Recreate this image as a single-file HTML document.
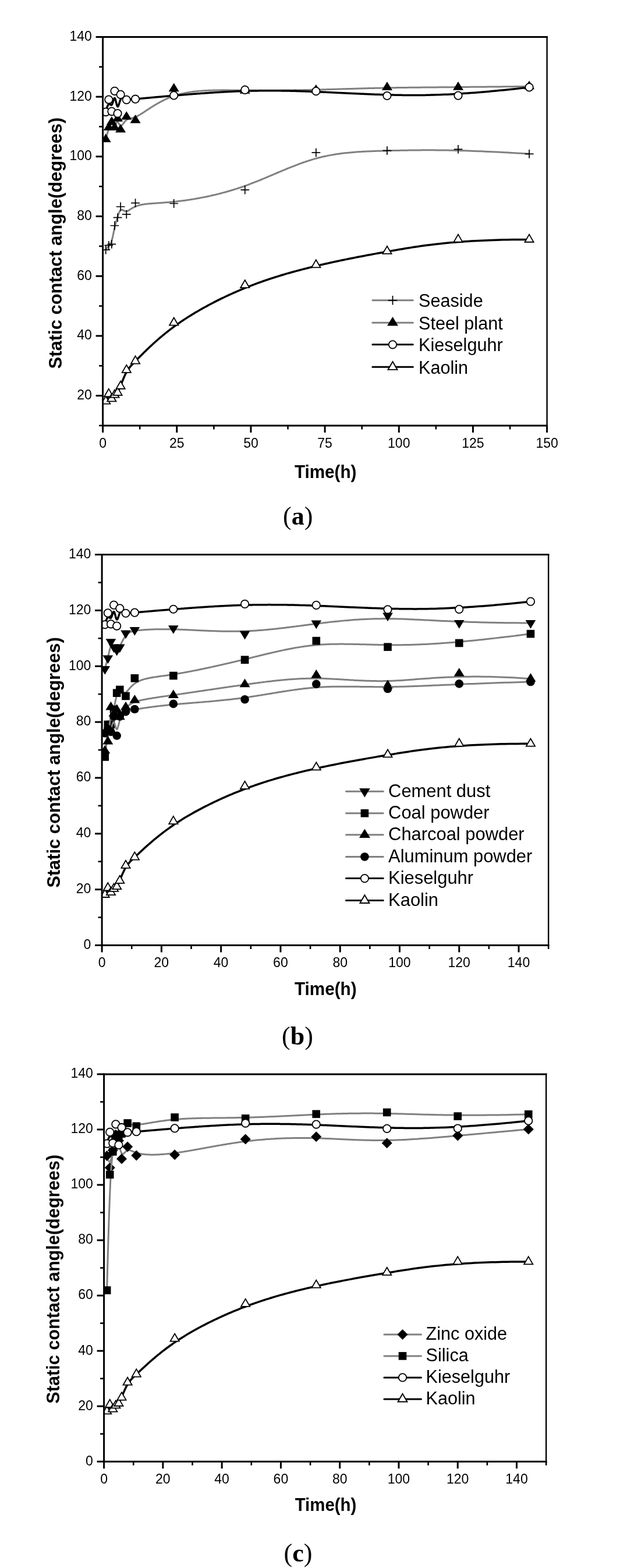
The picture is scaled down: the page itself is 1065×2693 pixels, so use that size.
<!DOCTYPE html>
<html><head><meta charset="utf-8"><title>Static contact angle</title>
<style>html,body{margin:0;padding:0;background:#fff;}svg{display:block;}</style></head>
<body>
<svg width="1065" height="2693" viewBox="0 0 1065 2693">
<rect width="1065" height="2693" fill="#fff"/>
<clipPath id="clip782"><rect x="176.60" y="63.50" width="763.00" height="667.42"/></clipPath>
<g clip-path="url(#clip782)">
<path d="M181.69,429.20 L182.01,428.71 L182.32,428.23 L182.63,427.77 L182.93,427.33 L183.22,426.91 L183.51,426.50 L183.79,426.10 L184.07,425.72 L184.33,425.36 L184.60,425.00 L184.86,424.66 L185.11,424.33 L185.36,424.01 L185.60,423.70 L185.84,423.39 L186.07,423.10 L186.29,422.82 L186.52,422.54 L186.73,422.27 L186.95,422.00 L187.15,421.74 L187.36,421.49 L187.56,421.24 L187.75,420.99 L187.95,420.74 L188.13,420.50 L188.32,420.26 L188.50,420.01 L188.68,419.77 L188.85,419.53 L189.02,419.28 L189.19,419.04 L189.35,418.79 L189.51,418.54 L189.67,418.28 L189.83,418.02 L189.98,417.75 L190.13,417.48 L190.28,417.20 L190.43,416.91 L190.58,416.61 L190.72,416.31 L190.86,415.99 L191.00,415.67 L191.14,415.33 L191.28,414.98 L191.41,414.63 L191.55,414.25 L191.68,413.87 L191.81,413.47 L191.94,413.06 L192.07,412.64 L192.20,412.21 L192.33,411.77 L192.46,411.32 L192.58,410.85 L192.71,410.38 L192.83,409.91 L192.96,409.42 L193.08,408.92 L193.20,408.42 L193.32,407.91 L193.44,407.40 L193.56,406.88 L193.68,406.35 L193.80,405.82 L193.91,405.28 L194.03,404.74 L194.15,404.19 L194.26,403.65 L194.38,403.10 L194.49,402.54 L194.60,401.99 L194.72,401.43 L194.83,400.88 L194.94,400.32 L195.05,399.76 L195.16,399.20 L195.28,398.65 L195.39,398.09 L195.50,397.54 L195.61,396.98 L195.72,396.44 L195.82,395.89 L195.93,395.35 L196.04,394.81 L196.15,394.27 L196.26,393.74 L196.37,393.22 L196.48,392.70 L196.58,392.19 L196.69,391.68 L196.80,391.18 L196.91,390.69 L197.02,390.21 L197.12,389.73 L197.23,389.27 L197.34,388.81 L197.45,388.36 L197.55,387.91 L197.66,387.47 L197.77,387.04 L197.88,386.61 L197.99,386.19 L198.09,385.78 L198.20,385.37 L198.31,384.97 L198.42,384.58 L198.52,384.18 L198.63,383.80 L198.74,383.42 L198.85,383.04 L198.96,382.67 L199.06,382.30 L199.17,381.93 L199.28,381.57 L199.39,381.21 L199.49,380.86 L199.60,380.51 L199.71,380.16 L199.82,379.81 L199.93,379.47 L200.03,379.12 L200.14,378.78 L200.25,378.45 L200.36,378.11 L200.47,377.77 L200.57,377.44 L200.68,377.10 L200.79,376.77 L200.90,376.44 L201.00,376.10 L201.11,375.77 L201.22,375.44 L201.33,375.10 L201.44,374.77 L201.54,374.43 L201.65,374.09 L201.76,373.75 L201.87,373.41 L201.97,373.07 L202.08,372.73 L202.19,372.38 L202.30,372.03 L202.41,371.68 L202.51,371.33 L202.62,370.98 L202.73,370.63 L202.84,370.28 L202.95,369.93 L203.06,369.58 L203.17,369.23 L203.28,368.88 L203.39,368.54 L203.50,368.19 L203.62,367.85 L203.73,367.51 L203.84,367.18 L203.96,366.85 L204.07,366.52 L204.19,366.20 L204.31,365.88 L204.43,365.56 L204.55,365.26 L204.67,364.95 L204.79,364.66 L204.91,364.37 L205.03,364.08 L205.16,363.81 L205.29,363.54 L205.42,363.28 L205.54,363.02 L205.68,362.78 L205.81,362.54 L205.94,362.32 L206.08,362.10 L206.22,361.89 L206.35,361.69 L206.50,361.51 L206.64,361.33 L206.78,361.17 L206.93,361.02 L207.08,360.87 L207.23,360.75 L207.38,360.63 L207.54,360.53 L207.69,360.44 L207.85,360.36 L208.01,360.30 L208.18,360.25 L208.34,360.22 L208.51,360.20 L208.68,360.19 L208.85,360.19 L209.03,360.21 L209.20,360.23 L209.38,360.27 L209.57,360.31 L209.75,360.36 L209.94,360.42 L210.12,360.49 L210.32,360.57 L210.51,360.65 L210.70,360.73 L210.90,360.82 L211.10,360.92 L211.30,361.02 L211.51,361.12 L211.72,361.22 L211.92,361.33 L212.14,361.44 L212.35,361.55 L212.57,361.66 L212.78,361.76 L213.01,361.87 L213.23,361.97 L213.45,362.08 L213.68,362.17 L213.91,362.27 L214.14,362.36 L214.38,362.45 L214.61,362.53 L214.85,362.60 L215.09,362.67 L215.34,362.73 L215.58,362.78 L215.83,362.83 L216.08,362.86 L216.33,362.88 L216.59,362.90 L216.85,362.90 L217.10,362.89 L217.37,362.87 L217.63,362.84 L217.90,362.79 L218.17,362.73 L218.44,362.65 L218.71,362.56 L218.99,362.46 L219.27,362.34 L219.55,362.21 L219.84,362.07 L220.14,361.91 L220.44,361.75 L220.74,361.57 L221.05,361.39 L221.37,361.19 L221.70,360.99 L222.03,360.77 L222.37,360.55 L222.72,360.32 L223.08,360.09 L223.44,359.84 L223.82,359.60 L224.21,359.34 L224.61,359.08 L225.02,358.82 L225.44,358.55 L225.87,358.28 L226.31,358.01 L226.77,357.73 L227.24,357.45 L227.73,357.17 L228.22,356.89 L228.74,356.61 L229.27,356.33 L229.81,356.05 L230.37,355.77 L230.94,355.49 L231.54,355.21 L232.14,354.94 L232.77,354.67 L233.42,354.40 L234.08,354.14 L234.76,353.88 L235.46,353.62 L236.19,353.38 L236.93,353.13 L237.69,352.90 L238.47,352.67 L239.28,352.45 L240.10,352.24 L240.95,352.03 L241.82,351.84 L242.72,351.65 L243.64,351.48 L244.58,351.31 L245.54,351.15 L246.53,350.99 L247.54,350.84 L248.57,350.70 L249.63,350.57 L250.71,350.44 L251.81,350.31 L252.94,350.19 L254.09,350.07 L255.26,349.96 L256.46,349.85 L257.68,349.74 L258.92,349.64 L260.19,349.54 L261.48,349.44 L262.79,349.34 L264.13,349.24 L265.50,349.14 L266.88,349.04 L268.29,348.94 L269.73,348.84 L271.19,348.74 L272.67,348.63 L274.18,348.53 L275.71,348.42 L277.26,348.31 L278.84,348.19 L280.45,348.07 L282.08,347.95 L283.73,347.82 L285.41,347.69 L287.11,347.55 L288.83,347.40 L290.59,347.25 L292.36,347.09 L294.16,346.92 L295.99,346.75 L297.84,346.57 L299.71,346.37 L301.61,346.17 L303.54,345.96 L305.49,345.74 L307.46,345.51 L309.46,345.27 L311.49,345.02 L313.54,344.76 L315.61,344.48 L317.71,344.20 L319.82,343.90 L321.96,343.59 L324.13,343.27 L326.31,342.94 L328.51,342.59 L330.74,342.23 L332.98,341.86 L335.24,341.48 L337.52,341.08 L339.82,340.67 L342.14,340.25 L344.47,339.81 L346.82,339.36 L349.18,338.90 L351.56,338.42 L353.95,337.93 L356.36,337.43 L358.78,336.91 L361.22,336.37 L363.67,335.83 L366.12,335.26 L368.59,334.68 L371.08,334.09 L373.57,333.48 L376.07,332.86 L378.58,332.22 L381.10,331.56 L383.63,330.89 L386.16,330.21 L388.71,329.50 L391.26,328.78 L393.81,328.05 L396.37,327.30 L398.94,326.53 L401.51,325.74 L404.08,324.94 L406.66,324.12 L409.24,323.28 L411.83,322.43 L414.41,321.55 L417.00,320.66 L419.58,319.75 L422.17,318.83 L424.76,317.88 L427.35,316.92 L429.93,315.94 L432.52,314.95 L435.11,313.94 L437.70,312.93 L440.28,311.89 L442.87,310.85 L445.46,309.80 L448.05,308.74 L450.63,307.67 L453.22,306.60 L455.81,305.51 L458.40,304.43 L460.98,303.33 L463.57,302.24 L466.16,301.14 L468.75,300.04 L471.33,298.94 L473.92,297.85 L476.51,296.75 L479.09,295.65 L481.68,294.56 L484.27,293.48 L486.86,292.40 L489.44,291.32 L492.03,290.25 L494.62,289.20 L497.21,288.15 L499.79,287.11 L502.38,286.08 L504.97,285.06 L507.56,284.06 L510.14,283.07 L512.73,282.09 L515.32,281.14 L517.91,280.19 L520.49,279.27 L523.08,278.37 L525.67,277.48 L528.26,276.62 L530.84,275.78 L533.43,274.96 L536.02,274.16 L538.61,273.39 L541.19,272.64 L543.78,271.93 L546.37,271.23 L548.96,270.57 L551.55,269.93 L554.14,269.31 L556.73,268.72 L559.33,268.16 L561.93,267.61 L564.54,267.10 L567.15,266.60 L569.76,266.12 L572.38,265.67 L575.01,265.24 L577.65,264.82 L580.29,264.43 L582.94,264.05 L585.60,263.70 L588.27,263.36 L590.95,263.04 L593.65,262.73 L596.35,262.44 L599.06,262.17 L601.79,261.91 L604.53,261.67 L607.28,261.44 L610.05,261.22 L612.83,261.02 L615.63,260.82 L618.44,260.64 L621.27,260.47 L624.12,260.31 L626.98,260.16 L629.86,260.02 L632.76,259.89 L635.68,259.77 L638.62,259.65 L641.59,259.54 L644.57,259.44 L647.57,259.34 L650.60,259.25 L653.65,259.16 L656.72,259.07 L659.82,258.99 L662.94,258.91 L666.09,258.84 L669.26,258.77 L672.46,258.69 L675.68,258.62 L678.94,258.55 L682.22,258.48 L685.54,258.41 L688.89,258.34 L692.29,258.27 L695.73,258.21 L699.21,258.15 L702.74,258.09 L706.32,258.04 L709.96,257.99 L713.65,257.95 L717.40,257.92 L721.22,257.89 L725.10,257.86 L729.05,257.85 L733.07,257.84 L737.17,257.84 L741.34,257.85 L745.60,257.87 L749.93,257.90 L754.36,257.94 L758.87,257.99 L763.47,258.05 L768.17,258.12 L772.97,258.21 L777.86,258.31 L782.86,258.42 L787.97,258.55 L793.19,258.69 L798.51,258.85 L803.96,259.02 L809.52,259.21 L815.20,259.41 L821.01,259.63 L826.94,259.87 L833.00,260.13 L839.20,260.40 L845.53,260.70 L852.00,261.01 L858.61,261.35 L865.36,261.70 L872.26,262.08 L879.32,262.48 L886.52,262.90 L893.88,263.34 L901.40,263.81 L909.08,264.30" fill="none" stroke="#808080" stroke-width="3.00" stroke-linejoin="round"/>
<path d="M174.29,429.20H189.09M181.69,421.80V436.60" stroke="#000" stroke-width="1.7" fill="none"/>
<path d="M179.37,421.30H194.17M186.77,413.90V428.70" stroke="#000" stroke-width="1.7" fill="none"/>
<path d="M184.46,419.40H199.26M191.86,412.00V426.80" stroke="#000" stroke-width="1.7" fill="none"/>
<path d="M189.55,387.50H204.35M196.95,380.10V394.90" stroke="#000" stroke-width="1.7" fill="none"/>
<path d="M194.63,373.70H209.43M202.03,366.30V381.10" stroke="#000" stroke-width="1.7" fill="none"/>
<path d="M199.72,355.00H214.52M207.12,347.60V362.40" stroke="#000" stroke-width="1.7" fill="none"/>
<path d="M209.89,368.20H224.69M217.29,360.80V375.60" stroke="#000" stroke-width="1.7" fill="none"/>
<path d="M225.15,348.60H239.95M232.55,341.20V356.00" stroke="#000" stroke-width="1.7" fill="none"/>
<path d="M291.28,349.50H306.08M298.68,342.10V356.90" stroke="#000" stroke-width="1.7" fill="none"/>
<path d="M413.36,326.10H428.16M420.76,318.70V333.50" stroke="#000" stroke-width="1.7" fill="none"/>
<path d="M535.44,262.10H550.24M542.84,254.70V269.50" stroke="#000" stroke-width="1.7" fill="none"/>
<path d="M657.52,258.60H672.32M664.92,251.20V266.00" stroke="#000" stroke-width="1.7" fill="none"/>
<path d="M779.60,256.40H794.40M787.00,249.00V263.80" stroke="#000" stroke-width="1.7" fill="none"/>
<path d="M901.68,264.30H916.48M909.08,256.90V271.70" stroke="#000" stroke-width="1.7" fill="none"/>
<path d="M181.69,239.40 L182.01,238.14 L182.32,236.91 L182.63,235.73 L182.93,234.59 L183.22,233.48 L183.51,232.42 L183.79,231.39 L184.07,230.39 L184.33,229.44 L184.60,228.52 L184.86,227.63 L185.11,226.78 L185.36,225.96 L185.60,225.18 L185.84,224.43 L186.07,223.70 L186.29,223.01 L186.52,222.36 L186.73,221.73 L186.95,221.13 L187.15,220.55 L187.36,220.01 L187.56,219.49 L187.75,219.00 L187.95,218.54 L188.13,218.10 L188.32,217.68 L188.50,217.29 L188.68,216.92 L188.85,216.58 L189.02,216.26 L189.19,215.95 L189.35,215.67 L189.51,215.41 L189.67,215.17 L189.83,214.95 L189.98,214.74 L190.13,214.56 L190.28,214.39 L190.43,214.23 L190.58,214.09 L190.72,213.97 L190.86,213.86 L191.00,213.76 L191.14,213.68 L191.28,213.61 L191.41,213.55 L191.55,213.50 L191.68,213.47 L191.81,213.44 L191.94,213.42 L192.07,213.41 L192.20,213.41 L192.33,213.42 L192.46,213.44 L192.58,213.46 L192.71,213.49 L192.83,213.52 L192.96,213.57 L193.08,213.61 L193.20,213.66 L193.32,213.72 L193.44,213.78 L193.56,213.85 L193.68,213.91 L193.80,213.98 L193.91,214.05 L194.03,214.13 L194.15,214.20 L194.26,214.27 L194.38,214.35 L194.49,214.42 L194.60,214.50 L194.72,214.57 L194.83,214.64 L194.94,214.71 L195.05,214.78 L195.16,214.84 L195.28,214.90 L195.39,214.95 L195.50,215.00 L195.61,215.05 L195.72,215.09 L195.82,215.12 L195.93,215.15 L196.04,215.17 L196.15,215.19 L196.26,215.19 L196.37,215.19 L196.48,215.18 L196.58,215.16 L196.69,215.13 L196.80,215.09 L196.91,215.04 L197.02,214.98 L197.12,214.90 L197.23,214.82 L197.34,214.73 L197.45,214.62 L197.55,214.51 L197.66,214.40 L197.77,214.27 L197.88,214.14 L197.99,214.00 L198.09,213.85 L198.20,213.70 L198.31,213.54 L198.42,213.38 L198.52,213.22 L198.63,213.05 L198.74,212.89 L198.85,212.71 L198.96,212.54 L199.06,212.37 L199.17,212.20 L199.28,212.03 L199.39,211.85 L199.49,211.68 L199.60,211.52 L199.71,211.35 L199.82,211.19 L199.93,211.03 L200.03,210.88 L200.14,210.73 L200.25,210.59 L200.36,210.45 L200.47,210.32 L200.57,210.19 L200.68,210.08 L200.79,209.97 L200.90,209.87 L201.00,209.78 L201.11,209.70 L201.22,209.63 L201.33,209.58 L201.44,209.53 L201.54,209.50 L201.65,209.48 L201.76,209.47 L201.87,209.48 L201.97,209.50 L202.08,209.54 L202.19,209.59 L202.30,209.65 L202.41,209.73 L202.51,209.82 L202.62,209.93 L202.73,210.04 L202.84,210.17 L202.95,210.31 L203.06,210.46 L203.17,210.61 L203.28,210.77 L203.39,210.94 L203.50,211.12 L203.62,211.30 L203.73,211.49 L203.84,211.68 L203.96,211.88 L204.07,212.07 L204.19,212.28 L204.31,212.48 L204.43,212.68 L204.55,212.88 L204.67,213.09 L204.79,213.29 L204.91,213.48 L205.03,213.68 L205.16,213.87 L205.29,214.06 L205.42,214.24 L205.54,214.42 L205.68,214.59 L205.81,214.76 L205.94,214.91 L206.08,215.06 L206.22,215.20 L206.35,215.33 L206.50,215.44 L206.64,215.55 L206.78,215.64 L206.93,215.72 L207.08,215.79 L207.23,215.85 L207.38,215.88 L207.54,215.91 L207.69,215.91 L207.85,215.90 L208.01,215.87 L208.18,215.83 L208.34,215.76 L208.51,215.68 L208.68,215.58 L208.85,215.47 L209.03,215.34 L209.20,215.20 L209.38,215.04 L209.57,214.88 L209.75,214.69 L209.94,214.50 L210.12,214.30 L210.32,214.08 L210.51,213.86 L210.70,213.63 L210.90,213.39 L211.10,213.14 L211.30,212.88 L211.51,212.62 L211.72,212.35 L211.92,212.08 L212.14,211.80 L212.35,211.52 L212.57,211.23 L212.78,210.95 L213.01,210.66 L213.23,210.37 L213.45,210.08 L213.68,209.78 L213.91,209.49 L214.14,209.21 L214.38,208.92 L214.61,208.64 L214.85,208.36 L215.09,208.08 L215.34,207.81 L215.58,207.54 L215.83,207.28 L216.08,207.03 L216.33,206.78 L216.59,206.54 L216.85,206.31 L217.10,206.09 L217.37,205.88 L217.63,205.68 L217.90,205.49 L218.17,205.32 L218.44,205.15 L218.71,205.00 L218.99,204.86 L219.27,204.73 L219.55,204.60 L219.84,204.49 L220.14,204.38 L220.44,204.28 L220.74,204.18 L221.05,204.09 L221.37,204.01 L221.70,203.92 L222.03,203.84 L222.37,203.76 L222.72,203.69 L223.08,203.61 L223.44,203.53 L223.82,203.45 L224.21,203.36 L224.61,203.28 L225.02,203.18 L225.44,203.09 L225.87,202.99 L226.31,202.88 L226.77,202.76 L227.24,202.63 L227.73,202.50 L228.22,202.35 L228.74,202.20 L229.27,202.03 L229.81,201.85 L230.37,201.66 L230.94,201.45 L231.54,201.22 L232.14,200.98 L232.77,200.73 L233.42,200.45 L234.08,200.16 L234.76,199.85 L235.46,199.52 L236.19,199.17 L236.93,198.79 L237.69,198.39 L238.47,197.97 L239.28,197.53 L240.10,197.06 L240.95,196.56 L241.82,196.04 L242.72,195.49 L243.64,194.92 L244.58,194.32 L245.54,193.70 L246.53,193.06 L247.54,192.40 L248.57,191.72 L249.63,191.02 L250.71,190.31 L251.81,189.57 L252.94,188.83 L254.09,188.07 L255.26,187.30 L256.46,186.51 L257.68,185.72 L258.92,184.92 L260.19,184.11 L261.48,183.29 L262.79,182.46 L264.13,181.64 L265.50,180.81 L266.88,179.97 L268.29,179.14 L269.73,178.30 L271.19,177.47 L272.67,176.63 L274.18,175.81 L275.71,174.98 L277.26,174.16 L278.84,173.35 L280.45,172.54 L282.08,171.75 L283.73,170.96 L285.41,170.18 L287.11,169.42 L288.83,168.67 L290.59,167.94 L292.36,167.22 L294.16,166.51 L295.99,165.83 L297.84,165.16 L299.71,164.51 L301.61,163.89 L303.54,163.28 L305.49,162.70 L307.46,162.15 L309.46,161.62 L311.49,161.11 L313.54,160.63 L315.61,160.18 L317.71,159.74 L319.82,159.33 L321.96,158.95 L324.13,158.58 L326.31,158.24 L328.51,157.92 L330.74,157.61 L332.98,157.33 L335.24,157.07 L337.52,156.82 L339.82,156.59 L342.14,156.38 L344.47,156.19 L346.82,156.01 L349.18,155.85 L351.56,155.70 L353.95,155.56 L356.36,155.44 L358.78,155.34 L361.22,155.24 L363.67,155.16 L366.12,155.08 L368.59,155.02 L371.08,154.97 L373.57,154.93 L376.07,154.90 L378.58,154.87 L381.10,154.85 L383.63,154.84 L386.16,154.84 L388.71,154.84 L391.26,154.85 L393.81,154.86 L396.37,154.88 L398.94,154.89 L401.51,154.92 L404.08,154.94 L406.66,154.97 L409.24,155.00 L411.83,155.02 L414.41,155.05 L417.00,155.08 L419.58,155.11 L422.17,155.13 L424.76,155.15 L427.35,155.17 L429.93,155.19 L432.52,155.21 L435.11,155.22 L437.70,155.23 L440.28,155.24 L442.87,155.25 L445.46,155.25 L448.05,155.26 L450.63,155.26 L453.22,155.26 L455.81,155.26 L458.40,155.25 L460.98,155.25 L463.57,155.24 L466.16,155.23 L468.75,155.22 L471.33,155.20 L473.92,155.19 L476.51,155.17 L479.09,155.15 L481.68,155.13 L484.27,155.11 L486.86,155.08 L489.44,155.06 L492.03,155.03 L494.62,155.00 L497.21,154.96 L499.79,154.93 L502.38,154.89 L504.97,154.86 L507.56,154.82 L510.14,154.78 L512.73,154.73 L515.32,154.69 L517.91,154.64 L520.49,154.60 L523.08,154.55 L525.67,154.50 L528.26,154.44 L530.84,154.39 L533.43,154.33 L536.02,154.28 L538.61,154.22 L541.19,154.16 L543.78,154.09 L546.37,154.03 L548.96,153.96 L551.55,153.90 L554.14,153.83 L556.73,153.76 L559.33,153.69 L561.93,153.62 L564.54,153.55 L567.15,153.47 L569.76,153.40 L572.38,153.32 L575.01,153.25 L577.65,153.17 L580.29,153.09 L582.94,153.02 L585.60,152.94 L588.27,152.86 L590.95,152.78 L593.65,152.70 L596.35,152.62 L599.06,152.54 L601.79,152.47 L604.53,152.39 L607.28,152.31 L610.05,152.23 L612.83,152.15 L615.63,152.07 L618.44,152.00 L621.27,151.92 L624.12,151.84 L626.98,151.77 L629.86,151.69 L632.76,151.62 L635.68,151.55 L638.62,151.48 L641.59,151.41 L644.57,151.34 L647.57,151.27 L650.60,151.20 L653.65,151.14 L656.72,151.07 L659.82,151.01 L662.94,150.95 L666.09,150.89 L669.26,150.83 L672.46,150.78 L675.68,150.72 L678.94,150.67 L682.22,150.62 L685.54,150.57 L688.89,150.53 L692.29,150.48 L695.73,150.44 L699.21,150.40 L702.74,150.35 L706.32,150.31 L709.96,150.27 L713.65,150.24 L717.40,150.20 L721.22,150.16 L725.10,150.12 L729.05,150.09 L733.07,150.05 L737.17,150.01 L741.34,149.97 L745.60,149.94 L749.93,149.90 L754.36,149.86 L758.87,149.82 L763.47,149.78 L768.17,149.74 L772.97,149.70 L777.86,149.66 L782.86,149.62 L787.97,149.57 L793.19,149.52 L798.51,149.48 L803.96,149.43 L809.52,149.37 L815.20,149.32 L821.01,149.27 L826.94,149.21 L833.00,149.15 L839.20,149.09 L845.53,149.02 L852.00,148.95 L858.61,148.88 L865.36,148.81 L872.26,148.73 L879.32,148.65 L886.52,148.57 L893.88,148.48 L901.40,148.39 L909.08,148.30" fill="none" stroke="#808080" stroke-width="3.00" stroke-linejoin="round"/>
<path d="M181.69,229.60L190.69,244.30L172.69,244.30Z" fill="#000"/>
<path d="M186.77,209.40L195.77,224.10L177.77,224.10Z" fill="#000"/>
<path d="M191.86,199.70L200.86,214.40L182.86,214.40Z" fill="#000"/>
<path d="M196.95,209.40L205.95,224.10L187.95,224.10Z" fill="#000"/>
<path d="M202.03,194.00L211.03,208.70L193.03,208.70Z" fill="#000"/>
<path d="M207.12,212.90L216.12,227.60L198.12,227.60Z" fill="#000"/>
<path d="M217.29,190.90L226.29,205.60L208.29,205.60Z" fill="#000"/>
<path d="M232.55,196.70L241.55,211.40L223.55,211.40Z" fill="#000"/>
<path d="M298.68,142.60L307.68,157.30L289.68,157.30Z" fill="#000"/>
<path d="M420.76,146.10L429.76,160.80L411.76,160.80Z" fill="#000"/>
<path d="M542.84,144.90L551.84,159.60L533.84,159.60Z" fill="#000"/>
<path d="M664.92,140.20L673.92,154.90L655.92,154.90Z" fill="#000"/>
<path d="M787.00,140.00L796.00,154.70L778.00,154.70Z" fill="#000"/>
<path d="M909.08,138.50L918.08,153.20L900.08,153.20Z" fill="#000"/>
<path d="M181.69,192.31 L182.01,191.00 L182.32,189.77 L182.63,188.62 L182.93,187.55 L183.22,186.55 L183.51,185.62 L183.79,184.77 L184.07,183.98 L184.33,183.26 L184.60,182.60 L184.86,182.00 L185.11,181.46 L185.36,180.98 L185.60,180.55 L185.84,180.17 L186.07,179.83 L186.29,179.55 L186.52,179.31 L186.73,179.11 L186.95,178.94 L187.15,178.82 L187.36,178.73 L187.56,178.67 L187.75,178.64 L187.95,178.63 L188.13,178.65 L188.32,178.69 L188.50,178.75 L188.68,178.83 L188.85,178.93 L189.02,179.03 L189.19,179.15 L189.35,179.27 L189.51,179.39 L189.67,179.52 L189.83,179.65 L189.98,179.78 L190.13,179.90 L190.28,180.02 L190.43,180.13 L190.58,180.22 L190.72,180.30 L190.86,180.36 L191.00,180.41 L191.14,180.43 L191.28,180.43 L191.41,180.40 L191.55,180.34 L191.68,180.25 L191.81,180.14 L191.94,180.00 L192.07,179.84 L192.20,179.65 L192.33,179.45 L192.46,179.22 L192.58,178.97 L192.71,178.71 L192.83,178.43 L192.96,178.13 L193.08,177.82 L193.20,177.50 L193.32,177.17 L193.44,176.82 L193.56,176.47 L193.68,176.11 L193.80,175.75 L193.91,175.38 L194.03,175.01 L194.15,174.63 L194.26,174.26 L194.38,173.89 L194.49,173.52 L194.60,173.15 L194.72,172.78 L194.83,172.43 L194.94,172.08 L195.05,171.73 L195.16,171.40 L195.28,171.08 L195.39,170.78 L195.50,170.48 L195.61,170.21 L195.72,169.94 L195.82,169.70 L195.93,169.48 L196.04,169.27 L196.15,169.09 L196.26,168.93 L196.37,168.80 L196.48,168.69 L196.58,168.61 L196.69,168.56 L196.80,168.54 L196.91,168.55 L197.02,168.59 L197.12,168.66 L197.23,168.77 L197.34,168.90 L197.45,169.06 L197.55,169.25 L197.66,169.46 L197.77,169.70 L197.88,169.96 L197.99,170.24 L198.09,170.54 L198.20,170.86 L198.31,171.20 L198.42,171.55 L198.52,171.91 L198.63,172.29 L198.74,172.68 L198.85,173.08 L198.96,173.49 L199.06,173.91 L199.17,174.33 L199.28,174.76 L199.39,175.19 L199.49,175.62 L199.60,176.06 L199.71,176.49 L199.82,176.92 L199.93,177.34 L200.03,177.76 L200.14,178.18 L200.25,178.59 L200.36,178.98 L200.47,179.37 L200.57,179.75 L200.68,180.11 L200.79,180.46 L200.90,180.79 L201.00,181.10 L201.11,181.40 L201.22,181.68 L201.33,181.93 L201.44,182.16 L201.54,182.37 L201.65,182.55 L201.76,182.71 L201.87,182.83 L201.97,182.93 L202.08,182.99 L202.19,183.03 L202.30,183.03 L202.41,183.01 L202.51,182.95 L202.62,182.87 L202.73,182.77 L202.84,182.64 L202.95,182.48 L203.06,182.30 L203.17,182.10 L203.28,181.88 L203.39,181.64 L203.50,181.39 L203.62,181.11 L203.73,180.82 L203.84,180.51 L203.96,180.19 L204.07,179.85 L204.19,179.51 L204.31,179.15 L204.43,178.78 L204.55,178.40 L204.67,178.02 L204.79,177.63 L204.91,177.23 L205.03,176.83 L205.16,176.42 L205.29,176.02 L205.42,175.61 L205.54,175.20 L205.68,174.79 L205.81,174.38 L205.94,173.98 L206.08,173.58 L206.22,173.18 L206.35,172.79 L206.50,172.41 L206.64,172.04 L206.78,171.67 L206.93,171.32 L207.08,170.98 L207.23,170.65 L207.38,170.33 L207.54,170.03 L207.69,169.74 L207.85,169.47 L208.01,169.22 L208.18,168.99 L208.34,168.77 L208.51,168.57 L208.68,168.39 L208.85,168.23 L209.03,168.08 L209.20,167.95 L209.38,167.83 L209.57,167.73 L209.75,167.64 L209.94,167.56 L210.12,167.50 L210.32,167.45 L210.51,167.41 L210.70,167.38 L210.90,167.37 L211.10,167.36 L211.30,167.37 L211.51,167.38 L211.72,167.41 L211.92,167.44 L212.14,167.48 L212.35,167.53 L212.57,167.59 L212.78,167.65 L213.01,167.72 L213.23,167.79 L213.45,167.87 L213.68,167.96 L213.91,168.04 L214.14,168.14 L214.38,168.23 L214.61,168.33 L214.85,168.43 L215.09,168.53 L215.34,168.64 L215.58,168.74 L215.83,168.84 L216.08,168.95 L216.33,169.05 L216.59,169.15 L216.85,169.25 L217.10,169.35 L217.37,169.45 L217.63,169.54 L217.90,169.63 L218.17,169.71 L218.44,169.79 L218.71,169.87 L218.99,169.94 L219.27,170.01 L219.55,170.07 L219.84,170.13 L220.14,170.18 L220.44,170.23 L220.74,170.27 L221.05,170.31 L221.37,170.35 L221.70,170.38 L222.03,170.41 L222.37,170.44 L222.72,170.46 L223.08,170.47 L223.44,170.49 L223.82,170.50 L224.21,170.50 L224.61,170.50 L225.02,170.50 L225.44,170.50 L225.87,170.49 L226.31,170.48 L226.77,170.46 L227.24,170.44 L227.73,170.42 L228.22,170.39 L228.74,170.36 L229.27,170.33 L229.81,170.30 L230.37,170.26 L230.94,170.22 L231.54,170.17 L232.14,170.13 L232.77,170.08 L233.42,170.02 L234.08,169.97 L234.76,169.91 L235.46,169.85 L236.19,169.79 L236.93,169.72 L237.69,169.65 L238.47,169.58 L239.28,169.51 L240.10,169.43 L240.95,169.35 L241.82,169.27 L242.72,169.19 L243.64,169.11 L244.58,169.02 L245.54,168.93 L246.53,168.84 L247.54,168.74 L248.57,168.65 L249.63,168.55 L250.71,168.45 L251.81,168.35 L252.94,168.24 L254.09,168.14 L255.26,168.03 L256.46,167.92 L257.68,167.81 L258.92,167.69 L260.19,167.58 L261.48,167.46 L262.79,167.34 L264.13,167.22 L265.50,167.09 L266.88,166.97 L268.29,166.84 L269.73,166.71 L271.19,166.58 L272.67,166.45 L274.18,166.31 L275.71,166.17 L277.26,166.04 L278.84,165.90 L280.45,165.75 L282.08,165.61 L283.73,165.46 L285.41,165.32 L287.11,165.17 L288.83,165.02 L290.59,164.87 L292.36,164.71 L294.16,164.56 L295.99,164.40 L297.84,164.24 L299.71,164.08 L301.61,163.92 L303.54,163.76 L305.49,163.59 L307.46,163.43 L309.46,163.26 L311.49,163.09 L313.54,162.92 L315.61,162.75 L317.71,162.58 L319.82,162.41 L321.96,162.23 L324.13,162.06 L326.31,161.88 L328.51,161.71 L330.74,161.54 L332.98,161.36 L335.24,161.19 L337.52,161.01 L339.82,160.84 L342.14,160.67 L344.47,160.50 L346.82,160.32 L349.18,160.15 L351.56,159.99 L353.95,159.82 L356.36,159.65 L358.78,159.49 L361.22,159.33 L363.67,159.16 L366.12,159.01 L368.59,158.85 L371.08,158.70 L373.57,158.54 L376.07,158.40 L378.58,158.25 L381.10,158.11 L383.63,157.97 L386.16,157.83 L388.71,157.69 L391.26,157.56 L393.81,157.44 L396.37,157.32 L398.94,157.20 L401.51,157.08 L404.08,156.97 L406.66,156.86 L409.24,156.76 L411.83,156.66 L414.41,156.57 L417.00,156.48 L419.58,156.40 L422.17,156.32 L424.76,156.25 L427.35,156.18 L429.93,156.12 L432.52,156.07 L435.11,156.01 L437.70,155.97 L440.28,155.92 L442.87,155.89 L445.46,155.85 L448.05,155.83 L450.63,155.80 L453.22,155.78 L455.81,155.77 L458.40,155.76 L460.98,155.75 L463.57,155.75 L466.16,155.76 L468.75,155.76 L471.33,155.77 L473.92,155.79 L476.51,155.81 L479.09,155.83 L481.68,155.86 L484.27,155.89 L486.86,155.93 L489.44,155.97 L492.03,156.01 L494.62,156.06 L497.21,156.11 L499.79,156.16 L502.38,156.22 L504.97,156.28 L507.56,156.35 L510.14,156.42 L512.73,156.49 L515.32,156.56 L517.91,156.64 L520.49,156.72 L523.08,156.80 L525.67,156.89 L528.26,156.98 L530.84,157.07 L533.43,157.17 L536.02,157.27 L538.61,157.37 L541.19,157.47 L543.78,157.58 L546.37,157.69 L548.96,157.80 L551.55,157.91 L554.14,158.03 L556.73,158.14 L559.33,158.26 L561.93,158.38 L564.54,158.51 L567.15,158.63 L569.76,158.76 L572.38,158.88 L575.01,159.01 L577.65,159.14 L580.29,159.27 L582.94,159.40 L585.60,159.53 L588.27,159.66 L590.95,159.79 L593.65,159.92 L596.35,160.05 L599.06,160.18 L601.79,160.32 L604.53,160.45 L607.28,160.57 L610.05,160.70 L612.83,160.83 L615.63,160.96 L618.44,161.08 L621.27,161.21 L624.12,161.33 L626.98,161.45 L629.86,161.57 L632.76,161.69 L635.68,161.81 L638.62,161.92 L641.59,162.03 L644.57,162.14 L647.57,162.25 L650.60,162.36 L653.65,162.46 L656.72,162.56 L659.82,162.65 L662.94,162.74 L666.09,162.83 L669.26,162.92 L672.46,163.00 L675.68,163.08 L678.94,163.15 L682.22,163.22 L685.54,163.29 L688.89,163.35 L692.29,163.40 L695.73,163.44 L699.21,163.48 L702.74,163.50 L706.32,163.52 L709.96,163.53 L713.65,163.52 L717.40,163.51 L721.22,163.48 L725.10,163.44 L729.05,163.38 L733.07,163.31 L737.17,163.22 L741.34,163.12 L745.60,163.00 L749.93,162.86 L754.36,162.71 L758.87,162.53 L763.47,162.34 L768.17,162.13 L772.97,161.89 L777.86,161.63 L782.86,161.35 L787.97,161.05 L793.19,160.72 L798.51,160.37 L803.96,159.99 L809.52,159.59 L815.20,159.16 L821.01,158.70 L826.94,158.21 L833.00,157.70 L839.20,157.15 L845.53,156.58 L852.00,155.97 L858.61,155.33 L865.36,154.66 L872.26,153.95 L879.32,153.22 L886.52,152.44 L893.88,151.63 L901.40,150.79 L909.08,149.91" fill="none" stroke="#000" stroke-width="3.50" stroke-linejoin="round"/>
<circle cx="181.69" cy="192.31" r="6.7" fill="#fff" stroke="#000" stroke-width="1.8"/>
<circle cx="186.77" cy="171.01" r="6.7" fill="#fff" stroke="#000" stroke-width="1.8"/>
<circle cx="191.86" cy="191.29" r="6.7" fill="#fff" stroke="#000" stroke-width="1.8"/>
<circle cx="196.95" cy="156.32" r="6.7" fill="#fff" stroke="#000" stroke-width="1.8"/>
<circle cx="202.03" cy="194.78" r="6.7" fill="#fff" stroke="#000" stroke-width="1.8"/>
<circle cx="207.12" cy="162.38" r="6.7" fill="#fff" stroke="#000" stroke-width="1.8"/>
<circle cx="217.29" cy="171.42" r="6.7" fill="#fff" stroke="#000" stroke-width="1.8"/>
<circle cx="232.55" cy="170.18" r="6.7" fill="#fff" stroke="#000" stroke-width="1.8"/>
<circle cx="298.68" cy="163.92" r="6.7" fill="#fff" stroke="#000" stroke-width="1.8"/>
<circle cx="420.76" cy="154.42" r="6.7" fill="#fff" stroke="#000" stroke-width="1.8"/>
<circle cx="542.84" cy="156.58" r="6.7" fill="#fff" stroke="#000" stroke-width="1.8"/>
<circle cx="664.92" cy="164.49" r="6.7" fill="#fff" stroke="#000" stroke-width="1.8"/>
<circle cx="787.00" cy="164.08" r="6.7" fill="#fff" stroke="#000" stroke-width="1.8"/>
<circle cx="909.08" cy="149.91" r="6.7" fill="#fff" stroke="#000" stroke-width="1.8"/>
<path d="M181.69,689.18 L182.01,688.41 L182.32,687.68 L182.63,686.99 L182.93,686.34 L183.22,685.74 L183.51,685.17 L183.79,684.64 L184.07,684.15 L184.33,683.70 L184.60,683.27 L184.86,682.89 L185.11,682.53 L185.36,682.21 L185.60,681.92 L185.84,681.65 L186.07,681.42 L186.29,681.21 L186.52,681.03 L186.73,680.87 L186.95,680.73 L187.15,680.62 L187.36,680.53 L187.56,680.45 L187.75,680.40 L187.95,680.36 L188.13,680.35 L188.32,680.34 L188.50,680.35 L188.68,680.38 L188.85,680.41 L189.02,680.46 L189.19,680.52 L189.35,680.58 L189.51,680.65 L189.67,680.73 L189.83,680.82 L189.98,680.91 L190.13,681.00 L190.28,681.09 L190.43,681.19 L190.58,681.28 L190.72,681.37 L190.86,681.46 L191.00,681.55 L191.14,681.63 L191.28,681.70 L191.41,681.77 L191.55,681.83 L191.68,681.88 L191.81,681.92 L191.94,681.95 L192.07,681.98 L192.20,682.00 L192.33,682.01 L192.46,682.01 L192.58,682.01 L192.71,682.00 L192.83,681.98 L192.96,681.96 L193.08,681.93 L193.20,681.90 L193.32,681.86 L193.44,681.81 L193.56,681.76 L193.68,681.71 L193.80,681.64 L193.91,681.58 L194.03,681.51 L194.15,681.43 L194.26,681.36 L194.38,681.27 L194.49,681.19 L194.60,681.10 L194.72,681.01 L194.83,680.91 L194.94,680.81 L195.05,680.71 L195.16,680.61 L195.28,680.50 L195.39,680.39 L195.50,680.28 L195.61,680.17 L195.72,680.06 L195.82,679.95 L195.93,679.83 L196.04,679.72 L196.15,679.60 L196.26,679.49 L196.37,679.37 L196.48,679.26 L196.58,679.14 L196.69,679.03 L196.80,678.91 L196.91,678.80 L197.02,678.69 L197.12,678.58 L197.23,678.47 L197.34,678.36 L197.45,678.25 L197.55,678.14 L197.66,678.04 L197.77,677.93 L197.88,677.83 L197.99,677.72 L198.09,677.62 L198.20,677.51 L198.31,677.41 L198.42,677.31 L198.52,677.20 L198.63,677.10 L198.74,676.99 L198.85,676.89 L198.96,676.78 L199.06,676.68 L199.17,676.57 L199.28,676.47 L199.39,676.36 L199.49,676.25 L199.60,676.14 L199.71,676.03 L199.82,675.92 L199.93,675.80 L200.03,675.69 L200.14,675.57 L200.25,675.46 L200.36,675.34 L200.47,675.22 L200.57,675.09 L200.68,674.97 L200.79,674.84 L200.90,674.72 L201.00,674.58 L201.11,674.45 L201.22,674.32 L201.33,674.18 L201.44,674.04 L201.54,673.89 L201.65,673.75 L201.76,673.60 L201.87,673.45 L201.97,673.29 L202.08,673.13 L202.19,672.97 L202.30,672.81 L202.41,672.64 L202.51,672.47 L202.62,672.29 L202.73,672.11 L202.84,671.93 L202.95,671.74 L203.06,671.55 L203.17,671.36 L203.28,671.16 L203.39,670.96 L203.50,670.75 L203.62,670.54 L203.73,670.32 L203.84,670.10 L203.96,669.87 L204.07,669.64 L204.19,669.41 L204.31,669.16 L204.43,668.92 L204.55,668.67 L204.67,668.41 L204.79,668.15 L204.91,667.88 L205.03,667.61 L205.16,667.33 L205.29,667.05 L205.42,666.76 L205.54,666.46 L205.68,666.16 L205.81,665.85 L205.94,665.54 L206.08,665.22 L206.22,664.89 L206.35,664.56 L206.50,664.22 L206.64,663.87 L206.78,663.52 L206.93,663.16 L207.08,662.79 L207.23,662.42 L207.38,662.04 L207.54,661.65 L207.69,661.25 L207.85,660.85 L208.01,660.44 L208.18,660.02 L208.34,659.59 L208.51,659.16 L208.68,658.72 L208.85,658.28 L209.03,657.83 L209.20,657.37 L209.38,656.91 L209.57,656.44 L209.75,655.96 L209.94,655.49 L210.12,655.01 L210.32,654.52 L210.51,654.03 L210.70,653.54 L210.90,653.04 L211.10,652.54 L211.30,652.04 L211.51,651.53 L211.72,651.02 L211.92,650.51 L212.14,650.00 L212.35,649.49 L212.57,648.98 L212.78,648.47 L213.01,647.95 L213.23,647.44 L213.45,646.92 L213.68,646.41 L213.91,645.89 L214.14,645.38 L214.38,644.87 L214.61,644.36 L214.85,643.85 L215.09,643.35 L215.34,642.84 L215.58,642.34 L215.83,641.84 L216.08,641.35 L216.33,640.86 L216.59,640.37 L216.85,639.88 L217.10,639.40 L217.37,638.93 L217.63,638.46 L217.90,637.99 L218.17,637.53 L218.44,637.08 L218.71,636.63 L218.99,636.19 L219.27,635.74 L219.55,635.31 L219.84,634.87 L220.14,634.44 L220.44,634.01 L220.74,633.57 L221.05,633.14 L221.37,632.71 L221.70,632.28 L222.03,631.84 L222.37,631.41 L222.72,630.97 L223.08,630.53 L223.44,630.08 L223.82,629.63 L224.21,629.17 L224.61,628.71 L225.02,628.24 L225.44,627.77 L225.87,627.28 L226.31,626.79 L226.77,626.29 L227.24,625.78 L227.73,625.26 L228.22,624.73 L228.74,624.19 L229.27,623.63 L229.81,623.07 L230.37,622.49 L230.94,621.90 L231.54,621.29 L232.14,620.67 L232.77,620.03 L233.42,619.38 L234.08,618.71 L234.76,618.02 L235.46,617.32 L236.19,616.59 L236.93,615.85 L237.69,615.09 L238.47,614.30 L239.28,613.50 L240.10,612.68 L240.95,611.83 L241.82,610.96 L242.72,610.07 L243.64,609.15 L244.58,608.22 L245.54,607.26 L246.53,606.29 L247.54,605.29 L248.57,604.28 L249.63,603.24 L250.71,602.19 L251.81,601.12 L252.94,600.04 L254.09,598.93 L255.26,597.81 L256.46,596.68 L257.68,595.52 L258.92,594.36 L260.19,593.18 L261.48,591.98 L262.79,590.77 L264.13,589.55 L265.50,588.32 L266.88,587.07 L268.29,585.82 L269.73,584.55 L271.19,583.27 L272.67,581.99 L274.18,580.69 L275.71,579.38 L277.26,578.07 L278.84,576.75 L280.45,575.42 L282.08,574.08 L283.73,572.74 L285.41,571.39 L287.11,570.03 L288.83,568.67 L290.59,567.31 L292.36,565.94 L294.16,564.57 L295.99,563.19 L297.84,561.82 L299.71,560.44 L301.61,559.06 L303.54,557.67 L305.49,556.29 L307.46,554.91 L309.46,553.53 L311.49,552.15 L313.54,550.77 L315.61,549.39 L317.71,548.01 L319.82,546.64 L321.96,545.26 L324.13,543.89 L326.31,542.53 L328.51,541.16 L330.74,539.80 L332.98,538.44 L335.24,537.09 L337.52,535.74 L339.82,534.39 L342.14,533.05 L344.47,531.71 L346.82,530.38 L349.18,529.05 L351.56,527.73 L353.95,526.42 L356.36,525.11 L358.78,523.81 L361.22,522.51 L363.67,521.23 L366.12,519.95 L368.59,518.67 L371.08,517.41 L373.57,516.15 L376.07,514.90 L378.58,513.66 L381.10,512.43 L383.63,511.21 L386.16,509.99 L388.71,508.79 L391.26,507.60 L393.81,506.41 L396.37,505.24 L398.94,504.08 L401.51,502.93 L404.08,501.79 L406.66,500.66 L409.24,499.55 L411.83,498.44 L414.41,497.35 L417.00,496.28 L419.58,495.21 L422.17,494.16 L424.76,493.12 L427.35,492.09 L429.93,491.08 L432.52,490.08 L435.11,489.09 L437.70,488.12 L440.28,487.15 L442.87,486.20 L445.46,485.26 L448.05,484.34 L450.63,483.42 L453.22,482.52 L455.81,481.62 L458.40,480.74 L460.98,479.87 L463.57,479.01 L466.16,478.16 L468.75,477.32 L471.33,476.49 L473.92,475.67 L476.51,474.86 L479.09,474.05 L481.68,473.26 L484.27,472.48 L486.86,471.71 L489.44,470.94 L492.03,470.19 L494.62,469.44 L497.21,468.70 L499.79,467.97 L502.38,467.25 L504.97,466.53 L507.56,465.83 L510.14,465.13 L512.73,464.44 L515.32,463.75 L517.91,463.07 L520.49,462.40 L523.08,461.74 L525.67,461.08 L528.26,460.43 L530.84,459.78 L533.43,459.14 L536.02,458.50 L538.61,457.88 L541.19,457.25 L543.78,456.63 L546.37,456.02 L548.96,455.41 L551.55,454.81 L554.14,454.21 L556.73,453.62 L559.33,453.02 L561.93,452.44 L564.54,451.86 L567.15,451.28 L569.76,450.70 L572.38,450.13 L575.01,449.56 L577.65,448.99 L580.29,448.43 L582.94,447.87 L585.60,447.31 L588.27,446.75 L590.95,446.20 L593.65,445.65 L596.35,445.10 L599.06,444.55 L601.79,444.00 L604.53,443.46 L607.28,442.91 L610.05,442.37 L612.83,441.82 L615.63,441.28 L618.44,440.74 L621.27,440.20 L624.12,439.66 L626.98,439.11 L629.86,438.57 L632.76,438.03 L635.68,437.48 L638.62,436.94 L641.59,436.39 L644.57,435.85 L647.57,435.30 L650.60,434.75 L653.65,434.20 L656.72,433.65 L659.82,433.09 L662.94,432.53 L666.09,431.98 L669.26,431.41 L672.46,430.85 L675.68,430.28 L678.94,429.71 L682.22,429.14 L685.54,428.56 L688.89,427.99 L692.29,427.41 L695.73,426.84 L699.21,426.26 L702.74,425.69 L706.32,425.12 L709.96,424.55 L713.65,423.99 L717.40,423.43 L721.22,422.87 L725.10,422.32 L729.05,421.78 L733.07,421.24 L737.17,420.71 L741.34,420.19 L745.60,419.67 L749.93,419.17 L754.36,418.68 L758.87,418.19 L763.47,417.72 L768.17,417.26 L772.97,416.81 L777.86,416.37 L782.86,415.95 L787.97,415.54 L793.19,415.15 L798.51,414.78 L803.96,414.42 L809.52,414.07 L815.20,413.75 L821.01,413.44 L826.94,413.15 L833.00,412.88 L839.20,412.63 L845.53,412.40 L852.00,412.19 L858.61,412.01 L865.36,411.85 L872.26,411.71 L879.32,411.59 L886.52,411.50 L893.88,411.43 L901.40,411.39 L909.08,411.38" fill="none" stroke="#000" stroke-width="3.50" stroke-linejoin="round"/>
<path d="M181.69,680.41L189.29,693.57L174.09,693.57Z" fill="#fff" stroke="#000" stroke-width="1.8"/>
<path d="M186.77,667.88L194.37,681.04L179.17,681.04Z" fill="#fff" stroke="#000" stroke-width="1.8"/>
<path d="M191.86,676.20L199.46,689.36L184.26,689.36Z" fill="#fff" stroke="#000" stroke-width="1.8"/>
<path d="M196.95,669.52L204.55,682.68L189.35,682.68Z" fill="#fff" stroke="#000" stroke-width="1.8"/>
<path d="M202.03,665.62L209.63,678.78L194.43,678.78Z" fill="#fff" stroke="#000" stroke-width="1.8"/>
<path d="M207.12,654.58L214.72,667.74L199.52,667.74Z" fill="#fff" stroke="#000" stroke-width="1.8"/>
<path d="M217.29,626.70L224.89,639.87L209.69,639.87Z" fill="#fff" stroke="#000" stroke-width="1.8"/>
<path d="M232.55,611.40L240.15,624.57L224.95,624.57Z" fill="#fff" stroke="#000" stroke-width="1.8"/>
<path d="M298.68,545.53L306.28,558.70L291.08,558.70Z" fill="#fff" stroke="#000" stroke-width="1.8"/>
<path d="M420.76,481.00L428.36,494.16L413.16,494.16Z" fill="#fff" stroke="#000" stroke-width="1.8"/>
<path d="M542.84,446.19L550.44,459.36L535.24,459.36Z" fill="#fff" stroke="#000" stroke-width="1.8"/>
<path d="M664.92,422.73L672.52,435.89L657.32,435.89Z" fill="#fff" stroke="#000" stroke-width="1.8"/>
<path d="M787.00,402.60L794.60,415.77L779.40,415.77Z" fill="#fff" stroke="#000" stroke-width="1.8"/>
<path d="M909.08,402.60L916.68,415.77L901.48,415.77Z" fill="#fff" stroke="#000" stroke-width="1.8"/>
</g>
<g stroke="#000" fill="none" stroke-linecap="butt">
<path d="M175.10,63.50H940.80" stroke-width="3.0"/>
<path d="M175.10,730.92H940.80" stroke-width="3.0"/>
<path d="M176.60,62.00V732.42" stroke-width="3.0"/>
<path d="M939.60,62.00V732.42" stroke-width="2.4"/>
<path d="M170.10,730.92H176.60" stroke-width="2.6"/>
<path d="M164.60,679.58H176.60" stroke-width="3.0"/>
<path d="M170.10,628.24H176.60" stroke-width="2.6"/>
<path d="M164.60,576.90H176.60" stroke-width="3.0"/>
<path d="M170.10,525.56H176.60" stroke-width="2.6"/>
<path d="M164.60,474.22H176.60" stroke-width="3.0"/>
<path d="M170.10,422.88H176.60" stroke-width="2.6"/>
<path d="M164.60,371.54H176.60" stroke-width="3.0"/>
<path d="M170.10,320.20H176.60" stroke-width="2.6"/>
<path d="M164.60,268.86H176.60" stroke-width="3.0"/>
<path d="M170.10,217.52H176.60" stroke-width="2.6"/>
<path d="M164.60,166.18H176.60" stroke-width="3.0"/>
<path d="M170.10,114.84H176.60" stroke-width="2.6"/>
<path d="M164.60,63.50H176.60" stroke-width="3.0"/>
<path d="M176.60,730.92V742.92" stroke-width="3.0"/>
<path d="M240.18,730.92V737.42" stroke-width="2.6"/>
<path d="M303.77,730.92V742.92" stroke-width="3.0"/>
<path d="M367.35,730.92V737.42" stroke-width="2.6"/>
<path d="M430.93,730.92V742.92" stroke-width="3.0"/>
<path d="M494.52,730.92V737.42" stroke-width="2.6"/>
<path d="M558.10,730.92V742.92" stroke-width="3.0"/>
<path d="M621.68,730.92V737.42" stroke-width="2.6"/>
<path d="M685.27,730.92V742.92" stroke-width="3.0"/>
<path d="M748.85,730.92V737.42" stroke-width="2.6"/>
<path d="M812.43,730.92V742.92" stroke-width="3.0"/>
<path d="M876.02,730.92V737.42" stroke-width="2.6"/>
<path d="M939.60,730.92V742.92" stroke-width="3.0"/>
</g>
<text x="157.80" y="685.98" font-family="Liberation Sans, Arial, sans-serif" font-size="23.00" font-weight="normal" text-anchor="end">20</text>
<text x="157.80" y="583.30" font-family="Liberation Sans, Arial, sans-serif" font-size="23.00" font-weight="normal" text-anchor="end">40</text>
<text x="157.80" y="480.62" font-family="Liberation Sans, Arial, sans-serif" font-size="23.00" font-weight="normal" text-anchor="end">60</text>
<text x="157.80" y="377.94" font-family="Liberation Sans, Arial, sans-serif" font-size="23.00" font-weight="normal" text-anchor="end">80</text>
<text x="157.80" y="275.26" font-family="Liberation Sans, Arial, sans-serif" font-size="23.00" font-weight="normal" text-anchor="end">100</text>
<text x="157.80" y="172.58" font-family="Liberation Sans, Arial, sans-serif" font-size="23.00" font-weight="normal" text-anchor="end">120</text>
<text x="157.80" y="69.90" font-family="Liberation Sans, Arial, sans-serif" font-size="23.00" font-weight="normal" text-anchor="end">140</text>
<text x="176.60" y="768.82" font-family="Liberation Sans, Arial, sans-serif" font-size="23.00" font-weight="normal" text-anchor="middle">0</text>
<text x="303.77" y="768.82" font-family="Liberation Sans, Arial, sans-serif" font-size="23.00" font-weight="normal" text-anchor="middle">25</text>
<text x="430.93" y="768.82" font-family="Liberation Sans, Arial, sans-serif" font-size="23.00" font-weight="normal" text-anchor="middle">50</text>
<text x="558.10" y="768.82" font-family="Liberation Sans, Arial, sans-serif" font-size="23.00" font-weight="normal" text-anchor="middle">75</text>
<text x="685.27" y="768.82" font-family="Liberation Sans, Arial, sans-serif" font-size="23.00" font-weight="normal" text-anchor="middle">100</text>
<text x="812.43" y="768.82" font-family="Liberation Sans, Arial, sans-serif" font-size="23.00" font-weight="normal" text-anchor="middle">125</text>
<text x="939.60" y="768.82" font-family="Liberation Sans, Arial, sans-serif" font-size="23.00" font-weight="normal" text-anchor="middle">150</text>
<text transform="translate(106.30,417.60) rotate(-90)" x="0" y="0" font-family="Liberation Sans, Arial, sans-serif" font-size="31" font-weight="bold" text-anchor="middle" textLength="431.6" lengthAdjust="spacingAndGlyphs">Static contact angle(degrees)</text>
<text x="505.90" y="820.60" font-family="Liberation Sans, Arial, sans-serif" font-size="31" font-weight="bold" textLength="106.6" lengthAdjust="spacingAndGlyphs">Time(h)</text>
<text x="486.00" y="901.00" font-family="Liberation Serif, Times New Roman, serif" font-size="44">(<tspan font-weight="bold">a</tspan>)</text>
<path d="M639.90,515.80H709.30" stroke="#808080" stroke-width="3.0" stroke-linecap="round"/>
<g transform="translate(674.50,515.80) scale(1.05) translate(-674.50,-515.80)"><path d="M667.10,515.80H681.90M674.50,508.40V523.20" stroke="#000" stroke-width="1.7" fill="none"/></g>
<text x="719.10" y="527.30" font-family="Liberation Sans, Arial, sans-serif" font-size="30.60" font-weight="normal" text-anchor="start">Seaside</text>
<path d="M639.90,554.30H709.30" stroke="#808080" stroke-width="3.0" stroke-linecap="round"/>
<g transform="translate(674.50,554.30) scale(1.05) translate(-674.50,-554.30)"><path d="M674.50,544.50L683.50,559.20L665.50,559.20Z" fill="#000"/></g>
<text x="719.10" y="565.80" font-family="Liberation Sans, Arial, sans-serif" font-size="30.60" font-weight="normal" text-anchor="start">Steel plant</text>
<path d="M639.90,591.80H709.30" stroke="#000" stroke-width="3.0" stroke-linecap="round"/>
<g transform="translate(674.50,591.80) scale(1.00) translate(-674.50,-591.80)"><circle cx="674.50" cy="591.80" r="6.7" fill="#fff" stroke="#000" stroke-width="1.8"/></g>
<text x="719.10" y="603.30" font-family="Liberation Sans, Arial, sans-serif" font-size="30.60" font-weight="normal" text-anchor="start">Kieselguhr</text>
<path d="M639.90,630.30H709.30" stroke="#000" stroke-width="3.0" stroke-linecap="round"/>
<g transform="translate(674.50,630.30) scale(1.05) translate(-674.50,-630.30)"><path d="M674.50,621.52L682.10,634.69L666.90,634.69Z" fill="#fff" stroke="#000" stroke-width="1.8"/></g>
<text x="719.10" y="641.80" font-family="Liberation Sans, Arial, sans-serif" font-size="30.60" font-weight="normal" text-anchor="start">Kaolin</text>
<clipPath id="clip1623"><rect x="175.10" y="952.50" width="767.04" height="671.00"/></clipPath>
<g clip-path="url(#clip1623)">
<path d="M180.21,1149.01 L180.54,1147.82 L180.85,1146.66 L181.16,1145.50 L181.46,1144.36 L181.76,1143.23 L182.04,1142.11 L182.33,1141.01 L182.60,1139.92 L182.88,1138.85 L183.14,1137.79 L183.40,1136.74 L183.65,1135.71 L183.90,1134.70 L184.15,1133.70 L184.38,1132.71 L184.62,1131.75 L184.84,1130.80 L185.07,1129.86 L185.29,1128.94 L185.50,1128.04 L185.71,1127.16 L185.91,1126.29 L186.12,1125.44 L186.31,1124.61 L186.51,1123.79 L186.69,1123.00 L186.88,1122.22 L187.06,1121.46 L187.24,1120.72 L187.41,1120.00 L187.59,1119.29 L187.75,1118.61 L187.92,1117.95 L188.08,1117.30 L188.24,1116.68 L188.40,1116.08 L188.55,1115.50 L188.71,1114.94 L188.86,1114.39 L189.00,1113.88 L189.15,1113.38 L189.29,1112.90 L189.44,1112.45 L189.58,1112.02 L189.72,1111.61 L189.85,1111.22 L189.99,1110.86 L190.13,1110.51 L190.26,1110.20 L190.39,1109.90 L190.52,1109.63 L190.65,1109.37 L190.78,1109.14 L190.91,1108.93 L191.04,1108.73 L191.17,1108.56 L191.29,1108.40 L191.42,1108.26 L191.54,1108.14 L191.67,1108.04 L191.79,1107.95 L191.91,1107.88 L192.03,1107.82 L192.15,1107.78 L192.27,1107.75 L192.39,1107.74 L192.51,1107.73 L192.62,1107.75 L192.74,1107.77 L192.86,1107.80 L192.97,1107.85 L193.09,1107.91 L193.20,1107.97 L193.31,1108.05 L193.43,1108.13 L193.54,1108.23 L193.65,1108.33 L193.76,1108.44 L193.87,1108.55 L193.99,1108.67 L194.10,1108.80 L194.21,1108.93 L194.32,1109.07 L194.43,1109.21 L194.54,1109.36 L194.65,1109.50 L194.75,1109.66 L194.86,1109.81 L194.97,1109.96 L195.08,1110.12 L195.19,1110.27 L195.30,1110.43 L195.41,1110.58 L195.51,1110.74 L195.62,1110.89 L195.73,1111.04 L195.84,1111.19 L195.95,1111.33 L196.06,1111.48 L196.17,1111.62 L196.27,1111.76 L196.38,1111.90 L196.49,1112.03 L196.60,1112.17 L196.71,1112.30 L196.82,1112.42 L196.92,1112.55 L197.03,1112.67 L197.14,1112.79 L197.25,1112.91 L197.36,1113.03 L197.47,1113.14 L197.57,1113.25 L197.68,1113.35 L197.79,1113.46 L197.90,1113.56 L198.01,1113.65 L198.12,1113.75 L198.22,1113.84 L198.33,1113.93 L198.44,1114.01 L198.55,1114.09 L198.66,1114.17 L198.77,1114.24 L198.87,1114.31 L198.98,1114.38 L199.09,1114.44 L199.20,1114.50 L199.31,1114.55 L199.42,1114.61 L199.52,1114.65 L199.63,1114.70 L199.74,1114.74 L199.85,1114.77 L199.96,1114.80 L200.07,1114.83 L200.18,1114.85 L200.28,1114.87 L200.39,1114.88 L200.50,1114.89 L200.61,1114.90 L200.72,1114.90 L200.83,1114.89 L200.93,1114.88 L201.04,1114.87 L201.15,1114.85 L201.26,1114.83 L201.37,1114.80 L201.48,1114.76 L201.59,1114.72 L201.70,1114.68 L201.81,1114.63 L201.92,1114.58 L202.03,1114.51 L202.15,1114.45 L202.26,1114.38 L202.37,1114.30 L202.49,1114.21 L202.60,1114.12 L202.72,1114.03 L202.84,1113.92 L202.95,1113.82 L203.07,1113.70 L203.19,1113.58 L203.31,1113.45 L203.44,1113.32 L203.56,1113.18 L203.69,1113.03 L203.81,1112.88 L203.94,1112.72 L204.07,1112.55 L204.20,1112.37 L204.33,1112.19 L204.46,1112.00 L204.60,1111.80 L204.73,1111.60 L204.87,1111.39 L205.01,1111.17 L205.15,1110.94 L205.30,1110.71 L205.44,1110.47 L205.59,1110.22 L205.74,1109.96 L205.89,1109.69 L206.04,1109.42 L206.20,1109.14 L206.36,1108.85 L206.52,1108.55 L206.68,1108.24 L206.84,1107.92 L207.01,1107.60 L207.18,1107.27 L207.35,1106.93 L207.52,1106.58 L207.70,1106.23 L207.88,1105.87 L208.06,1105.51 L208.24,1105.14 L208.42,1104.76 L208.61,1104.38 L208.80,1104.00 L208.99,1103.61 L209.19,1103.22 L209.38,1102.82 L209.58,1102.42 L209.78,1102.02 L209.99,1101.62 L210.19,1101.21 L210.40,1100.80 L210.61,1100.39 L210.82,1099.98 L211.04,1099.57 L211.26,1099.16 L211.48,1098.75 L211.70,1098.34 L211.92,1097.93 L212.15,1097.53 L212.38,1097.12 L212.61,1096.72 L212.84,1096.32 L213.08,1095.92 L213.31,1095.52 L213.55,1095.13 L213.80,1094.74 L214.04,1094.35 L214.29,1093.97 L214.54,1093.60 L214.79,1093.23 L215.04,1092.86 L215.30,1092.51 L215.56,1092.15 L215.82,1091.81 L216.08,1091.47 L216.35,1091.14 L216.62,1090.81 L216.89,1090.50 L217.16,1090.19 L217.43,1089.89 L217.71,1089.60 L217.99,1089.32 L218.28,1089.04 L218.57,1088.77 L218.87,1088.51 L219.17,1088.26 L219.47,1088.01 L219.79,1087.77 L220.11,1087.54 L220.43,1087.32 L220.77,1087.10 L221.11,1086.88 L221.46,1086.68 L221.82,1086.48 L222.19,1086.28 L222.57,1086.09 L222.96,1085.91 L223.36,1085.73 L223.77,1085.56 L224.19,1085.39 L224.63,1085.23 L225.08,1085.07 L225.54,1084.92 L226.01,1084.77 L226.50,1084.63 L227.00,1084.49 L227.51,1084.35 L228.04,1084.22 L228.59,1084.09 L229.15,1083.97 L229.73,1083.84 L230.33,1083.73 L230.94,1083.61 L231.57,1083.50 L232.22,1083.39 L232.88,1083.28 L233.57,1083.18 L234.28,1083.08 L235.00,1082.98 L235.75,1082.88 L236.51,1082.78 L237.30,1082.69 L238.11,1082.60 L238.94,1082.51 L239.79,1082.42 L240.67,1082.33 L241.57,1082.24 L242.49,1082.16 L243.44,1082.07 L244.41,1081.99 L245.40,1081.91 L246.41,1081.83 L247.45,1081.75 L248.51,1081.67 L249.60,1081.60 L250.71,1081.53 L251.84,1081.46 L253.00,1081.39 L254.18,1081.32 L255.38,1081.26 L256.61,1081.20 L257.86,1081.14 L259.13,1081.09 L260.43,1081.03 L261.75,1080.99 L263.10,1080.94 L264.47,1080.90 L265.86,1080.86 L267.28,1080.82 L268.72,1080.79 L270.19,1080.76 L271.68,1080.73 L273.19,1080.71 L274.73,1080.69 L276.30,1080.67 L277.88,1080.66 L279.50,1080.65 L281.13,1080.65 L282.80,1080.65 L284.48,1080.66 L286.19,1080.67 L287.93,1080.68 L289.69,1080.70 L291.47,1080.73 L293.28,1080.76 L295.12,1080.79 L296.98,1080.83 L298.86,1080.88 L300.77,1080.92 L302.71,1080.98 L304.67,1081.04 L306.65,1081.11 L308.67,1081.18 L310.70,1081.25 L312.76,1081.34 L314.84,1081.42 L316.95,1081.51 L319.08,1081.61 L321.23,1081.70 L323.41,1081.80 L325.60,1081.91 L327.82,1082.01 L330.05,1082.12 L332.31,1082.23 L334.58,1082.34 L336.87,1082.45 L339.18,1082.56 L341.51,1082.68 L343.86,1082.79 L346.22,1082.90 L348.59,1083.01 L350.99,1083.11 L353.39,1083.22 L355.81,1083.32 L358.25,1083.42 L360.69,1083.52 L363.15,1083.61 L365.63,1083.70 L368.11,1083.79 L370.60,1083.87 L373.11,1083.95 L375.62,1084.02 L378.15,1084.08 L380.68,1084.14 L383.22,1084.19 L385.77,1084.24 L388.33,1084.28 L390.89,1084.31 L393.46,1084.33 L396.03,1084.34 L398.61,1084.35 L401.20,1084.35 L403.79,1084.33 L406.38,1084.31 L408.97,1084.27 L411.57,1084.23 L414.17,1084.17 L416.77,1084.10 L419.37,1084.02 L421.97,1083.93 L424.57,1083.83 L427.17,1083.71 L429.77,1083.58 L432.37,1083.44 L434.98,1083.29 L437.58,1083.13 L440.18,1082.96 L442.78,1082.78 L445.38,1082.59 L447.98,1082.39 L450.58,1082.18 L453.18,1081.96 L455.78,1081.73 L458.39,1081.49 L460.99,1081.25 L463.59,1081.00 L466.19,1080.74 L468.79,1080.48 L471.39,1080.20 L473.99,1079.93 L476.59,1079.64 L479.19,1079.35 L481.80,1079.05 L484.40,1078.75 L487.00,1078.45 L489.60,1078.14 L492.20,1077.83 L494.80,1077.51 L497.40,1077.19 L500.00,1076.86 L502.61,1076.53 L505.21,1076.20 L507.81,1075.87 L510.41,1075.54 L513.01,1075.20 L515.61,1074.87 L518.21,1074.53 L520.81,1074.19 L523.41,1073.85 L526.02,1073.51 L528.62,1073.17 L531.22,1072.83 L533.82,1072.50 L536.42,1072.16 L539.02,1071.83 L541.62,1071.49 L544.22,1071.16 L546.82,1070.84 L549.43,1070.51 L552.03,1070.19 L554.64,1069.87 L557.24,1069.55 L559.85,1069.24 L562.47,1068.93 L565.09,1068.63 L567.71,1068.33 L570.34,1068.04 L572.98,1067.75 L575.62,1067.46 L578.27,1067.18 L580.93,1066.91 L583.59,1066.64 L586.27,1066.38 L588.95,1066.13 L591.65,1065.88 L594.35,1065.64 L597.07,1065.40 L599.80,1065.18 L602.54,1064.96 L605.29,1064.75 L608.06,1064.55 L610.84,1064.35 L613.64,1064.17 L616.45,1063.99 L619.28,1063.83 L622.12,1063.67 L624.98,1063.52 L627.86,1063.38 L630.76,1063.26 L633.68,1063.14 L636.61,1063.03 L639.57,1062.94 L642.55,1062.85 L645.54,1062.78 L648.56,1062.72 L651.61,1062.67 L654.67,1062.64 L657.76,1062.61 L660.87,1062.60 L664.01,1062.60 L667.17,1062.62 L670.36,1062.65 L673.58,1062.69 L676.82,1062.75 L680.09,1062.82 L683.39,1062.90 L686.73,1063.00 L690.10,1063.11 L693.52,1063.23 L696.97,1063.36 L700.47,1063.50 L704.02,1063.65 L707.62,1063.81 L711.28,1063.98 L714.99,1064.15 L718.76,1064.33 L722.60,1064.52 L726.50,1064.72 L730.47,1064.92 L734.52,1065.12 L738.63,1065.32 L742.83,1065.53 L747.11,1065.75 L751.46,1065.96 L755.91,1066.17 L760.45,1066.39 L765.08,1066.60 L769.80,1066.82 L774.62,1067.03 L779.54,1067.24 L784.57,1067.44 L789.70,1067.64 L794.95,1067.84 L800.30,1068.04 L805.78,1068.22 L811.37,1068.41 L817.08,1068.58 L822.92,1068.75 L828.88,1068.91 L834.98,1069.05 L841.20,1069.19 L847.57,1069.32 L854.07,1069.44 L860.72,1069.55 L867.51,1069.65 L874.44,1069.73 L881.53,1069.80 L888.78,1069.85 L896.17,1069.89 L903.73,1069.92 L911.45,1069.93" fill="none" stroke="#808080" stroke-width="3.00" stroke-linejoin="round"/>
<path d="M180.21,1158.81L189.01,1144.11L171.41,1144.11Z" fill="#000"/>
<path d="M185.33,1140.12L194.13,1125.41L176.53,1125.41Z" fill="#000"/>
<path d="M190.44,1112.03L199.24,1097.33L181.64,1097.33Z" fill="#000"/>
<path d="M195.55,1121.28L204.35,1106.58L186.75,1106.58Z" fill="#000"/>
<path d="M200.67,1126.41L209.47,1111.71L191.87,1111.71Z" fill="#000"/>
<path d="M205.78,1121.28L214.58,1106.58L196.98,1106.58Z" fill="#000"/>
<path d="M216.01,1097.22L224.81,1082.52L207.21,1082.52Z" fill="#000"/>
<path d="M231.35,1091.80L240.15,1077.10L222.55,1077.10Z" fill="#000"/>
<path d="M297.83,1088.83L306.63,1074.13L289.03,1074.13Z" fill="#000"/>
<path d="M420.55,1098.42L429.35,1083.72L411.75,1083.72Z" fill="#000"/>
<path d="M543.28,1080.20L552.08,1065.50L534.48,1065.50Z" fill="#000"/>
<path d="M666.00,1067.26L674.80,1052.56L657.20,1052.56Z" fill="#000"/>
<path d="M788.73,1079.73L797.53,1065.03L779.93,1065.03Z" fill="#000"/>
<path d="M911.45,1079.73L920.25,1065.03L902.65,1065.03Z" fill="#000"/>
<path d="M180.21,1299.98 L180.54,1296.52 L180.85,1293.21 L181.16,1290.04 L181.46,1287.00 L181.76,1284.11 L182.04,1281.35 L182.33,1278.71 L182.60,1276.20 L182.88,1273.82 L183.14,1271.55 L183.40,1269.40 L183.65,1267.36 L183.90,1265.44 L184.15,1263.61 L184.38,1261.89 L184.62,1260.27 L184.84,1258.74 L185.07,1257.30 L185.29,1255.95 L185.50,1254.69 L185.71,1253.50 L185.91,1252.40 L186.12,1251.37 L186.31,1250.41 L186.51,1249.52 L186.69,1248.69 L186.88,1247.93 L187.06,1247.22 L187.24,1246.56 L187.41,1245.96 L187.59,1245.40 L187.75,1244.89 L187.92,1244.42 L188.08,1243.98 L188.24,1243.58 L188.40,1243.21 L188.55,1242.86 L188.71,1242.54 L188.86,1242.24 L189.00,1241.95 L189.15,1241.68 L189.29,1241.42 L189.44,1241.16 L189.58,1240.90 L189.72,1240.65 L189.85,1240.39 L189.99,1240.12 L190.13,1239.84 L190.26,1239.55 L190.39,1239.25 L190.52,1238.94 L190.65,1238.62 L190.78,1238.29 L190.91,1237.94 L191.04,1237.59 L191.17,1237.23 L191.29,1236.85 L191.42,1236.47 L191.54,1236.08 L191.67,1235.68 L191.79,1235.27 L191.91,1234.85 L192.03,1234.43 L192.15,1233.99 L192.27,1233.55 L192.39,1233.10 L192.51,1232.64 L192.62,1232.18 L192.74,1231.71 L192.86,1231.23 L192.97,1230.74 L193.09,1230.25 L193.20,1229.76 L193.31,1229.25 L193.43,1228.75 L193.54,1228.23 L193.65,1227.71 L193.76,1227.19 L193.87,1226.66 L193.99,1226.13 L194.10,1225.59 L194.21,1225.05 L194.32,1224.50 L194.43,1223.95 L194.54,1223.40 L194.65,1222.84 L194.75,1222.29 L194.86,1221.73 L194.97,1221.16 L195.08,1220.60 L195.19,1220.03 L195.30,1219.46 L195.41,1218.89 L195.51,1218.31 L195.62,1217.74 L195.73,1217.16 L195.84,1216.59 L195.95,1216.01 L196.06,1215.44 L196.17,1214.86 L196.27,1214.28 L196.38,1213.71 L196.49,1213.13 L196.60,1212.56 L196.71,1211.99 L196.82,1211.41 L196.92,1210.85 L197.03,1210.28 L197.14,1209.71 L197.25,1209.15 L197.36,1208.59 L197.47,1208.03 L197.57,1207.48 L197.68,1206.93 L197.79,1206.38 L197.90,1205.83 L198.01,1205.30 L198.12,1204.76 L198.22,1204.23 L198.33,1203.70 L198.44,1203.18 L198.55,1202.67 L198.66,1202.16 L198.77,1201.65 L198.87,1201.15 L198.98,1200.66 L199.09,1200.17 L199.20,1199.69 L199.31,1199.22 L199.42,1198.76 L199.52,1198.30 L199.63,1197.85 L199.74,1197.41 L199.85,1196.97 L199.96,1196.55 L200.07,1196.13 L200.18,1195.72 L200.28,1195.32 L200.39,1194.93 L200.50,1194.55 L200.61,1194.18 L200.72,1193.82 L200.83,1193.47 L200.93,1193.13 L201.04,1192.79 L201.15,1192.47 L201.26,1192.16 L201.37,1191.86 L201.48,1191.57 L201.59,1191.29 L201.70,1191.02 L201.81,1190.75 L201.92,1190.50 L202.03,1190.26 L202.15,1190.02 L202.26,1189.80 L202.37,1189.58 L202.49,1189.38 L202.60,1189.18 L202.72,1188.99 L202.84,1188.81 L202.95,1188.64 L203.07,1188.48 L203.19,1188.33 L203.31,1188.19 L203.44,1188.05 L203.56,1187.93 L203.69,1187.81 L203.81,1187.70 L203.94,1187.61 L204.07,1187.51 L204.20,1187.43 L204.33,1187.36 L204.46,1187.29 L204.60,1187.24 L204.73,1187.19 L204.87,1187.15 L205.01,1187.12 L205.15,1187.09 L205.30,1187.08 L205.44,1187.07 L205.59,1187.07 L205.74,1187.08 L205.89,1187.09 L206.04,1187.11 L206.20,1187.15 L206.36,1187.18 L206.52,1187.23 L206.68,1187.29 L206.84,1187.35 L207.01,1187.42 L207.18,1187.49 L207.35,1187.57 L207.52,1187.66 L207.70,1187.75 L207.88,1187.84 L208.06,1187.94 L208.24,1188.04 L208.42,1188.14 L208.61,1188.25 L208.80,1188.35 L208.99,1188.46 L209.19,1188.57 L209.38,1188.67 L209.58,1188.78 L209.78,1188.88 L209.99,1188.98 L210.19,1189.08 L210.40,1189.18 L210.61,1189.27 L210.82,1189.36 L211.04,1189.44 L211.26,1189.52 L211.48,1189.59 L211.70,1189.66 L211.92,1189.71 L212.15,1189.76 L212.38,1189.81 L212.61,1189.84 L212.84,1189.86 L213.08,1189.88 L213.31,1189.88 L213.55,1189.88 L213.80,1189.86 L214.04,1189.83 L214.29,1189.78 L214.54,1189.73 L214.79,1189.66 L215.04,1189.57 L215.30,1189.47 L215.56,1189.36 L215.82,1189.22 L216.08,1189.08 L216.35,1188.91 L216.62,1188.73 L216.89,1188.53 L217.16,1188.31 L217.43,1188.07 L217.71,1187.82 L217.99,1187.55 L218.28,1187.26 L218.57,1186.96 L218.87,1186.64 L219.17,1186.31 L219.47,1185.96 L219.79,1185.60 L220.11,1185.23 L220.43,1184.85 L220.77,1184.46 L221.11,1184.06 L221.46,1183.64 L221.82,1183.22 L222.19,1182.79 L222.57,1182.36 L222.96,1181.91 L223.36,1181.46 L223.77,1181.00 L224.19,1180.54 L224.63,1180.08 L225.08,1179.61 L225.54,1179.13 L226.01,1178.66 L226.50,1178.18 L227.00,1177.70 L227.51,1177.22 L228.04,1176.74 L228.59,1176.27 L229.15,1175.79 L229.73,1175.32 L230.33,1174.84 L230.94,1174.37 L231.57,1173.91 L232.22,1173.45 L232.88,1173.00 L233.57,1172.55 L234.28,1172.11 L235.00,1171.67 L235.75,1171.24 L236.51,1170.83 L237.30,1170.42 L238.11,1170.02 L238.94,1169.63 L239.79,1169.25 L240.67,1168.88 L241.57,1168.53 L242.49,1168.19 L243.44,1167.85 L244.41,1167.53 L245.40,1167.22 L246.41,1166.91 L247.45,1166.62 L248.51,1166.33 L249.60,1166.05 L250.71,1165.78 L251.84,1165.51 L253.00,1165.25 L254.18,1164.99 L255.38,1164.75 L256.61,1164.50 L257.86,1164.26 L259.13,1164.03 L260.43,1163.79 L261.75,1163.56 L263.10,1163.34 L264.47,1163.11 L265.86,1162.89 L267.28,1162.67 L268.72,1162.44 L270.19,1162.22 L271.68,1162.00 L273.19,1161.78 L274.73,1161.55 L276.30,1161.33 L277.88,1161.10 L279.50,1160.87 L281.13,1160.64 L282.80,1160.40 L284.48,1160.16 L286.19,1159.91 L287.93,1159.66 L289.69,1159.40 L291.47,1159.14 L293.28,1158.87 L295.12,1158.59 L296.98,1158.31 L298.86,1158.02 L300.77,1157.72 L302.71,1157.41 L304.67,1157.09 L306.65,1156.77 L308.67,1156.43 L310.70,1156.08 L312.76,1155.72 L314.84,1155.36 L316.95,1154.98 L319.08,1154.59 L321.23,1154.20 L323.41,1153.79 L325.60,1153.38 L327.82,1152.95 L330.05,1152.52 L332.31,1152.08 L334.58,1151.63 L336.87,1151.17 L339.18,1150.71 L341.51,1150.23 L343.86,1149.75 L346.22,1149.27 L348.59,1148.77 L350.99,1148.27 L353.39,1147.76 L355.81,1147.24 L358.25,1146.72 L360.69,1146.19 L363.15,1145.65 L365.63,1145.11 L368.11,1144.56 L370.60,1144.01 L373.11,1143.45 L375.62,1142.88 L378.15,1142.31 L380.68,1141.74 L383.22,1141.16 L385.77,1140.57 L388.33,1139.98 L390.89,1139.39 L393.46,1138.79 L396.03,1138.19 L398.61,1137.58 L401.20,1136.97 L403.79,1136.35 L406.38,1135.74 L408.97,1135.11 L411.57,1134.49 L414.17,1133.86 L416.77,1133.23 L419.37,1132.60 L421.97,1131.97 L424.57,1131.33 L427.17,1130.69 L429.77,1130.05 L432.37,1129.41 L434.98,1128.77 L437.58,1128.13 L440.18,1127.49 L442.78,1126.85 L445.38,1126.21 L447.98,1125.58 L450.58,1124.94 L453.18,1124.31 L455.78,1123.69 L458.39,1123.06 L460.99,1122.44 L463.59,1121.83 L466.19,1121.22 L468.79,1120.62 L471.39,1120.02 L473.99,1119.43 L476.59,1118.85 L479.19,1118.28 L481.80,1117.71 L484.40,1117.15 L487.00,1116.60 L489.60,1116.06 L492.20,1115.53 L494.80,1115.01 L497.40,1114.50 L500.00,1114.00 L502.61,1113.52 L505.21,1113.04 L507.81,1112.58 L510.41,1112.13 L513.01,1111.70 L515.61,1111.28 L518.21,1110.87 L520.81,1110.48 L523.41,1110.10 L526.02,1109.74 L528.62,1109.40 L531.22,1109.07 L533.82,1108.76 L536.42,1108.47 L539.02,1108.20 L541.62,1107.94 L544.22,1107.70 L546.82,1107.49 L549.43,1107.29 L552.03,1107.11 L554.64,1106.95 L557.24,1106.80 L559.85,1106.67 L562.47,1106.55 L565.09,1106.45 L567.71,1106.37 L570.34,1106.30 L572.98,1106.24 L575.62,1106.19 L578.27,1106.16 L580.93,1106.13 L583.59,1106.12 L586.27,1106.12 L588.95,1106.12 L591.65,1106.14 L594.35,1106.16 L597.07,1106.19 L599.80,1106.23 L602.54,1106.28 L605.29,1106.33 L608.06,1106.38 L610.84,1106.44 L613.64,1106.51 L616.45,1106.58 L619.28,1106.65 L622.12,1106.72 L624.98,1106.80 L627.86,1106.87 L630.76,1106.95 L633.68,1107.02 L636.61,1107.10 L639.57,1107.17 L642.55,1107.24 L645.54,1107.31 L648.56,1107.37 L651.61,1107.43 L654.67,1107.49 L657.76,1107.54 L660.87,1107.59 L664.01,1107.63 L667.17,1107.66 L670.36,1107.68 L673.58,1107.70 L676.82,1107.71 L680.09,1107.71 L683.39,1107.70 L686.73,1107.68 L690.10,1107.64 L693.52,1107.60 L696.97,1107.54 L700.47,1107.47 L704.02,1107.39 L707.62,1107.30 L711.28,1107.19 L714.99,1107.07 L718.76,1106.93 L722.60,1106.77 L726.50,1106.60 L730.47,1106.42 L734.52,1106.21 L738.63,1105.99 L742.83,1105.75 L747.11,1105.50 L751.46,1105.22 L755.91,1104.92 L760.45,1104.61 L765.08,1104.27 L769.80,1103.91 L774.62,1103.53 L779.54,1103.13 L784.57,1102.70 L789.70,1102.25 L794.95,1101.78 L800.30,1101.28 L805.78,1100.76 L811.37,1100.21 L817.08,1099.64 L822.92,1099.04 L828.88,1098.42 L834.98,1097.76 L841.20,1097.08 L847.57,1096.37 L854.07,1095.63 L860.72,1094.86 L867.51,1094.07 L874.44,1093.24 L881.53,1092.38 L888.78,1091.49 L896.17,1090.56 L903.73,1089.61 L911.45,1088.62" fill="none" stroke="#808080" stroke-width="3.00" stroke-linejoin="round"/>
<rect x="173.41" y="1293.18" width="13.60" height="13.60" fill="#000"/>
<rect x="178.53" y="1237.59" width="13.60" height="13.60" fill="#000"/>
<rect x="183.64" y="1237.59" width="13.60" height="13.60" fill="#000"/>
<rect x="188.75" y="1211.70" width="13.60" height="13.60" fill="#000"/>
<rect x="193.87" y="1183.43" width="13.60" height="13.60" fill="#000"/>
<rect x="198.98" y="1177.67" width="13.60" height="13.60" fill="#000"/>
<rect x="209.21" y="1188.70" width="13.60" height="13.60" fill="#000"/>
<rect x="224.55" y="1158.02" width="13.60" height="13.60" fill="#000"/>
<rect x="291.03" y="1153.71" width="13.60" height="13.60" fill="#000"/>
<rect x="413.75" y="1126.39" width="13.60" height="13.60" fill="#000"/>
<rect x="536.48" y="1093.80" width="13.60" height="13.60" fill="#000"/>
<rect x="659.20" y="1104.34" width="13.60" height="13.60" fill="#000"/>
<rect x="781.93" y="1097.63" width="13.60" height="13.60" fill="#000"/>
<rect x="904.65" y="1081.82" width="13.60" height="13.60" fill="#000"/>
<path d="M180.21,1289.44 L180.54,1288.41 L180.85,1287.36 L181.16,1286.26 L181.46,1285.14 L181.76,1283.99 L182.04,1282.80 L182.33,1281.59 L182.60,1280.36 L182.88,1279.11 L183.14,1277.83 L183.40,1276.53 L183.65,1275.22 L183.90,1273.89 L184.15,1272.54 L184.38,1271.18 L184.62,1269.81 L184.84,1268.44 L185.07,1267.05 L185.29,1265.66 L185.50,1264.26 L185.71,1262.87 L185.91,1261.47 L186.12,1260.07 L186.31,1258.68 L186.51,1257.29 L186.69,1255.91 L186.88,1254.53 L187.06,1253.17 L187.24,1251.81 L187.41,1250.47 L187.59,1249.15 L187.75,1247.84 L187.92,1246.55 L188.08,1245.28 L188.24,1244.03 L188.40,1242.81 L188.55,1241.61 L188.71,1240.44 L188.86,1239.29 L189.00,1238.18 L189.15,1237.10 L189.29,1236.05 L189.44,1235.04 L189.58,1234.07 L189.72,1233.14 L189.85,1232.24 L189.99,1231.39 L190.13,1230.59 L190.26,1229.83 L190.39,1229.11 L190.52,1228.43 L190.65,1227.79 L190.78,1227.19 L190.91,1226.63 L191.04,1226.11 L191.17,1225.62 L191.29,1225.17 L191.42,1224.75 L191.54,1224.36 L191.67,1224.01 L191.79,1223.68 L191.91,1223.39 L192.03,1223.12 L192.15,1222.88 L192.27,1222.67 L192.39,1222.48 L192.51,1222.31 L192.62,1222.17 L192.74,1222.05 L192.86,1221.95 L192.97,1221.87 L193.09,1221.80 L193.20,1221.76 L193.31,1221.72 L193.43,1221.71 L193.54,1221.71 L193.65,1221.72 L193.76,1221.74 L193.87,1221.77 L193.99,1221.81 L194.10,1221.86 L194.21,1221.91 L194.32,1221.98 L194.43,1222.04 L194.54,1222.11 L194.65,1222.19 L194.75,1222.26 L194.86,1222.33 L194.97,1222.41 L195.08,1222.48 L195.19,1222.55 L195.30,1222.61 L195.41,1222.67 L195.51,1222.72 L195.62,1222.76 L195.73,1222.80 L195.84,1222.83 L195.95,1222.85 L196.06,1222.87 L196.17,1222.88 L196.27,1222.88 L196.38,1222.88 L196.49,1222.87 L196.60,1222.86 L196.71,1222.84 L196.82,1222.82 L196.92,1222.80 L197.03,1222.77 L197.14,1222.74 L197.25,1222.70 L197.36,1222.67 L197.47,1222.63 L197.57,1222.58 L197.68,1222.54 L197.79,1222.50 L197.90,1222.45 L198.01,1222.41 L198.12,1222.37 L198.22,1222.32 L198.33,1222.28 L198.44,1222.24 L198.55,1222.19 L198.66,1222.16 L198.77,1222.12 L198.87,1222.08 L198.98,1222.05 L199.09,1222.02 L199.20,1222.00 L199.31,1221.98 L199.42,1221.96 L199.52,1221.95 L199.63,1221.94 L199.74,1221.94 L199.85,1221.94 L199.96,1221.95 L200.07,1221.96 L200.18,1221.98 L200.28,1222.01 L200.39,1222.05 L200.50,1222.09 L200.61,1222.15 L200.72,1222.21 L200.83,1222.28 L200.93,1222.35 L201.04,1222.44 L201.15,1222.53 L201.26,1222.63 L201.37,1222.73 L201.48,1222.84 L201.59,1222.95 L201.70,1223.07 L201.81,1223.20 L201.92,1223.33 L202.03,1223.46 L202.15,1223.59 L202.26,1223.73 L202.37,1223.86 L202.49,1224.00 L202.60,1224.15 L202.72,1224.29 L202.84,1224.43 L202.95,1224.57 L203.07,1224.71 L203.19,1224.85 L203.31,1224.99 L203.44,1225.12 L203.56,1225.25 L203.69,1225.38 L203.81,1225.51 L203.94,1225.63 L204.07,1225.75 L204.20,1225.86 L204.33,1225.97 L204.46,1226.07 L204.60,1226.16 L204.73,1226.25 L204.87,1226.33 L205.01,1226.40 L205.15,1226.47 L205.30,1226.52 L205.44,1226.57 L205.59,1226.61 L205.74,1226.63 L205.89,1226.65 L206.04,1226.65 L206.20,1226.65 L206.36,1226.63 L206.52,1226.60 L206.68,1226.56 L206.84,1226.50 L207.01,1226.43 L207.18,1226.35 L207.35,1226.26 L207.52,1226.16 L207.70,1226.04 L207.88,1225.91 L208.06,1225.77 L208.24,1225.63 L208.42,1225.47 L208.61,1225.30 L208.80,1225.12 L208.99,1224.93 L209.19,1224.74 L209.38,1224.53 L209.58,1224.32 L209.78,1224.10 L209.99,1223.87 L210.19,1223.64 L210.40,1223.40 L210.61,1223.15 L210.82,1222.89 L211.04,1222.63 L211.26,1222.37 L211.48,1222.09 L211.70,1221.82 L211.92,1221.54 L212.15,1221.25 L212.38,1220.96 L212.61,1220.67 L212.84,1220.37 L213.08,1220.07 L213.31,1219.77 L213.55,1219.47 L213.80,1219.16 L214.04,1218.85 L214.29,1218.54 L214.54,1218.23 L214.79,1217.92 L215.04,1217.61 L215.30,1217.30 L215.56,1216.98 L215.82,1216.67 L216.08,1216.36 L216.35,1216.05 L216.62,1215.75 L216.89,1215.44 L217.16,1215.14 L217.43,1214.84 L217.71,1214.54 L217.99,1214.24 L218.28,1213.94 L218.57,1213.65 L218.87,1213.36 L219.17,1213.07 L219.47,1212.78 L219.79,1212.50 L220.11,1212.22 L220.43,1211.94 L220.77,1211.66 L221.11,1211.38 L221.46,1211.11 L221.82,1210.83 L222.19,1210.56 L222.57,1210.29 L222.96,1210.03 L223.36,1209.76 L223.77,1209.50 L224.19,1209.24 L224.63,1208.98 L225.08,1208.72 L225.54,1208.46 L226.01,1208.21 L226.50,1207.96 L227.00,1207.71 L227.51,1207.46 L228.04,1207.21 L228.59,1206.97 L229.15,1206.72 L229.73,1206.48 L230.33,1206.24 L230.94,1206.00 L231.57,1205.76 L232.22,1205.53 L232.88,1205.30 L233.57,1205.06 L234.28,1204.83 L235.00,1204.61 L235.75,1204.38 L236.51,1204.15 L237.30,1203.93 L238.11,1203.71 L238.94,1203.49 L239.79,1203.27 L240.67,1203.05 L241.57,1202.83 L242.49,1202.62 L243.44,1202.40 L244.41,1202.19 L245.40,1201.98 L246.41,1201.77 L247.45,1201.56 L248.51,1201.35 L249.60,1201.14 L250.71,1200.93 L251.84,1200.72 L253.00,1200.51 L254.18,1200.30 L255.38,1200.09 L256.61,1199.88 L257.86,1199.67 L259.13,1199.45 L260.43,1199.24 L261.75,1199.03 L263.10,1198.81 L264.47,1198.60 L265.86,1198.38 L267.28,1198.16 L268.72,1197.94 L270.19,1197.72 L271.68,1197.50 L273.19,1197.27 L274.73,1197.05 L276.30,1196.82 L277.88,1196.59 L279.50,1196.35 L281.13,1196.12 L282.80,1195.88 L284.48,1195.63 L286.19,1195.39 L287.93,1195.14 L289.69,1194.89 L291.47,1194.63 L293.28,1194.38 L295.12,1194.11 L296.98,1193.85 L298.86,1193.58 L300.77,1193.31 L302.71,1193.03 L304.67,1192.75 L306.65,1192.46 L308.67,1192.17 L310.70,1191.88 L312.76,1191.58 L314.84,1191.27 L316.95,1190.97 L319.08,1190.65 L321.23,1190.34 L323.41,1190.02 L325.60,1189.70 L327.82,1189.37 L330.05,1189.04 L332.31,1188.71 L334.58,1188.37 L336.87,1188.04 L339.18,1187.69 L341.51,1187.35 L343.86,1187.00 L346.22,1186.65 L348.59,1186.30 L350.99,1185.95 L353.39,1185.59 L355.81,1185.24 L358.25,1184.88 L360.69,1184.51 L363.15,1184.15 L365.63,1183.79 L368.11,1183.42 L370.60,1183.05 L373.11,1182.69 L375.62,1182.32 L378.15,1181.95 L380.68,1181.58 L383.22,1181.21 L385.77,1180.83 L388.33,1180.46 L390.89,1180.09 L393.46,1179.72 L396.03,1179.35 L398.61,1178.97 L401.20,1178.60 L403.79,1178.23 L406.38,1177.86 L408.97,1177.49 L411.57,1177.12 L414.17,1176.75 L416.77,1176.38 L419.37,1176.01 L421.97,1175.65 L424.57,1175.28 L427.17,1174.92 L429.77,1174.56 L432.37,1174.20 L434.98,1173.85 L437.58,1173.49 L440.18,1173.15 L442.78,1172.80 L445.38,1172.46 L447.98,1172.12 L450.58,1171.79 L453.18,1171.46 L455.78,1171.13 L458.39,1170.81 L460.99,1170.50 L463.59,1170.19 L466.19,1169.89 L468.79,1169.60 L471.39,1169.31 L473.99,1169.03 L476.59,1168.75 L479.19,1168.49 L481.80,1168.23 L484.40,1167.98 L487.00,1167.74 L489.60,1167.51 L492.20,1167.28 L494.80,1167.07 L497.40,1166.86 L500.00,1166.67 L502.61,1166.48 L505.21,1166.31 L507.81,1166.14 L510.41,1165.99 L513.01,1165.85 L515.61,1165.72 L518.21,1165.60 L520.81,1165.50 L523.41,1165.41 L526.02,1165.33 L528.62,1165.26 L531.22,1165.21 L533.82,1165.17 L536.42,1165.14 L539.02,1165.13 L541.62,1165.13 L544.22,1165.15 L546.82,1165.18 L549.43,1165.23 L552.03,1165.29 L554.64,1165.36 L557.24,1165.45 L559.85,1165.54 L562.47,1165.65 L565.09,1165.76 L567.71,1165.89 L570.34,1166.02 L572.98,1166.16 L575.62,1166.30 L578.27,1166.45 L580.93,1166.60 L583.59,1166.76 L586.27,1166.92 L588.95,1167.08 L591.65,1167.25 L594.35,1167.41 L597.07,1167.58 L599.80,1167.74 L602.54,1167.91 L605.29,1168.07 L608.06,1168.22 L610.84,1168.38 L613.64,1168.53 L616.45,1168.67 L619.28,1168.81 L622.12,1168.93 L624.98,1169.06 L627.86,1169.17 L630.76,1169.27 L633.68,1169.36 L636.61,1169.45 L639.57,1169.52 L642.55,1169.57 L645.54,1169.62 L648.56,1169.65 L651.61,1169.66 L654.67,1169.66 L657.76,1169.65 L660.87,1169.61 L664.01,1169.56 L667.17,1169.49 L670.36,1169.40 L673.58,1169.28 L676.82,1169.15 L680.09,1169.00 L683.39,1168.82 L686.73,1168.63 L690.10,1168.42 L693.52,1168.20 L696.97,1167.96 L700.47,1167.71 L704.02,1167.45 L707.62,1167.18 L711.28,1166.90 L714.99,1166.62 L718.76,1166.33 L722.60,1166.04 L726.50,1165.75 L730.47,1165.45 L734.52,1165.17 L738.63,1164.88 L742.83,1164.60 L747.11,1164.33 L751.46,1164.06 L755.91,1163.81 L760.45,1163.56 L765.08,1163.33 L769.80,1163.11 L774.62,1162.91 L779.54,1162.73 L784.57,1162.57 L789.70,1162.43 L794.95,1162.31 L800.30,1162.21 L805.78,1162.14 L811.37,1162.10 L817.08,1162.08 L822.92,1162.10 L828.88,1162.15 L834.98,1162.23 L841.20,1162.35 L847.57,1162.50 L854.07,1162.69 L860.72,1162.92 L867.51,1163.19 L874.44,1163.51 L881.53,1163.87 L888.78,1164.27 L896.17,1164.73 L903.73,1165.23 L911.45,1165.78" fill="none" stroke="#808080" stroke-width="3.00" stroke-linejoin="round"/>
<path d="M180.21,1279.64L189.21,1294.34L171.21,1294.34Z" fill="#000"/>
<path d="M185.33,1263.82L194.33,1278.52L176.33,1278.52Z" fill="#000"/>
<path d="M190.44,1204.87L199.44,1219.57L181.44,1219.57Z" fill="#000"/>
<path d="M195.55,1215.89L204.55,1230.59L186.55,1230.59Z" fill="#000"/>
<path d="M200.67,1209.18L209.67,1223.88L191.67,1223.88Z" fill="#000"/>
<path d="M205.78,1221.64L214.78,1236.34L196.78,1236.34Z" fill="#000"/>
<path d="M216.01,1204.87L225.01,1219.57L207.01,1219.57Z" fill="#000"/>
<path d="M231.35,1192.89L240.35,1207.59L222.35,1207.59Z" fill="#000"/>
<path d="M297.83,1184.26L306.83,1198.96L288.83,1198.96Z" fill="#000"/>
<path d="M420.55,1165.57L429.55,1180.27L411.55,1180.27Z" fill="#000"/>
<path d="M543.28,1149.75L552.28,1164.45L534.28,1164.45Z" fill="#000"/>
<path d="M666.00,1167.49L675.00,1182.19L657.00,1182.19Z" fill="#000"/>
<path d="M788.73,1146.88L797.73,1161.58L779.73,1161.58Z" fill="#000"/>
<path d="M911.45,1155.98L920.45,1170.68L902.45,1170.68Z" fill="#000"/>
<path d="M180.21,1259.24 L180.54,1258.80 L180.85,1258.38 L181.16,1257.98 L181.46,1257.61 L181.76,1257.26 L182.04,1256.93 L182.33,1256.63 L182.60,1256.34 L182.88,1256.07 L183.14,1255.82 L183.40,1255.59 L183.65,1255.37 L183.90,1255.17 L184.15,1254.98 L184.38,1254.80 L184.62,1254.64 L184.84,1254.50 L185.07,1254.36 L185.29,1254.23 L185.50,1254.11 L185.71,1254.00 L185.91,1253.90 L186.12,1253.80 L186.31,1253.72 L186.51,1253.63 L186.69,1253.55 L186.88,1253.47 L187.06,1253.40 L187.24,1253.33 L187.41,1253.25 L187.59,1253.18 L187.75,1253.11 L187.92,1253.03 L188.08,1252.95 L188.24,1252.87 L188.40,1252.79 L188.55,1252.69 L188.71,1252.60 L188.86,1252.49 L189.00,1252.38 L189.15,1252.26 L189.29,1252.13 L189.44,1251.98 L189.58,1251.83 L189.72,1251.66 L189.85,1251.48 L189.99,1251.29 L190.13,1251.08 L190.26,1250.86 L190.39,1250.63 L190.52,1250.38 L190.65,1250.12 L190.78,1249.85 L190.91,1249.57 L191.04,1249.28 L191.17,1248.98 L191.29,1248.67 L191.42,1248.36 L191.54,1248.04 L191.67,1247.72 L191.79,1247.40 L191.91,1247.07 L192.03,1246.74 L192.15,1246.41 L192.27,1246.08 L192.39,1245.75 L192.51,1245.42 L192.62,1245.09 L192.74,1244.77 L192.86,1244.45 L192.97,1244.13 L193.09,1243.83 L193.20,1243.53 L193.31,1243.23 L193.43,1242.95 L193.54,1242.67 L193.65,1242.41 L193.76,1242.16 L193.87,1241.91 L193.99,1241.69 L194.10,1241.47 L194.21,1241.27 L194.32,1241.09 L194.43,1240.92 L194.54,1240.77 L194.65,1240.64 L194.75,1240.53 L194.86,1240.44 L194.97,1240.37 L195.08,1240.32 L195.19,1240.30 L195.30,1240.30 L195.41,1240.32 L195.51,1240.37 L195.62,1240.44 L195.73,1240.54 L195.84,1240.67 L195.95,1240.82 L196.06,1240.99 L196.17,1241.18 L196.27,1241.39 L196.38,1241.62 L196.49,1241.87 L196.60,1242.14 L196.71,1242.42 L196.82,1242.71 L196.92,1243.02 L197.03,1243.34 L197.14,1243.67 L197.25,1244.00 L197.36,1244.35 L197.47,1244.70 L197.57,1245.06 L197.68,1245.43 L197.79,1245.79 L197.90,1246.16 L198.01,1246.53 L198.12,1246.90 L198.22,1247.27 L198.33,1247.63 L198.44,1247.99 L198.55,1248.35 L198.66,1248.69 L198.77,1249.04 L198.87,1249.37 L198.98,1249.69 L199.09,1250.00 L199.20,1250.30 L199.31,1250.59 L199.42,1250.86 L199.52,1251.11 L199.63,1251.35 L199.74,1251.57 L199.85,1251.77 L199.96,1251.95 L200.07,1252.11 L200.18,1252.24 L200.28,1252.35 L200.39,1252.44 L200.50,1252.50 L200.61,1252.53 L200.72,1252.53 L200.83,1252.50 L200.93,1252.45 L201.04,1252.36 L201.15,1252.25 L201.26,1252.11 L201.37,1251.95 L201.48,1251.77 L201.59,1251.56 L201.70,1251.33 L201.81,1251.07 L201.92,1250.80 L202.03,1250.51 L202.15,1250.20 L202.26,1249.87 L202.37,1249.52 L202.49,1249.15 L202.60,1248.78 L202.72,1248.38 L202.84,1247.97 L202.95,1247.55 L203.07,1247.12 L203.19,1246.68 L203.31,1246.22 L203.44,1245.76 L203.56,1245.29 L203.69,1244.81 L203.81,1244.33 L203.94,1243.83 L204.07,1243.34 L204.20,1242.84 L204.33,1242.33 L204.46,1241.83 L204.60,1241.32 L204.73,1240.81 L204.87,1240.30 L205.01,1239.79 L205.15,1239.29 L205.30,1238.78 L205.44,1238.28 L205.59,1237.79 L205.74,1237.30 L205.89,1236.81 L206.04,1236.34 L206.20,1235.87 L206.36,1235.41 L206.52,1234.96 L206.68,1234.52 L206.84,1234.09 L207.01,1233.68 L207.18,1233.27 L207.35,1232.87 L207.52,1232.49 L207.70,1232.11 L207.88,1231.75 L208.06,1231.39 L208.24,1231.04 L208.42,1230.71 L208.61,1230.38 L208.80,1230.06 L208.99,1229.75 L209.19,1229.45 L209.38,1229.15 L209.58,1228.87 L209.78,1228.59 L209.99,1228.32 L210.19,1228.06 L210.40,1227.81 L210.61,1227.56 L210.82,1227.32 L211.04,1227.08 L211.26,1226.86 L211.48,1226.64 L211.70,1226.42 L211.92,1226.21 L212.15,1226.01 L212.38,1225.81 L212.61,1225.62 L212.84,1225.43 L213.08,1225.25 L213.31,1225.07 L213.55,1224.90 L213.80,1224.73 L214.04,1224.56 L214.29,1224.40 L214.54,1224.25 L214.79,1224.09 L215.04,1223.94 L215.30,1223.79 L215.56,1223.65 L215.82,1223.51 L216.08,1223.37 L216.35,1223.23 L216.62,1223.10 L216.89,1222.96 L217.16,1222.83 L217.43,1222.70 L217.71,1222.58 L217.99,1222.45 L218.28,1222.33 L218.57,1222.20 L218.87,1222.08 L219.17,1221.96 L219.47,1221.84 L219.79,1221.72 L220.11,1221.60 L220.43,1221.48 L220.77,1221.37 L221.11,1221.25 L221.46,1221.13 L221.82,1221.02 L222.19,1220.90 L222.57,1220.79 L222.96,1220.67 L223.36,1220.56 L223.77,1220.45 L224.19,1220.33 L224.63,1220.22 L225.08,1220.10 L225.54,1219.99 L226.01,1219.87 L226.50,1219.76 L227.00,1219.64 L227.51,1219.53 L228.04,1219.41 L228.59,1219.29 L229.15,1219.17 L229.73,1219.05 L230.33,1218.93 L230.94,1218.81 L231.57,1218.69 L232.22,1218.57 L232.88,1218.44 L233.57,1218.31 L234.28,1218.18 L235.00,1218.05 L235.75,1217.92 L236.51,1217.79 L237.30,1217.66 L238.11,1217.52 L238.94,1217.38 L239.79,1217.24 L240.67,1217.10 L241.57,1216.95 L242.49,1216.80 L243.44,1216.65 L244.41,1216.50 L245.40,1216.35 L246.41,1216.19 L247.45,1216.04 L248.51,1215.88 L249.60,1215.72 L250.71,1215.56 L251.84,1215.40 L253.00,1215.23 L254.18,1215.07 L255.38,1214.90 L256.61,1214.73 L257.86,1214.56 L259.13,1214.39 L260.43,1214.22 L261.75,1214.05 L263.10,1213.87 L264.47,1213.70 L265.86,1213.52 L267.28,1213.34 L268.72,1213.17 L270.19,1212.99 L271.68,1212.81 L273.19,1212.63 L274.73,1212.45 L276.30,1212.27 L277.88,1212.09 L279.50,1211.91 L281.13,1211.73 L282.80,1211.55 L284.48,1211.37 L286.19,1211.19 L287.93,1211.01 L289.69,1210.83 L291.47,1210.64 L293.28,1210.46 L295.12,1210.28 L296.98,1210.10 L298.86,1209.92 L300.77,1209.74 L302.71,1209.56 L304.67,1209.38 L306.65,1209.21 L308.67,1209.03 L310.70,1208.85 L312.76,1208.67 L314.84,1208.50 L316.95,1208.32 L319.08,1208.14 L321.23,1207.97 L323.41,1207.79 L325.60,1207.61 L327.82,1207.43 L330.05,1207.25 L332.31,1207.07 L334.58,1206.88 L336.87,1206.70 L339.18,1206.51 L341.51,1206.32 L343.86,1206.12 L346.22,1205.93 L348.59,1205.73 L350.99,1205.53 L353.39,1205.33 L355.81,1205.12 L358.25,1204.91 L360.69,1204.69 L363.15,1204.48 L365.63,1204.25 L368.11,1204.03 L370.60,1203.80 L373.11,1203.56 L375.62,1203.32 L378.15,1203.07 L380.68,1202.82 L383.22,1202.57 L385.77,1202.30 L388.33,1202.04 L390.89,1201.76 L393.46,1201.48 L396.03,1201.20 L398.61,1200.90 L401.20,1200.60 L403.79,1200.30 L406.38,1199.98 L408.97,1199.66 L411.57,1199.33 L414.17,1198.99 L416.77,1198.65 L419.37,1198.30 L421.97,1197.94 L424.57,1197.57 L427.17,1197.19 L429.77,1196.81 L432.37,1196.42 L434.98,1196.02 L437.58,1195.62 L440.18,1195.21 L442.78,1194.80 L445.38,1194.38 L447.98,1193.96 L450.58,1193.54 L453.18,1193.12 L455.78,1192.69 L458.39,1192.26 L460.99,1191.83 L463.59,1191.40 L466.19,1190.97 L468.79,1190.54 L471.39,1190.11 L473.99,1189.68 L476.59,1189.26 L479.19,1188.84 L481.80,1188.42 L484.40,1188.00 L487.00,1187.59 L489.60,1187.18 L492.20,1186.78 L494.80,1186.38 L497.40,1185.99 L500.00,1185.61 L502.61,1185.23 L505.21,1184.86 L507.81,1184.50 L510.41,1184.15 L513.01,1183.80 L515.61,1183.47 L518.21,1183.14 L520.81,1182.83 L523.41,1182.53 L526.02,1182.24 L528.62,1181.96 L531.22,1181.69 L533.82,1181.44 L536.42,1181.20 L539.02,1180.98 L541.62,1180.77 L544.22,1180.57 L546.82,1180.39 L549.43,1180.23 L552.03,1180.08 L554.64,1179.94 L557.24,1179.81 L559.85,1179.70 L562.47,1179.60 L565.09,1179.52 L567.71,1179.44 L570.34,1179.37 L572.98,1179.32 L575.62,1179.27 L578.27,1179.23 L580.93,1179.21 L583.59,1179.18 L586.27,1179.17 L588.95,1179.16 L591.65,1179.16 L594.35,1179.17 L597.07,1179.18 L599.80,1179.19 L602.54,1179.21 L605.29,1179.24 L608.06,1179.26 L610.84,1179.29 L613.64,1179.32 L616.45,1179.35 L619.28,1179.39 L622.12,1179.42 L624.98,1179.46 L627.86,1179.49 L630.76,1179.52 L633.68,1179.55 L636.61,1179.58 L639.57,1179.61 L642.55,1179.63 L645.54,1179.65 L648.56,1179.66 L651.61,1179.67 L654.67,1179.68 L657.76,1179.67 L660.87,1179.67 L664.01,1179.65 L667.17,1179.63 L670.36,1179.60 L673.58,1179.56 L676.82,1179.51 L680.09,1179.46 L683.39,1179.39 L686.73,1179.31 L690.10,1179.23 L693.52,1179.14 L696.97,1179.04 L700.47,1178.93 L704.02,1178.81 L707.62,1178.69 L711.28,1178.56 L714.99,1178.42 L718.76,1178.28 L722.60,1178.13 L726.50,1177.97 L730.47,1177.81 L734.52,1177.64 L738.63,1177.47 L742.83,1177.29 L747.11,1177.11 L751.46,1176.92 L755.91,1176.73 L760.45,1176.53 L765.08,1176.33 L769.80,1176.13 L774.62,1175.92 L779.54,1175.71 L784.57,1175.50 L789.70,1175.28 L794.95,1175.06 L800.30,1174.84 L805.78,1174.62 L811.37,1174.40 L817.08,1174.18 L822.92,1173.95 L828.88,1173.73 L834.98,1173.50 L841.20,1173.27 L847.57,1173.05 L854.07,1172.82 L860.72,1172.60 L867.51,1172.37 L874.44,1172.15 L881.53,1171.93 L888.78,1171.70 L896.17,1171.49 L903.73,1171.27 L911.45,1171.05" fill="none" stroke="#808080" stroke-width="3.00" stroke-linejoin="round"/>
<circle cx="180.21" cy="1259.24" r="7.3" fill="#000"/>
<circle cx="185.33" cy="1252.05" r="7.3" fill="#000"/>
<circle cx="190.44" cy="1256.85" r="7.3" fill="#000"/>
<circle cx="195.55" cy="1230.49" r="7.3" fill="#000"/>
<circle cx="200.67" cy="1263.56" r="7.3" fill="#000"/>
<circle cx="205.78" cy="1230.49" r="7.3" fill="#000"/>
<circle cx="216.01" cy="1222.34" r="7.3" fill="#000"/>
<circle cx="231.35" cy="1218.02" r="7.3" fill="#000"/>
<circle cx="297.83" cy="1208.92" r="7.3" fill="#000"/>
<circle cx="420.55" cy="1201.25" r="7.3" fill="#000"/>
<circle cx="543.28" cy="1174.89" r="7.3" fill="#000"/>
<circle cx="666.00" cy="1183.04" r="7.3" fill="#000"/>
<circle cx="788.73" cy="1174.41" r="7.3" fill="#000"/>
<circle cx="911.45" cy="1171.05" r="7.3" fill="#000"/>
<path d="M180.21,1072.75 L180.54,1071.53 L180.85,1070.38 L181.16,1069.30 L181.46,1068.30 L181.76,1067.37 L182.04,1066.51 L182.33,1065.71 L182.60,1064.97 L182.88,1064.30 L183.14,1063.69 L183.40,1063.13 L183.65,1062.62 L183.90,1062.17 L184.15,1061.77 L184.38,1061.41 L184.62,1061.10 L184.84,1060.84 L185.07,1060.61 L185.29,1060.42 L185.50,1060.27 L185.71,1060.16 L185.91,1060.07 L186.12,1060.01 L186.31,1059.98 L186.51,1059.98 L186.69,1060.00 L186.88,1060.04 L187.06,1060.10 L187.24,1060.17 L187.41,1060.26 L187.59,1060.35 L187.75,1060.46 L187.92,1060.58 L188.08,1060.69 L188.24,1060.81 L188.40,1060.94 L188.55,1061.06 L188.71,1061.17 L188.86,1061.28 L189.00,1061.38 L189.15,1061.46 L189.29,1061.54 L189.44,1061.60 L189.58,1061.64 L189.72,1061.66 L189.85,1061.66 L189.99,1061.63 L190.13,1061.58 L190.26,1061.50 L190.39,1061.39 L190.52,1061.26 L190.65,1061.11 L190.78,1060.94 L190.91,1060.74 L191.04,1060.53 L191.17,1060.30 L191.29,1060.05 L191.42,1059.79 L191.54,1059.51 L191.67,1059.23 L191.79,1058.93 L191.91,1058.61 L192.03,1058.29 L192.15,1057.97 L192.27,1057.63 L192.39,1057.29 L192.51,1056.95 L192.62,1056.60 L192.74,1056.25 L192.86,1055.90 L192.97,1055.55 L193.09,1055.20 L193.20,1054.86 L193.31,1054.52 L193.43,1054.19 L193.54,1053.86 L193.65,1053.54 L193.76,1053.23 L193.87,1052.94 L193.99,1052.65 L194.10,1052.37 L194.21,1052.12 L194.32,1051.87 L194.43,1051.64 L194.54,1051.44 L194.65,1051.25 L194.75,1051.08 L194.86,1050.93 L194.97,1050.80 L195.08,1050.70 L195.19,1050.63 L195.30,1050.58 L195.41,1050.56 L195.51,1050.57 L195.62,1050.61 L195.73,1050.67 L195.84,1050.77 L195.95,1050.90 L196.06,1051.05 L196.17,1051.22 L196.27,1051.42 L196.38,1051.64 L196.49,1051.89 L196.60,1052.15 L196.71,1052.43 L196.82,1052.73 L196.92,1053.04 L197.03,1053.37 L197.14,1053.71 L197.25,1054.06 L197.36,1054.43 L197.47,1054.80 L197.57,1055.18 L197.68,1055.57 L197.79,1055.97 L197.90,1056.37 L198.01,1056.77 L198.12,1057.17 L198.22,1057.58 L198.33,1057.98 L198.44,1058.38 L198.55,1058.78 L198.66,1059.17 L198.77,1059.56 L198.87,1059.94 L198.98,1060.31 L199.09,1060.67 L199.20,1061.02 L199.31,1061.36 L199.42,1061.69 L199.52,1062.00 L199.63,1062.29 L199.74,1062.57 L199.85,1062.82 L199.96,1063.06 L200.07,1063.28 L200.18,1063.47 L200.28,1063.64 L200.39,1063.78 L200.50,1063.90 L200.61,1063.99 L200.72,1064.05 L200.83,1064.09 L200.93,1064.09 L201.04,1064.07 L201.15,1064.02 L201.26,1063.94 L201.37,1063.84 L201.48,1063.72 L201.59,1063.58 L201.70,1063.41 L201.81,1063.22 L201.92,1063.02 L202.03,1062.79 L202.15,1062.55 L202.26,1062.29 L202.37,1062.02 L202.49,1061.73 L202.60,1061.43 L202.72,1061.12 L202.84,1060.80 L202.95,1060.46 L203.07,1060.12 L203.19,1059.77 L203.31,1059.41 L203.44,1059.04 L203.56,1058.67 L203.69,1058.30 L203.81,1057.92 L203.94,1057.54 L204.07,1057.16 L204.20,1056.77 L204.33,1056.39 L204.46,1056.01 L204.60,1055.64 L204.73,1055.26 L204.87,1054.89 L205.01,1054.53 L205.15,1054.17 L205.30,1053.82 L205.44,1053.48 L205.59,1053.15 L205.74,1052.83 L205.89,1052.53 L206.04,1052.23 L206.20,1051.95 L206.36,1051.68 L206.52,1051.43 L206.68,1051.19 L206.84,1050.98 L207.01,1050.78 L207.18,1050.59 L207.35,1050.42 L207.52,1050.27 L207.70,1050.13 L207.88,1050.01 L208.06,1049.90 L208.24,1049.80 L208.42,1049.72 L208.61,1049.65 L208.80,1049.59 L208.99,1049.54 L209.19,1049.51 L209.38,1049.48 L209.58,1049.47 L209.78,1049.46 L209.99,1049.47 L210.19,1049.48 L210.40,1049.50 L210.61,1049.53 L210.82,1049.57 L211.04,1049.62 L211.26,1049.67 L211.48,1049.73 L211.70,1049.79 L211.92,1049.86 L212.15,1049.94 L212.38,1050.01 L212.61,1050.10 L212.84,1050.18 L213.08,1050.27 L213.31,1050.36 L213.55,1050.46 L213.80,1050.55 L214.04,1050.65 L214.29,1050.75 L214.54,1050.84 L214.79,1050.94 L215.04,1051.04 L215.30,1051.13 L215.56,1051.23 L215.82,1051.32 L216.08,1051.41 L216.35,1051.49 L216.62,1051.58 L216.89,1051.66 L217.16,1051.73 L217.43,1051.80 L217.71,1051.87 L217.99,1051.93 L218.28,1051.99 L218.57,1052.04 L218.87,1052.09 L219.17,1052.14 L219.47,1052.18 L219.79,1052.22 L220.11,1052.25 L220.43,1052.28 L220.77,1052.31 L221.11,1052.33 L221.46,1052.35 L221.82,1052.37 L222.19,1052.38 L222.57,1052.39 L222.96,1052.39 L223.36,1052.39 L223.77,1052.39 L224.19,1052.39 L224.63,1052.38 L225.08,1052.37 L225.54,1052.35 L226.01,1052.33 L226.50,1052.31 L227.00,1052.29 L227.51,1052.26 L228.04,1052.23 L228.59,1052.20 L229.15,1052.16 L229.73,1052.13 L230.33,1052.09 L230.94,1052.04 L231.57,1051.99 L232.22,1051.95 L232.88,1051.89 L233.57,1051.84 L234.28,1051.78 L235.00,1051.72 L235.75,1051.66 L236.51,1051.60 L237.30,1051.53 L238.11,1051.46 L238.94,1051.39 L239.79,1051.32 L240.67,1051.24 L241.57,1051.17 L242.49,1051.09 L243.44,1051.01 L244.41,1050.92 L245.40,1050.84 L246.41,1050.75 L247.45,1050.66 L248.51,1050.57 L249.60,1050.48 L250.71,1050.38 L251.84,1050.28 L253.00,1050.19 L254.18,1050.08 L255.38,1049.98 L256.61,1049.88 L257.86,1049.77 L259.13,1049.66 L260.43,1049.55 L261.75,1049.44 L263.10,1049.33 L264.47,1049.21 L265.86,1049.09 L267.28,1048.97 L268.72,1048.85 L270.19,1048.73 L271.68,1048.61 L273.19,1048.48 L274.73,1048.35 L276.30,1048.22 L277.88,1048.09 L279.50,1047.96 L281.13,1047.82 L282.80,1047.69 L284.48,1047.55 L286.19,1047.41 L287.93,1047.27 L289.69,1047.13 L291.47,1046.99 L293.28,1046.84 L295.12,1046.70 L296.98,1046.55 L298.86,1046.40 L300.77,1046.25 L302.71,1046.10 L304.67,1045.94 L306.65,1045.79 L308.67,1045.63 L310.70,1045.47 L312.76,1045.32 L314.84,1045.16 L316.95,1045.00 L319.08,1044.83 L321.23,1044.67 L323.41,1044.51 L325.60,1044.35 L327.82,1044.18 L330.05,1044.02 L332.31,1043.86 L334.58,1043.70 L336.87,1043.53 L339.18,1043.37 L341.51,1043.21 L343.86,1043.05 L346.22,1042.89 L348.59,1042.73 L350.99,1042.57 L353.39,1042.42 L355.81,1042.26 L358.25,1042.11 L360.69,1041.96 L363.15,1041.81 L365.63,1041.66 L368.11,1041.51 L370.60,1041.37 L373.11,1041.23 L375.62,1041.09 L378.15,1040.95 L380.68,1040.82 L383.22,1040.69 L385.77,1040.56 L388.33,1040.44 L390.89,1040.31 L393.46,1040.20 L396.03,1040.08 L398.61,1039.97 L401.20,1039.86 L403.79,1039.76 L406.38,1039.66 L408.97,1039.56 L411.57,1039.47 L414.17,1039.39 L416.77,1039.31 L419.37,1039.23 L421.97,1039.16 L424.57,1039.09 L427.17,1039.03 L429.77,1038.97 L432.37,1038.91 L434.98,1038.87 L437.58,1038.82 L440.18,1038.78 L442.78,1038.75 L445.38,1038.72 L447.98,1038.69 L450.58,1038.67 L453.18,1038.65 L455.78,1038.64 L458.39,1038.63 L460.99,1038.62 L463.59,1038.62 L466.19,1038.63 L468.79,1038.63 L471.39,1038.64 L473.99,1038.66 L476.59,1038.68 L479.19,1038.70 L481.80,1038.73 L484.40,1038.75 L487.00,1038.79 L489.60,1038.83 L492.20,1038.87 L494.80,1038.91 L497.40,1038.96 L500.00,1039.01 L502.61,1039.06 L505.21,1039.12 L507.81,1039.18 L510.41,1039.24 L513.01,1039.31 L515.61,1039.38 L518.21,1039.45 L520.81,1039.52 L523.41,1039.60 L526.02,1039.68 L528.62,1039.77 L531.22,1039.85 L533.82,1039.94 L536.42,1040.04 L539.02,1040.13 L541.62,1040.23 L544.22,1040.33 L546.82,1040.43 L549.43,1040.53 L552.03,1040.64 L554.64,1040.74 L557.24,1040.85 L559.85,1040.97 L562.47,1041.08 L565.09,1041.19 L567.71,1041.31 L570.34,1041.43 L572.98,1041.55 L575.62,1041.66 L578.27,1041.78 L580.93,1041.91 L583.59,1042.03 L586.27,1042.15 L588.95,1042.27 L591.65,1042.39 L594.35,1042.52 L597.07,1042.64 L599.80,1042.76 L602.54,1042.88 L605.29,1043.00 L608.06,1043.12 L610.84,1043.24 L613.64,1043.36 L616.45,1043.48 L619.28,1043.60 L622.12,1043.72 L624.98,1043.83 L627.86,1043.95 L630.76,1044.06 L633.68,1044.17 L636.61,1044.28 L639.57,1044.38 L642.55,1044.49 L645.54,1044.59 L648.56,1044.69 L651.61,1044.79 L654.67,1044.88 L657.76,1044.97 L660.87,1045.06 L664.01,1045.15 L667.17,1045.23 L670.36,1045.31 L673.58,1045.39 L676.82,1045.46 L680.09,1045.53 L683.39,1045.60 L686.73,1045.66 L690.10,1045.71 L693.52,1045.76 L696.97,1045.80 L700.47,1045.83 L704.02,1045.86 L707.62,1045.87 L711.28,1045.88 L714.99,1045.88 L718.76,1045.86 L722.60,1045.83 L726.50,1045.79 L730.47,1045.74 L734.52,1045.68 L738.63,1045.60 L742.83,1045.50 L747.11,1045.39 L751.46,1045.26 L755.91,1045.12 L760.45,1044.95 L765.08,1044.77 L769.80,1044.57 L774.62,1044.35 L779.54,1044.11 L784.57,1043.85 L789.70,1043.57 L794.95,1043.26 L800.30,1042.93 L805.78,1042.58 L811.37,1042.20 L817.08,1041.80 L822.92,1041.37 L828.88,1040.92 L834.98,1040.44 L841.20,1039.93 L847.57,1039.39 L854.07,1038.83 L860.72,1038.23 L867.51,1037.60 L874.44,1036.94 L881.53,1036.25 L888.78,1035.53 L896.17,1034.78 L903.73,1033.99 L911.45,1033.16" fill="none" stroke="#000" stroke-width="3.50" stroke-linejoin="round"/>
<circle cx="180.21" cy="1072.75" r="6.7" fill="#fff" stroke="#000" stroke-width="1.8"/>
<circle cx="185.33" cy="1052.86" r="6.7" fill="#fff" stroke="#000" stroke-width="1.8"/>
<circle cx="190.44" cy="1071.79" r="6.7" fill="#fff" stroke="#000" stroke-width="1.8"/>
<circle cx="195.55" cy="1039.15" r="6.7" fill="#fff" stroke="#000" stroke-width="1.8"/>
<circle cx="200.67" cy="1075.05" r="6.7" fill="#fff" stroke="#000" stroke-width="1.8"/>
<circle cx="205.78" cy="1044.81" r="6.7" fill="#fff" stroke="#000" stroke-width="1.8"/>
<circle cx="216.01" cy="1053.25" r="6.7" fill="#fff" stroke="#000" stroke-width="1.8"/>
<circle cx="231.35" cy="1052.10" r="6.7" fill="#fff" stroke="#000" stroke-width="1.8"/>
<circle cx="297.83" cy="1046.25" r="6.7" fill="#fff" stroke="#000" stroke-width="1.8"/>
<circle cx="420.55" cy="1037.38" r="6.7" fill="#fff" stroke="#000" stroke-width="1.8"/>
<circle cx="543.28" cy="1039.39" r="6.7" fill="#fff" stroke="#000" stroke-width="1.8"/>
<circle cx="666.00" cy="1046.78" r="6.7" fill="#fff" stroke="#000" stroke-width="1.8"/>
<circle cx="788.73" cy="1046.39" r="6.7" fill="#fff" stroke="#000" stroke-width="1.8"/>
<circle cx="911.45" cy="1033.16" r="6.7" fill="#fff" stroke="#000" stroke-width="1.8"/>
<path d="M180.21,1536.61 L180.54,1535.88 L180.85,1535.20 L181.16,1534.56 L181.46,1533.96 L181.76,1533.39 L182.04,1532.86 L182.33,1532.37 L182.60,1531.91 L182.88,1531.48 L183.14,1531.09 L183.40,1530.73 L183.65,1530.40 L183.90,1530.10 L184.15,1529.82 L184.38,1529.58 L184.62,1529.36 L184.84,1529.16 L185.07,1528.99 L185.29,1528.84 L185.50,1528.72 L185.71,1528.61 L185.91,1528.53 L186.12,1528.46 L186.31,1528.41 L186.51,1528.38 L186.69,1528.36 L186.88,1528.35 L187.06,1528.36 L187.24,1528.39 L187.41,1528.42 L187.59,1528.46 L187.75,1528.52 L187.92,1528.58 L188.08,1528.65 L188.24,1528.72 L188.40,1528.80 L188.55,1528.88 L188.71,1528.97 L188.86,1529.05 L189.00,1529.14 L189.15,1529.23 L189.29,1529.32 L189.44,1529.40 L189.58,1529.48 L189.72,1529.55 L189.85,1529.62 L189.99,1529.69 L190.13,1529.74 L190.26,1529.79 L190.39,1529.83 L190.52,1529.86 L190.65,1529.88 L190.78,1529.90 L190.91,1529.91 L191.04,1529.91 L191.17,1529.91 L191.29,1529.90 L191.42,1529.89 L191.54,1529.87 L191.67,1529.84 L191.79,1529.81 L191.91,1529.77 L192.03,1529.73 L192.15,1529.68 L192.27,1529.63 L192.39,1529.57 L192.51,1529.51 L192.62,1529.44 L192.74,1529.37 L192.86,1529.30 L192.97,1529.22 L193.09,1529.14 L193.20,1529.06 L193.31,1528.97 L193.43,1528.88 L193.54,1528.79 L193.65,1528.70 L193.76,1528.60 L193.87,1528.50 L193.99,1528.40 L194.10,1528.30 L194.21,1528.20 L194.32,1528.09 L194.43,1527.99 L194.54,1527.88 L194.65,1527.77 L194.75,1527.67 L194.86,1527.56 L194.97,1527.45 L195.08,1527.34 L195.19,1527.23 L195.30,1527.13 L195.41,1527.02 L195.51,1526.91 L195.62,1526.81 L195.73,1526.71 L195.84,1526.60 L195.95,1526.50 L196.06,1526.40 L196.17,1526.30 L196.27,1526.20 L196.38,1526.10 L196.49,1526.01 L196.60,1525.91 L196.71,1525.81 L196.82,1525.71 L196.92,1525.62 L197.03,1525.52 L197.14,1525.42 L197.25,1525.33 L197.36,1525.23 L197.47,1525.13 L197.57,1525.03 L197.68,1524.93 L197.79,1524.84 L197.90,1524.74 L198.01,1524.64 L198.12,1524.53 L198.22,1524.43 L198.33,1524.33 L198.44,1524.22 L198.55,1524.12 L198.66,1524.01 L198.77,1523.90 L198.87,1523.79 L198.98,1523.68 L199.09,1523.57 L199.20,1523.46 L199.31,1523.34 L199.42,1523.22 L199.52,1523.10 L199.63,1522.98 L199.74,1522.85 L199.85,1522.73 L199.96,1522.60 L200.07,1522.47 L200.18,1522.33 L200.28,1522.20 L200.39,1522.06 L200.50,1521.92 L200.61,1521.77 L200.72,1521.62 L200.83,1521.47 L200.93,1521.32 L201.04,1521.16 L201.15,1521.00 L201.26,1520.84 L201.37,1520.67 L201.48,1520.50 L201.59,1520.33 L201.70,1520.15 L201.81,1519.97 L201.92,1519.78 L202.03,1519.59 L202.15,1519.40 L202.26,1519.20 L202.37,1519.00 L202.49,1518.79 L202.60,1518.58 L202.72,1518.36 L202.84,1518.14 L202.95,1517.92 L203.07,1517.69 L203.19,1517.46 L203.31,1517.22 L203.44,1516.97 L203.56,1516.72 L203.69,1516.47 L203.81,1516.21 L203.94,1515.94 L204.07,1515.67 L204.20,1515.40 L204.33,1515.11 L204.46,1514.83 L204.60,1514.53 L204.73,1514.23 L204.87,1513.93 L205.01,1513.62 L205.15,1513.30 L205.30,1512.98 L205.44,1512.65 L205.59,1512.31 L205.74,1511.97 L205.89,1511.62 L206.04,1511.26 L206.20,1510.90 L206.36,1510.53 L206.52,1510.16 L206.68,1509.77 L206.84,1509.38 L207.01,1508.98 L207.18,1508.58 L207.35,1508.17 L207.52,1507.76 L207.70,1507.33 L207.88,1506.91 L208.06,1506.48 L208.24,1506.04 L208.42,1505.60 L208.61,1505.15 L208.80,1504.70 L208.99,1504.25 L209.19,1503.79 L209.38,1503.33 L209.58,1502.87 L209.78,1502.40 L209.99,1501.93 L210.19,1501.46 L210.40,1500.98 L210.61,1500.51 L210.82,1500.03 L211.04,1499.55 L211.26,1499.08 L211.48,1498.60 L211.70,1498.12 L211.92,1497.64 L212.15,1497.15 L212.38,1496.67 L212.61,1496.20 L212.84,1495.72 L213.08,1495.24 L213.31,1494.76 L213.55,1494.29 L213.80,1493.82 L214.04,1493.35 L214.29,1492.88 L214.54,1492.41 L214.79,1491.95 L215.04,1491.49 L215.30,1491.04 L215.56,1490.58 L215.82,1490.14 L216.08,1489.69 L216.35,1489.25 L216.62,1488.82 L216.89,1488.39 L217.16,1487.97 L217.43,1487.55 L217.71,1487.13 L217.99,1486.72 L218.28,1486.31 L218.57,1485.90 L218.87,1485.50 L219.17,1485.10 L219.47,1484.69 L219.79,1484.29 L220.11,1483.89 L220.43,1483.48 L220.77,1483.08 L221.11,1482.67 L221.46,1482.26 L221.82,1481.85 L222.19,1481.43 L222.57,1481.01 L222.96,1480.58 L223.36,1480.15 L223.77,1479.72 L224.19,1479.27 L224.63,1478.82 L225.08,1478.36 L225.54,1477.89 L226.01,1477.42 L226.50,1476.93 L227.00,1476.44 L227.51,1475.93 L228.04,1475.42 L228.59,1474.89 L229.15,1474.35 L229.73,1473.79 L230.33,1473.23 L230.94,1472.65 L231.57,1472.05 L232.22,1471.44 L232.88,1470.82 L233.57,1470.17 L234.28,1469.52 L235.00,1468.84 L235.75,1468.15 L236.51,1467.44 L237.30,1466.70 L238.11,1465.95 L238.94,1465.18 L239.79,1464.39 L240.67,1463.58 L241.57,1462.75 L242.49,1461.90 L243.44,1461.02 L244.41,1460.13 L245.40,1459.22 L246.41,1458.29 L247.45,1457.34 L248.51,1456.38 L249.60,1455.40 L250.71,1454.40 L251.84,1453.38 L253.00,1452.35 L254.18,1451.31 L255.38,1450.25 L256.61,1449.17 L257.86,1448.08 L259.13,1446.98 L260.43,1445.87 L261.75,1444.74 L263.10,1443.60 L264.47,1442.45 L265.86,1441.28 L267.28,1440.11 L268.72,1438.93 L270.19,1437.74 L271.68,1436.53 L273.19,1435.32 L274.73,1434.10 L276.30,1432.88 L277.88,1431.64 L279.50,1430.40 L281.13,1429.15 L282.80,1427.90 L284.48,1426.64 L286.19,1425.37 L287.93,1424.10 L289.69,1422.83 L291.47,1421.55 L293.28,1420.27 L295.12,1418.99 L296.98,1417.70 L298.86,1416.42 L300.77,1415.13 L302.71,1413.84 L304.67,1412.55 L306.65,1411.26 L308.67,1409.97 L310.70,1408.68 L312.76,1407.39 L314.84,1406.10 L316.95,1404.82 L319.08,1403.53 L321.23,1402.25 L323.41,1400.97 L325.60,1399.70 L327.82,1398.42 L330.05,1397.15 L332.31,1395.88 L334.58,1394.62 L336.87,1393.36 L339.18,1392.10 L341.51,1390.85 L343.86,1389.60 L346.22,1388.36 L348.59,1387.12 L350.99,1385.89 L353.39,1384.66 L355.81,1383.44 L358.25,1382.22 L360.69,1381.01 L363.15,1379.81 L365.63,1378.62 L368.11,1377.43 L370.60,1376.25 L373.11,1375.07 L375.62,1373.91 L378.15,1372.75 L380.68,1371.60 L383.22,1370.46 L385.77,1369.33 L388.33,1368.20 L390.89,1367.09 L393.46,1365.98 L396.03,1364.89 L398.61,1363.81 L401.20,1362.73 L403.79,1361.67 L406.38,1360.62 L408.97,1359.57 L411.57,1358.54 L414.17,1357.53 L416.77,1356.52 L419.37,1355.52 L421.97,1354.54 L424.57,1353.57 L427.17,1352.61 L429.77,1351.67 L432.37,1350.73 L434.98,1349.81 L437.58,1348.90 L440.18,1348.00 L442.78,1347.12 L445.38,1346.24 L447.98,1345.37 L450.58,1344.52 L453.18,1343.67 L455.78,1342.84 L458.39,1342.02 L460.99,1341.20 L463.59,1340.40 L466.19,1339.60 L468.79,1338.82 L471.39,1338.04 L473.99,1337.28 L476.59,1336.52 L479.19,1335.77 L481.80,1335.04 L484.40,1334.31 L487.00,1333.58 L489.60,1332.87 L492.20,1332.16 L494.80,1331.47 L497.40,1330.78 L500.00,1330.10 L502.61,1329.42 L505.21,1328.75 L507.81,1328.09 L510.41,1327.44 L513.01,1326.79 L515.61,1326.15 L518.21,1325.52 L520.81,1324.89 L523.41,1324.27 L526.02,1323.66 L528.62,1323.05 L531.22,1322.45 L533.82,1321.85 L536.42,1321.26 L539.02,1320.67 L541.62,1320.09 L544.22,1319.51 L546.82,1318.94 L549.43,1318.37 L552.03,1317.81 L554.64,1317.25 L557.24,1316.69 L559.85,1316.14 L562.47,1315.59 L565.09,1315.05 L567.71,1314.51 L570.34,1313.97 L572.98,1313.44 L575.62,1312.91 L578.27,1312.38 L580.93,1311.85 L583.59,1311.33 L586.27,1310.81 L588.95,1310.29 L591.65,1309.77 L594.35,1309.26 L597.07,1308.74 L599.80,1308.23 L602.54,1307.72 L605.29,1307.21 L608.06,1306.70 L610.84,1306.19 L613.64,1305.69 L616.45,1305.18 L619.28,1304.67 L622.12,1304.17 L624.98,1303.66 L627.86,1303.15 L630.76,1302.65 L633.68,1302.14 L636.61,1301.63 L639.57,1301.13 L642.55,1300.62 L645.54,1300.11 L648.56,1299.59 L651.61,1299.08 L654.67,1298.57 L657.76,1298.05 L660.87,1297.53 L664.01,1297.01 L667.17,1296.49 L670.36,1295.97 L673.58,1295.44 L676.82,1294.91 L680.09,1294.38 L683.39,1293.84 L686.73,1293.31 L690.10,1292.77 L693.52,1292.23 L696.97,1291.69 L700.47,1291.16 L704.02,1290.62 L707.62,1290.09 L711.28,1289.56 L714.99,1289.03 L718.76,1288.51 L722.60,1287.99 L726.50,1287.48 L730.47,1286.97 L734.52,1286.47 L738.63,1285.97 L742.83,1285.49 L747.11,1285.01 L751.46,1284.54 L755.91,1284.07 L760.45,1283.62 L765.08,1283.18 L769.80,1282.75 L774.62,1282.33 L779.54,1281.93 L784.57,1281.53 L789.70,1281.15 L794.95,1280.79 L800.30,1280.43 L805.78,1280.10 L811.37,1279.78 L817.08,1279.47 L822.92,1279.19 L828.88,1278.92 L834.98,1278.66 L841.20,1278.43 L847.57,1278.22 L854.07,1278.02 L860.72,1277.85 L867.51,1277.70 L874.44,1277.57 L881.53,1277.46 L888.78,1277.38 L896.17,1277.31 L903.73,1277.28 L911.45,1277.26" fill="none" stroke="#000" stroke-width="3.50" stroke-linejoin="round"/>
<path d="M180.21,1527.83L187.81,1540.99L172.61,1540.99Z" fill="#fff" stroke="#000" stroke-width="1.8"/>
<path d="M185.33,1516.14L192.93,1529.30L177.73,1529.30Z" fill="#fff" stroke="#000" stroke-width="1.8"/>
<path d="M190.44,1523.90L198.04,1537.06L182.84,1537.06Z" fill="#fff" stroke="#000" stroke-width="1.8"/>
<path d="M195.55,1517.67L203.15,1530.83L187.95,1530.83Z" fill="#fff" stroke="#000" stroke-width="1.8"/>
<path d="M200.67,1514.03L208.27,1527.19L193.07,1527.19Z" fill="#fff" stroke="#000" stroke-width="1.8"/>
<path d="M205.78,1503.72L213.38,1516.89L198.18,1516.89Z" fill="#fff" stroke="#000" stroke-width="1.8"/>
<path d="M216.01,1477.70L223.61,1490.86L208.41,1490.86Z" fill="#fff" stroke="#000" stroke-width="1.8"/>
<path d="M231.35,1463.41L238.95,1476.58L223.75,1476.58Z" fill="#fff" stroke="#000" stroke-width="1.8"/>
<path d="M297.83,1401.92L305.43,1415.08L290.23,1415.08Z" fill="#fff" stroke="#000" stroke-width="1.8"/>
<path d="M420.55,1341.68L428.15,1354.84L412.95,1354.84Z" fill="#fff" stroke="#000" stroke-width="1.8"/>
<path d="M543.28,1309.18L550.88,1322.34L535.68,1322.34Z" fill="#fff" stroke="#000" stroke-width="1.8"/>
<path d="M666.00,1287.28L673.60,1300.44L658.40,1300.44Z" fill="#fff" stroke="#000" stroke-width="1.8"/>
<path d="M788.73,1268.49L796.33,1281.65L781.13,1281.65Z" fill="#fff" stroke="#000" stroke-width="1.8"/>
<path d="M911.45,1268.49L919.05,1281.65L903.85,1281.65Z" fill="#fff" stroke="#000" stroke-width="1.8"/>
</g>
<g stroke="#000" fill="none" stroke-linecap="butt">
<path d="M173.60,952.50H943.34" stroke-width="3.0"/>
<path d="M173.60,1623.50H943.34" stroke-width="3.0"/>
<path d="M175.10,951.00V1625.00" stroke-width="3.0"/>
<path d="M942.14,951.00V1625.00" stroke-width="2.4"/>
<path d="M163.10,1623.50H175.10" stroke-width="3.0"/>
<path d="M168.60,1575.57H175.10" stroke-width="2.6"/>
<path d="M163.10,1527.64H175.10" stroke-width="3.0"/>
<path d="M168.60,1479.71H175.10" stroke-width="2.6"/>
<path d="M163.10,1431.79H175.10" stroke-width="3.0"/>
<path d="M168.60,1383.86H175.10" stroke-width="2.6"/>
<path d="M163.10,1335.93H175.10" stroke-width="3.0"/>
<path d="M168.60,1288.00H175.10" stroke-width="2.6"/>
<path d="M163.10,1240.07H175.10" stroke-width="3.0"/>
<path d="M168.60,1192.14H175.10" stroke-width="2.6"/>
<path d="M163.10,1144.21H175.10" stroke-width="3.0"/>
<path d="M168.60,1096.29H175.10" stroke-width="2.6"/>
<path d="M163.10,1048.36H175.10" stroke-width="3.0"/>
<path d="M168.60,1000.43H175.10" stroke-width="2.6"/>
<path d="M163.10,952.50H175.10" stroke-width="3.0"/>
<path d="M175.10,1623.50V1635.50" stroke-width="3.0"/>
<path d="M226.24,1623.50V1630.00" stroke-width="2.6"/>
<path d="M277.37,1623.50V1635.50" stroke-width="3.0"/>
<path d="M328.51,1623.50V1630.00" stroke-width="2.6"/>
<path d="M379.64,1623.50V1635.50" stroke-width="3.0"/>
<path d="M430.78,1623.50V1630.00" stroke-width="2.6"/>
<path d="M481.91,1623.50V1635.50" stroke-width="3.0"/>
<path d="M533.05,1623.50V1630.00" stroke-width="2.6"/>
<path d="M584.19,1623.50V1635.50" stroke-width="3.0"/>
<path d="M635.32,1623.50V1630.00" stroke-width="2.6"/>
<path d="M686.46,1623.50V1635.50" stroke-width="3.0"/>
<path d="M737.59,1623.50V1630.00" stroke-width="2.6"/>
<path d="M788.73,1623.50V1635.50" stroke-width="3.0"/>
<path d="M839.86,1623.50V1630.00" stroke-width="2.6"/>
<path d="M891.00,1623.50V1635.50" stroke-width="3.0"/>
<path d="M942.14,1623.50V1630.00" stroke-width="2.6"/>
</g>
<text x="156.30" y="1629.90" font-family="Liberation Sans, Arial, sans-serif" font-size="23.00" font-weight="normal" text-anchor="end">0</text>
<text x="156.30" y="1534.04" font-family="Liberation Sans, Arial, sans-serif" font-size="23.00" font-weight="normal" text-anchor="end">20</text>
<text x="156.30" y="1438.19" font-family="Liberation Sans, Arial, sans-serif" font-size="23.00" font-weight="normal" text-anchor="end">40</text>
<text x="156.30" y="1342.33" font-family="Liberation Sans, Arial, sans-serif" font-size="23.00" font-weight="normal" text-anchor="end">60</text>
<text x="156.30" y="1246.47" font-family="Liberation Sans, Arial, sans-serif" font-size="23.00" font-weight="normal" text-anchor="end">80</text>
<text x="156.30" y="1150.61" font-family="Liberation Sans, Arial, sans-serif" font-size="23.00" font-weight="normal" text-anchor="end">100</text>
<text x="156.30" y="1054.76" font-family="Liberation Sans, Arial, sans-serif" font-size="23.00" font-weight="normal" text-anchor="end">120</text>
<text x="156.30" y="958.90" font-family="Liberation Sans, Arial, sans-serif" font-size="23.00" font-weight="normal" text-anchor="end">140</text>
<text x="175.10" y="1661.40" font-family="Liberation Sans, Arial, sans-serif" font-size="23.00" font-weight="normal" text-anchor="middle">0</text>
<text x="277.37" y="1661.40" font-family="Liberation Sans, Arial, sans-serif" font-size="23.00" font-weight="normal" text-anchor="middle">20</text>
<text x="379.64" y="1661.40" font-family="Liberation Sans, Arial, sans-serif" font-size="23.00" font-weight="normal" text-anchor="middle">40</text>
<text x="481.91" y="1661.40" font-family="Liberation Sans, Arial, sans-serif" font-size="23.00" font-weight="normal" text-anchor="middle">60</text>
<text x="584.19" y="1661.40" font-family="Liberation Sans, Arial, sans-serif" font-size="23.00" font-weight="normal" text-anchor="middle">80</text>
<text x="686.46" y="1661.40" font-family="Liberation Sans, Arial, sans-serif" font-size="23.00" font-weight="normal" text-anchor="middle">100</text>
<text x="788.73" y="1661.40" font-family="Liberation Sans, Arial, sans-serif" font-size="23.00" font-weight="normal" text-anchor="middle">120</text>
<text x="891.00" y="1661.40" font-family="Liberation Sans, Arial, sans-serif" font-size="23.00" font-weight="normal" text-anchor="middle">140</text>
<text transform="translate(103.00,1309.50) rotate(-90)" x="0" y="0" font-family="Liberation Sans, Arial, sans-serif" font-size="31" font-weight="bold" text-anchor="middle" textLength="430.6" lengthAdjust="spacingAndGlyphs">Static contact angle(degrees)</text>
<text x="505.90" y="1709.20" font-family="Liberation Sans, Arial, sans-serif" font-size="31" font-weight="bold" textLength="106.7" lengthAdjust="spacingAndGlyphs">Time(h)</text>
<text x="484.00" y="1794.30" font-family="Liberation Serif, Times New Roman, serif" font-size="44">(<tspan font-weight="bold">b</tspan>)</text>
<path d="M594.50,1359.20H658.20" stroke="#808080" stroke-width="3.0" stroke-linecap="round"/>
<g transform="translate(626.40,1359.20) scale(1.05) translate(-626.40,-1359.20)"><path d="M626.40,1369.00L635.20,1354.30L617.60,1354.30Z" fill="#000"/></g>
<text x="667.10" y="1368.60" font-family="Liberation Sans, Arial, sans-serif" font-size="30.90" font-weight="normal" text-anchor="start">Cement dust</text>
<path d="M594.50,1396.70H658.20" stroke="#808080" stroke-width="3.0" stroke-linecap="round"/>
<g transform="translate(626.40,1396.70) scale(1.00) translate(-626.40,-1396.70)"><rect x="619.60" y="1389.90" width="13.60" height="13.60" fill="#000"/></g>
<text x="667.10" y="1406.10" font-family="Liberation Sans, Arial, sans-serif" font-size="30.90" font-weight="normal" text-anchor="start">Coal powder</text>
<path d="M594.50,1433.80H658.20" stroke="#808080" stroke-width="3.0" stroke-linecap="round"/>
<g transform="translate(626.40,1433.80) scale(1.05) translate(-626.40,-1433.80)"><path d="M626.40,1424.00L635.40,1438.70L617.40,1438.70Z" fill="#000"/></g>
<text x="667.10" y="1443.20" font-family="Liberation Sans, Arial, sans-serif" font-size="30.90" font-weight="normal" text-anchor="start">Charcoal powder</text>
<path d="M594.50,1471.50H658.20" stroke="#808080" stroke-width="3.0" stroke-linecap="round"/>
<g transform="translate(626.40,1471.50) scale(1.00) translate(-626.40,-1471.50)"><circle cx="626.40" cy="1471.50" r="7.3" fill="#000"/></g>
<text x="667.10" y="1480.90" font-family="Liberation Sans, Arial, sans-serif" font-size="30.90" font-weight="normal" text-anchor="start">Aluminum powder</text>
<path d="M594.50,1508.60H658.20" stroke="#000" stroke-width="3.0" stroke-linecap="round"/>
<g transform="translate(626.40,1508.60) scale(1.00) translate(-626.40,-1508.60)"><circle cx="626.40" cy="1508.60" r="6.7" fill="#fff" stroke="#000" stroke-width="1.8"/></g>
<text x="667.10" y="1518.00" font-family="Liberation Sans, Arial, sans-serif" font-size="30.90" font-weight="normal" text-anchor="start">Kieselguhr</text>
<path d="M594.50,1546.40H658.20" stroke="#000" stroke-width="3.0" stroke-linecap="round"/>
<g transform="translate(626.40,1546.40) scale(1.05) translate(-626.40,-1546.40)"><path d="M626.40,1537.62L634.00,1550.79L618.80,1550.79Z" fill="#fff" stroke="#000" stroke-width="1.8"/></g>
<text x="667.10" y="1555.80" font-family="Liberation Sans, Arial, sans-serif" font-size="30.90" font-weight="normal" text-anchor="start">Kaolin</text>
<clipPath id="clip2510"><rect x="178.60" y="1844.90" width="759.54" height="665.30"/></clipPath>
<g clip-path="url(#clip2510)">
<path d="M183.66,1985.09 L183.98,1986.34 L184.29,1987.50 L184.60,1988.57 L184.90,1989.55 L185.19,1990.44 L185.48,1991.25 L185.76,1991.98 L186.03,1992.62 L186.30,1993.19 L186.56,1993.69 L186.82,1994.11 L187.07,1994.46 L187.32,1994.75 L187.56,1994.96 L187.79,1995.12 L188.02,1995.21 L188.25,1995.25 L188.47,1995.22 L188.69,1995.14 L188.90,1995.01 L189.11,1994.83 L189.31,1994.61 L189.51,1994.33 L189.70,1994.02 L189.89,1993.66 L190.08,1993.26 L190.26,1992.83 L190.44,1992.36 L190.62,1991.87 L190.79,1991.34 L190.96,1990.78 L191.13,1990.20 L191.29,1989.60 L191.46,1988.97 L191.61,1988.33 L191.77,1987.67 L191.92,1987.00 L192.07,1986.32 L192.22,1985.62 L192.37,1984.92 L192.51,1984.22 L192.66,1983.51 L192.80,1982.81 L192.94,1982.10 L193.07,1981.40 L193.21,1980.71 L193.34,1980.02 L193.48,1979.35 L193.61,1978.69 L193.74,1978.04 L193.87,1977.40 L194.00,1976.77 L194.13,1976.16 L194.26,1975.55 L194.38,1974.96 L194.51,1974.37 L194.63,1973.80 L194.76,1973.24 L194.88,1972.70 L195.00,1972.16 L195.12,1971.63 L195.24,1971.12 L195.36,1970.61 L195.48,1970.12 L195.60,1969.64 L195.72,1969.17 L195.84,1968.71 L195.95,1968.26 L196.07,1967.82 L196.18,1967.39 L196.30,1966.97 L196.41,1966.56 L196.52,1966.17 L196.63,1965.78 L196.75,1965.41 L196.86,1965.04 L196.97,1964.69 L197.08,1964.34 L197.19,1964.01 L197.30,1963.68 L197.41,1963.37 L197.52,1963.07 L197.63,1962.77 L197.74,1962.49 L197.85,1962.22 L197.95,1961.95 L198.06,1961.70 L198.17,1961.46 L198.28,1961.22 L198.39,1961.00 L198.49,1960.79 L198.60,1960.58 L198.71,1960.39 L198.82,1960.20 L198.92,1960.03 L199.03,1959.86 L199.14,1959.71 L199.24,1959.56 L199.35,1959.43 L199.46,1959.30 L199.57,1959.18 L199.67,1959.08 L199.78,1958.98 L199.89,1958.90 L200.00,1958.82 L200.10,1958.76 L200.21,1958.70 L200.32,1958.66 L200.43,1958.63 L200.53,1958.60 L200.64,1958.59 L200.75,1958.59 L200.85,1958.60 L200.96,1958.62 L201.07,1958.65 L201.18,1958.70 L201.28,1958.75 L201.39,1958.82 L201.50,1958.89 L201.61,1958.98 L201.71,1959.08 L201.82,1959.19 L201.93,1959.31 L202.03,1959.45 L202.14,1959.59 L202.25,1959.75 L202.36,1959.92 L202.46,1960.10 L202.57,1960.30 L202.68,1960.50 L202.79,1960.72 L202.89,1960.95 L203.00,1961.20 L203.11,1961.45 L203.22,1961.72 L203.32,1962.00 L203.43,1962.29 L203.54,1962.60 L203.64,1962.91 L203.75,1963.25 L203.86,1963.59 L203.97,1963.95 L204.07,1964.32 L204.18,1964.70 L204.29,1965.09 L204.40,1965.49 L204.50,1965.91 L204.61,1966.33 L204.72,1966.76 L204.83,1967.19 L204.94,1967.64 L205.05,1968.09 L205.16,1968.54 L205.27,1969.00 L205.38,1969.46 L205.49,1969.92 L205.61,1970.39 L205.72,1970.85 L205.83,1971.32 L205.95,1971.79 L206.06,1972.25 L206.18,1972.72 L206.30,1973.18 L206.42,1973.63 L206.54,1974.09 L206.66,1974.53 L206.78,1974.98 L206.91,1975.41 L207.03,1975.84 L207.16,1976.26 L207.28,1976.67 L207.41,1977.07 L207.54,1977.46 L207.68,1977.84 L207.81,1978.20 L207.94,1978.56 L208.08,1978.90 L208.22,1979.22 L208.36,1979.53 L208.50,1979.83 L208.65,1980.11 L208.79,1980.37 L208.94,1980.61 L209.09,1980.83 L209.24,1981.03 L209.39,1981.22 L209.55,1981.38 L209.71,1981.52 L209.87,1981.63 L210.03,1981.73 L210.20,1981.80 L210.36,1981.85 L210.53,1981.87 L210.71,1981.88 L210.88,1981.87 L211.06,1981.84 L211.23,1981.80 L211.42,1981.73 L211.60,1981.65 L211.78,1981.56 L211.97,1981.45 L212.16,1981.33 L212.35,1981.20 L212.55,1981.06 L212.75,1980.90 L212.95,1980.74 L213.15,1980.56 L213.35,1980.38 L213.56,1980.19 L213.76,1980.00 L213.98,1979.80 L214.19,1979.59 L214.40,1979.38 L214.62,1979.17 L214.84,1978.95 L215.06,1978.74 L215.29,1978.52 L215.51,1978.30 L215.74,1978.09 L215.97,1977.88 L216.21,1977.66 L216.44,1977.46 L216.68,1977.26 L216.92,1977.06 L217.16,1976.87 L217.41,1976.68 L217.65,1976.51 L217.90,1976.34 L218.15,1976.18 L218.41,1976.04 L218.66,1975.90 L218.92,1975.78 L219.18,1975.67 L219.44,1975.57 L219.71,1975.49 L219.98,1975.42 L220.25,1975.37 L220.52,1975.33 L220.79,1975.31 L221.07,1975.31 L221.36,1975.32 L221.65,1975.34 L221.94,1975.38 L222.24,1975.42 L222.54,1975.48 L222.85,1975.56 L223.17,1975.64 L223.49,1975.73 L223.82,1975.84 L224.16,1975.95 L224.51,1976.07 L224.87,1976.20 L225.23,1976.34 L225.61,1976.49 L225.99,1976.65 L226.39,1976.81 L226.80,1976.97 L227.21,1977.15 L227.64,1977.32 L228.09,1977.51 L228.54,1977.69 L229.01,1977.88 L229.49,1978.08 L229.99,1978.27 L230.50,1978.47 L231.03,1978.67 L231.57,1978.87 L232.12,1979.07 L232.70,1979.28 L233.29,1979.48 L233.89,1979.68 L234.52,1979.88 L235.16,1980.07 L235.82,1980.27 L236.50,1980.46 L237.20,1980.65 L237.91,1980.83 L238.65,1981.01 L239.41,1981.19 L240.19,1981.36 L240.99,1981.52 L241.82,1981.68 L242.66,1981.83 L243.53,1981.97 L244.42,1982.11 L245.33,1982.23 L246.27,1982.35 L247.23,1982.47 L248.21,1982.57 L249.22,1982.67 L250.24,1982.76 L251.30,1982.84 L252.37,1982.91 L253.47,1982.97 L254.59,1983.03 L255.73,1983.07 L256.90,1983.11 L258.09,1983.14 L259.31,1983.16 L260.55,1983.18 L261.81,1983.18 L263.09,1983.17 L264.40,1983.16 L265.74,1983.14 L267.09,1983.10 L268.47,1983.06 L269.88,1983.01 L271.31,1982.95 L272.76,1982.88 L274.23,1982.80 L275.73,1982.71 L277.26,1982.61 L278.81,1982.50 L280.38,1982.39 L281.98,1982.26 L283.60,1982.12 L285.24,1981.97 L286.91,1981.81 L288.61,1981.64 L290.32,1981.46 L292.07,1981.27 L293.84,1981.07 L295.63,1980.86 L297.45,1980.63 L299.29,1980.40 L301.15,1980.16 L303.04,1979.90 L304.96,1979.64 L306.90,1979.36 L308.87,1979.07 L310.86,1978.77 L312.88,1978.46 L314.91,1978.14 L316.98,1977.81 L319.06,1977.47 L321.17,1977.12 L323.30,1976.76 L325.46,1976.39 L327.63,1976.02 L329.82,1975.63 L332.04,1975.24 L334.27,1974.85 L336.52,1974.45 L338.79,1974.04 L341.08,1973.63 L343.38,1973.21 L345.71,1972.79 L348.04,1972.36 L350.40,1971.94 L352.77,1971.51 L355.15,1971.07 L357.55,1970.64 L359.96,1970.20 L362.38,1969.76 L364.82,1969.32 L367.26,1968.89 L369.72,1968.45 L372.19,1968.01 L374.67,1967.57 L377.16,1967.14 L379.66,1966.71 L382.17,1966.28 L384.69,1965.85 L387.21,1965.43 L389.74,1965.01 L392.28,1964.59 L394.82,1964.18 L397.37,1963.78 L399.93,1963.38 L402.49,1962.99 L405.05,1962.60 L407.62,1962.22 L410.19,1961.85 L412.76,1961.49 L415.33,1961.13 L417.91,1960.78 L420.48,1960.45 L423.06,1960.12 L425.63,1959.80 L428.21,1959.50 L430.78,1959.20 L433.36,1958.91 L435.93,1958.63 L438.51,1958.37 L441.09,1958.11 L443.66,1957.86 L446.24,1957.62 L448.81,1957.39 L451.39,1957.17 L453.96,1956.96 L456.54,1956.76 L459.12,1956.56 L461.69,1956.38 L464.27,1956.20 L466.84,1956.04 L469.42,1955.88 L471.99,1955.73 L474.57,1955.59 L477.15,1955.46 L479.72,1955.34 L482.30,1955.22 L484.87,1955.12 L487.45,1955.02 L490.02,1954.93 L492.60,1954.85 L495.18,1954.78 L497.75,1954.71 L500.33,1954.66 L502.90,1954.61 L505.48,1954.57 L508.05,1954.54 L510.63,1954.51 L513.21,1954.49 L515.78,1954.48 L518.36,1954.48 L520.93,1954.49 L523.51,1954.50 L526.08,1954.52 L528.66,1954.55 L531.24,1954.58 L533.81,1954.62 L536.39,1954.67 L538.96,1954.73 L541.54,1954.79 L544.11,1954.86 L546.69,1954.94 L549.27,1955.02 L551.84,1955.11 L554.42,1955.20 L557.01,1955.30 L559.59,1955.40 L562.18,1955.51 L564.78,1955.62 L567.37,1955.73 L569.98,1955.85 L572.59,1955.97 L575.20,1956.09 L577.83,1956.21 L580.46,1956.34 L583.10,1956.46 L585.75,1956.59 L588.41,1956.71 L591.07,1956.83 L593.75,1956.96 L596.44,1957.08 L599.14,1957.20 L601.86,1957.31 L604.58,1957.43 L607.32,1957.54 L610.08,1957.64 L612.85,1957.75 L615.63,1957.84 L618.43,1957.94 L621.25,1958.02 L624.08,1958.11 L626.93,1958.18 L629.80,1958.25 L632.69,1958.31 L635.60,1958.37 L638.53,1958.41 L641.47,1958.45 L644.44,1958.48 L647.43,1958.50 L650.45,1958.51 L653.48,1958.51 L656.54,1958.50 L659.62,1958.47 L662.73,1958.44 L665.86,1958.40 L669.02,1958.34 L672.20,1958.27 L675.42,1958.18 L678.65,1958.09 L681.92,1957.97 L685.23,1957.85 L688.57,1957.71 L691.95,1957.56 L695.37,1957.40 L698.84,1957.22 L702.35,1957.03 L705.92,1956.82 L709.54,1956.60 L713.21,1956.37 L716.95,1956.13 L720.75,1955.87 L724.61,1955.60 L728.54,1955.32 L732.55,1955.02 L736.62,1954.71 L740.78,1954.39 L745.01,1954.05 L749.33,1953.70 L753.73,1953.34 L758.22,1952.96 L762.81,1952.57 L767.48,1952.17 L772.26,1951.76 L777.13,1951.33 L782.11,1950.89 L787.19,1950.44 L792.39,1949.98 L797.69,1949.50 L803.11,1949.01 L808.65,1948.51 L814.30,1947.99 L820.08,1947.46 L825.99,1946.92 L832.02,1946.37 L838.19,1945.80 L844.49,1945.23 L850.93,1944.64 L857.51,1944.03 L864.24,1943.42 L871.11,1942.79 L878.13,1942.15 L885.30,1941.50 L892.62,1940.83 L900.11,1940.16 L907.75,1939.47" fill="none" stroke="#808080" stroke-width="3.00" stroke-linejoin="round"/>
<path d="M183.66,1976.09L192.66,1985.09L183.66,1994.09L174.66,1985.09Z" fill="#000"/>
<path d="M188.73,1996.52L197.73,2005.52L188.73,2014.52L179.73,2005.52Z" fill="#000"/>
<path d="M193.79,1966.58L202.79,1975.58L193.79,1984.58L184.79,1975.58Z" fill="#000"/>
<path d="M198.85,1947.58L207.85,1956.58L198.85,1965.58L189.85,1956.58Z" fill="#000"/>
<path d="M203.92,1949.95L212.92,1958.95L203.92,1967.95L194.92,1958.95Z" fill="#000"/>
<path d="M208.98,1981.32L217.98,1990.32L208.98,1999.32L199.98,1990.32Z" fill="#000"/>
<path d="M219.11,1960.41L228.11,1969.41L219.11,1978.41L210.11,1969.41Z" fill="#000"/>
<path d="M234.30,1975.61L243.30,1984.61L234.30,1993.61L225.30,1984.61Z" fill="#000"/>
<path d="M300.13,1974.19L309.13,1983.19L300.13,1992.19L291.13,1983.19Z" fill="#000"/>
<path d="M421.65,1947.58L430.65,1956.58L421.65,1965.58L412.65,1956.58Z" fill="#000"/>
<path d="M543.18,1943.30L552.18,1952.30L543.18,1961.30L534.18,1952.30Z" fill="#000"/>
<path d="M664.70,1954.23L673.70,1963.23L664.70,1972.23L655.70,1963.23Z" fill="#000"/>
<path d="M786.23,1941.40L795.23,1950.40L786.23,1959.40L777.23,1950.40Z" fill="#000"/>
<path d="M907.75,1930.47L916.75,1939.47L907.75,1948.47L898.75,1939.47Z" fill="#000"/>
<path d="M183.66,2216.04 L183.98,2203.65 L184.29,2191.73 L184.60,2180.28 L184.90,2169.27 L185.19,2158.71 L185.48,2148.59 L185.76,2138.88 L186.03,2129.59 L186.30,2120.70 L186.56,2112.20 L186.82,2104.09 L187.07,2096.35 L187.32,2088.98 L187.56,2081.96 L187.79,2075.28 L188.02,2068.94 L188.25,2062.92 L188.47,2057.21 L188.69,2051.81 L188.90,2046.71 L189.11,2041.88 L189.31,2037.34 L189.51,2033.05 L189.70,2029.03 L189.89,2025.24 L190.08,2021.70 L190.26,2018.38 L190.44,2015.27 L190.62,2012.37 L190.79,2009.66 L190.96,2007.14 L191.13,2004.80 L191.29,2002.62 L191.46,2000.60 L191.61,1998.72 L191.77,1996.98 L191.92,1995.37 L192.07,1993.87 L192.22,1992.49 L192.37,1991.19 L192.51,1989.99 L192.66,1988.86 L192.80,1987.79 L192.94,1986.79 L193.07,1985.83 L193.21,1984.91 L193.34,1984.02 L193.48,1983.15 L193.61,1982.29 L193.74,1981.45 L193.87,1980.62 L194.00,1979.81 L194.13,1979.01 L194.26,1978.23 L194.38,1977.46 L194.51,1976.71 L194.63,1975.97 L194.76,1975.25 L194.88,1974.54 L195.00,1973.85 L195.12,1973.17 L195.24,1972.50 L195.36,1971.85 L195.48,1971.21 L195.60,1970.58 L195.72,1969.97 L195.84,1969.37 L195.95,1968.78 L196.07,1968.20 L196.18,1967.64 L196.30,1967.09 L196.41,1966.55 L196.52,1966.02 L196.63,1965.51 L196.75,1965.01 L196.86,1964.52 L196.97,1964.04 L197.08,1963.57 L197.19,1963.11 L197.30,1962.67 L197.41,1962.23 L197.52,1961.80 L197.63,1961.39 L197.74,1960.99 L197.85,1960.59 L197.95,1960.21 L198.06,1959.83 L198.17,1959.47 L198.28,1959.11 L198.39,1958.77 L198.49,1958.43 L198.60,1958.11 L198.71,1957.79 L198.82,1957.48 L198.92,1957.18 L199.03,1956.88 L199.14,1956.60 L199.24,1956.32 L199.35,1956.06 L199.46,1955.80 L199.57,1955.54 L199.67,1955.30 L199.78,1955.06 L199.89,1954.83 L200.00,1954.60 L200.10,1954.39 L200.21,1954.18 L200.32,1953.97 L200.43,1953.78 L200.53,1953.59 L200.64,1953.40 L200.75,1953.22 L200.85,1953.05 L200.96,1952.88 L201.07,1952.72 L201.18,1952.56 L201.28,1952.41 L201.39,1952.26 L201.50,1952.12 L201.61,1951.98 L201.71,1951.85 L201.82,1951.72 L201.93,1951.60 L202.03,1951.48 L202.14,1951.36 L202.25,1951.25 L202.36,1951.14 L202.46,1951.03 L202.57,1950.93 L202.68,1950.83 L202.79,1950.73 L202.89,1950.64 L203.00,1950.54 L203.11,1950.45 L203.22,1950.37 L203.32,1950.28 L203.43,1950.20 L203.54,1950.12 L203.64,1950.04 L203.75,1949.96 L203.86,1949.88 L203.97,1949.81 L204.07,1949.73 L204.18,1949.66 L204.29,1949.59 L204.40,1949.51 L204.50,1949.44 L204.61,1949.37 L204.72,1949.30 L204.83,1949.23 L204.94,1949.15 L205.05,1949.08 L205.16,1949.00 L205.27,1948.93 L205.38,1948.85 L205.49,1948.78 L205.61,1948.70 L205.72,1948.62 L205.83,1948.53 L205.95,1948.45 L206.06,1948.36 L206.18,1948.28 L206.30,1948.19 L206.42,1948.09 L206.54,1948.00 L206.66,1947.90 L206.78,1947.79 L206.91,1947.69 L207.03,1947.58 L207.16,1947.47 L207.28,1947.35 L207.41,1947.23 L207.54,1947.10 L207.68,1946.97 L207.81,1946.84 L207.94,1946.70 L208.08,1946.56 L208.22,1946.41 L208.36,1946.26 L208.50,1946.10 L208.65,1945.93 L208.79,1945.76 L208.94,1945.59 L209.09,1945.41 L209.24,1945.22 L209.39,1945.02 L209.55,1944.82 L209.71,1944.61 L209.87,1944.40 L210.03,1944.18 L210.20,1943.95 L210.36,1943.71 L210.53,1943.47 L210.71,1943.23 L210.88,1942.98 L211.06,1942.72 L211.23,1942.46 L211.42,1942.20 L211.60,1941.93 L211.78,1941.66 L211.97,1941.38 L212.16,1941.11 L212.35,1940.83 L212.55,1940.55 L212.75,1940.27 L212.95,1939.98 L213.15,1939.70 L213.35,1939.42 L213.56,1939.13 L213.76,1938.85 L213.98,1938.57 L214.19,1938.29 L214.40,1938.01 L214.62,1937.73 L214.84,1937.46 L215.06,1937.19 L215.29,1936.92 L215.51,1936.65 L215.74,1936.39 L215.97,1936.13 L216.21,1935.88 L216.44,1935.63 L216.68,1935.39 L216.92,1935.15 L217.16,1934.92 L217.41,1934.69 L217.65,1934.48 L217.90,1934.27 L218.15,1934.06 L218.41,1933.87 L218.66,1933.68 L218.92,1933.50 L219.18,1933.33 L219.44,1933.17 L219.71,1933.02 L219.98,1932.88 L220.25,1932.75 L220.52,1932.63 L220.79,1932.52 L221.07,1932.42 L221.36,1932.33 L221.65,1932.24 L221.94,1932.17 L222.24,1932.10 L222.54,1932.04 L222.85,1931.98 L223.17,1931.93 L223.49,1931.89 L223.82,1931.85 L224.16,1931.82 L224.51,1931.79 L224.87,1931.77 L225.23,1931.75 L225.61,1931.73 L225.99,1931.72 L226.39,1931.71 L226.80,1931.70 L227.21,1931.69 L227.64,1931.69 L228.09,1931.68 L228.54,1931.68 L229.01,1931.67 L229.49,1931.67 L229.99,1931.66 L230.50,1931.66 L231.03,1931.65 L231.57,1931.64 L232.12,1931.62 L232.70,1931.61 L233.29,1931.59 L233.89,1931.56 L234.52,1931.54 L235.16,1931.51 L235.82,1931.47 L236.50,1931.43 L237.20,1931.38 L237.91,1931.32 L238.65,1931.26 L239.41,1931.20 L240.19,1931.12 L240.99,1931.04 L241.82,1930.94 L242.66,1930.84 L243.53,1930.73 L244.42,1930.62 L245.33,1930.49 L246.27,1930.35 L247.23,1930.21 L248.21,1930.06 L249.22,1929.90 L250.24,1929.74 L251.30,1929.57 L252.37,1929.39 L253.47,1929.21 L254.59,1929.02 L255.73,1928.83 L256.90,1928.64 L258.09,1928.44 L259.31,1928.23 L260.55,1928.02 L261.81,1927.81 L263.09,1927.60 L264.40,1927.38 L265.74,1927.16 L267.09,1926.94 L268.47,1926.72 L269.88,1926.50 L271.31,1926.27 L272.76,1926.05 L274.23,1925.83 L275.73,1925.60 L277.26,1925.38 L278.81,1925.16 L280.38,1924.94 L281.98,1924.72 L283.60,1924.51 L285.24,1924.29 L286.91,1924.08 L288.61,1923.88 L290.32,1923.67 L292.07,1923.48 L293.84,1923.28 L295.63,1923.09 L297.45,1922.91 L299.29,1922.73 L301.15,1922.55 L303.04,1922.39 L304.96,1922.22 L306.90,1922.07 L308.87,1921.92 L310.86,1921.78 L312.88,1921.65 L314.91,1921.53 L316.98,1921.41 L319.06,1921.30 L321.17,1921.20 L323.30,1921.10 L325.46,1921.01 L327.63,1920.92 L329.82,1920.84 L332.04,1920.76 L334.27,1920.69 L336.52,1920.63 L338.79,1920.56 L341.08,1920.51 L343.38,1920.45 L345.71,1920.40 L348.04,1920.36 L350.40,1920.31 L352.77,1920.27 L355.15,1920.24 L357.55,1920.20 L359.96,1920.17 L362.38,1920.14 L364.82,1920.11 L367.26,1920.08 L369.72,1920.05 L372.19,1920.03 L374.67,1920.00 L377.16,1919.98 L379.66,1919.95 L382.17,1919.93 L384.69,1919.91 L387.21,1919.88 L389.74,1919.85 L392.28,1919.83 L394.82,1919.80 L397.37,1919.77 L399.93,1919.73 L402.49,1919.70 L405.05,1919.66 L407.62,1919.62 L410.19,1919.58 L412.76,1919.54 L415.33,1919.49 L417.91,1919.43 L420.48,1919.38 L423.06,1919.32 L425.63,1919.25 L428.21,1919.18 L430.78,1919.11 L433.36,1919.03 L435.93,1918.95 L438.51,1918.87 L441.09,1918.78 L443.66,1918.69 L446.24,1918.60 L448.81,1918.50 L451.39,1918.40 L453.96,1918.30 L456.54,1918.20 L459.12,1918.09 L461.69,1917.98 L464.27,1917.87 L466.84,1917.75 L469.42,1917.64 L471.99,1917.52 L474.57,1917.40 L477.15,1917.28 L479.72,1917.16 L482.30,1917.04 L484.87,1916.92 L487.45,1916.79 L490.02,1916.66 L492.60,1916.54 L495.18,1916.41 L497.75,1916.28 L500.33,1916.16 L502.90,1916.03 L505.48,1915.90 L508.05,1915.77 L510.63,1915.65 L513.21,1915.52 L515.78,1915.39 L518.36,1915.27 L520.93,1915.14 L523.51,1915.02 L526.08,1914.90 L528.66,1914.78 L531.24,1914.66 L533.81,1914.54 L536.39,1914.42 L538.96,1914.31 L541.54,1914.19 L544.11,1914.08 L546.69,1913.97 L549.27,1913.87 L551.84,1913.76 L554.42,1913.66 L557.01,1913.56 L559.59,1913.46 L562.18,1913.37 L564.78,1913.28 L567.37,1913.19 L569.98,1913.10 L572.59,1913.02 L575.20,1912.94 L577.83,1912.86 L580.46,1912.79 L583.10,1912.72 L585.75,1912.65 L588.41,1912.59 L591.07,1912.53 L593.75,1912.47 L596.44,1912.42 L599.14,1912.37 L601.86,1912.32 L604.58,1912.28 L607.32,1912.24 L610.08,1912.21 L612.85,1912.18 L615.63,1912.15 L618.43,1912.13 L621.25,1912.11 L624.08,1912.10 L626.93,1912.09 L629.80,1912.09 L632.69,1912.09 L635.60,1912.10 L638.53,1912.11 L641.47,1912.12 L644.44,1912.14 L647.43,1912.17 L650.45,1912.20 L653.48,1912.23 L656.54,1912.27 L659.62,1912.32 L662.73,1912.37 L665.86,1912.43 L669.02,1912.49 L672.20,1912.56 L675.42,1912.63 L678.65,1912.71 L681.92,1912.80 L685.23,1912.88 L688.57,1912.98 L691.95,1913.08 L695.37,1913.18 L698.84,1913.28 L702.35,1913.38 L705.92,1913.49 L709.54,1913.60 L713.21,1913.71 L716.95,1913.81 L720.75,1913.92 L724.61,1914.03 L728.54,1914.14 L732.55,1914.24 L736.62,1914.34 L740.78,1914.44 L745.01,1914.54 L749.33,1914.63 L753.73,1914.72 L758.22,1914.80 L762.81,1914.88 L767.48,1914.95 L772.26,1915.01 L777.13,1915.07 L782.11,1915.12 L787.19,1915.16 L792.39,1915.20 L797.69,1915.22 L803.11,1915.24 L808.65,1915.24 L814.30,1915.24 L820.08,1915.22 L825.99,1915.20 L832.02,1915.16 L838.19,1915.11 L844.49,1915.04 L850.93,1914.97 L857.51,1914.88 L864.24,1914.77 L871.11,1914.65 L878.13,1914.51 L885.30,1914.36 L892.62,1914.19 L900.11,1914.01 L907.75,1913.81" fill="none" stroke="#808080" stroke-width="3.00" stroke-linejoin="round"/>
<rect x="176.86" y="2209.24" width="13.60" height="13.60" fill="#000"/>
<rect x="181.93" y="2010.60" width="13.60" height="13.60" fill="#000"/>
<rect x="186.99" y="1971.16" width="13.60" height="13.60" fill="#000"/>
<rect x="192.05" y="1947.40" width="13.60" height="13.60" fill="#000"/>
<rect x="197.12" y="1942.65" width="13.60" height="13.60" fill="#000"/>
<rect x="202.18" y="1940.27" width="13.60" height="13.60" fill="#000"/>
<rect x="212.31" y="1922.21" width="13.60" height="13.60" fill="#000"/>
<rect x="227.50" y="1927.44" width="13.60" height="13.60" fill="#000"/>
<rect x="293.33" y="1912.23" width="13.60" height="13.60" fill="#000"/>
<rect x="414.85" y="1914.13" width="13.60" height="13.60" fill="#000"/>
<rect x="536.38" y="1906.53" width="13.60" height="13.60" fill="#000"/>
<rect x="657.90" y="1903.68" width="13.60" height="13.60" fill="#000"/>
<rect x="779.43" y="1910.33" width="13.60" height="13.60" fill="#000"/>
<rect x="900.95" y="1907.01" width="13.60" height="13.60" fill="#000"/>
<path d="M183.66,1964.13 L183.98,1962.92 L184.29,1961.78 L184.60,1960.71 L184.90,1959.72 L185.19,1958.80 L185.48,1957.94 L185.76,1957.15 L186.03,1956.42 L186.30,1955.75 L186.56,1955.14 L186.82,1954.59 L187.07,1954.09 L187.32,1953.64 L187.56,1953.24 L187.79,1952.89 L188.02,1952.58 L188.25,1952.32 L188.47,1952.09 L188.69,1951.91 L188.90,1951.76 L189.11,1951.64 L189.31,1951.56 L189.51,1951.50 L189.70,1951.47 L189.89,1951.47 L190.08,1951.49 L190.26,1951.52 L190.44,1951.58 L190.62,1951.65 L190.79,1951.74 L190.96,1951.84 L191.13,1951.94 L191.29,1952.06 L191.46,1952.17 L191.61,1952.29 L191.77,1952.41 L191.92,1952.53 L192.07,1952.65 L192.22,1952.75 L192.37,1952.85 L192.51,1952.94 L192.66,1953.01 L192.80,1953.07 L192.94,1953.11 L193.07,1953.13 L193.21,1953.13 L193.34,1953.10 L193.48,1953.05 L193.61,1952.97 L193.74,1952.87 L193.87,1952.74 L194.00,1952.59 L194.13,1952.42 L194.26,1952.22 L194.38,1952.01 L194.51,1951.78 L194.63,1951.54 L194.76,1951.28 L194.88,1951.01 L195.00,1950.72 L195.12,1950.42 L195.24,1950.11 L195.36,1949.80 L195.48,1949.47 L195.60,1949.14 L195.72,1948.80 L195.84,1948.46 L195.95,1948.11 L196.07,1947.77 L196.18,1947.42 L196.30,1947.08 L196.41,1946.73 L196.52,1946.39 L196.63,1946.06 L196.75,1945.72 L196.86,1945.40 L196.97,1945.08 L197.08,1944.78 L197.19,1944.48 L197.30,1944.20 L197.41,1943.93 L197.52,1943.67 L197.63,1943.43 L197.74,1943.20 L197.85,1942.99 L197.95,1942.81 L198.06,1942.64 L198.17,1942.49 L198.28,1942.37 L198.39,1942.27 L198.49,1942.19 L198.60,1942.15 L198.71,1942.13 L198.82,1942.13 L198.92,1942.17 L199.03,1942.24 L199.14,1942.34 L199.24,1942.46 L199.35,1942.61 L199.46,1942.78 L199.57,1942.98 L199.67,1943.20 L199.78,1943.44 L199.89,1943.70 L200.00,1943.98 L200.10,1944.28 L200.21,1944.59 L200.32,1944.91 L200.43,1945.25 L200.53,1945.60 L200.64,1945.96 L200.75,1946.33 L200.85,1946.71 L200.96,1947.10 L201.07,1947.49 L201.18,1947.88 L201.28,1948.28 L201.39,1948.68 L201.50,1949.08 L201.61,1949.48 L201.71,1949.88 L201.82,1950.28 L201.93,1950.67 L202.03,1951.05 L202.14,1951.43 L202.25,1951.80 L202.36,1952.15 L202.46,1952.50 L202.57,1952.84 L202.68,1953.16 L202.79,1953.47 L202.89,1953.76 L203.00,1954.03 L203.11,1954.29 L203.22,1954.52 L203.32,1954.74 L203.43,1954.93 L203.54,1955.10 L203.64,1955.24 L203.75,1955.36 L203.86,1955.45 L203.97,1955.51 L204.07,1955.54 L204.18,1955.54 L204.29,1955.52 L204.40,1955.47 L204.50,1955.40 L204.61,1955.30 L204.72,1955.18 L204.83,1955.03 L204.94,1954.87 L205.05,1954.68 L205.16,1954.48 L205.27,1954.26 L205.38,1954.02 L205.49,1953.76 L205.61,1953.49 L205.72,1953.21 L205.83,1952.91 L205.95,1952.60 L206.06,1952.28 L206.18,1951.95 L206.30,1951.61 L206.42,1951.26 L206.54,1950.90 L206.66,1950.54 L206.78,1950.17 L206.91,1949.80 L207.03,1949.42 L207.16,1949.05 L207.28,1948.67 L207.41,1948.29 L207.54,1947.91 L207.68,1947.53 L207.81,1947.16 L207.94,1946.79 L208.08,1946.42 L208.22,1946.06 L208.36,1945.71 L208.50,1945.36 L208.65,1945.03 L208.79,1944.70 L208.94,1944.38 L209.09,1944.08 L209.24,1943.78 L209.39,1943.50 L209.55,1943.24 L209.71,1942.99 L209.87,1942.76 L210.03,1942.54 L210.20,1942.34 L210.36,1942.16 L210.53,1941.99 L210.71,1941.84 L210.88,1941.70 L211.06,1941.58 L211.23,1941.47 L211.42,1941.37 L211.60,1941.29 L211.78,1941.22 L211.97,1941.16 L212.16,1941.12 L212.35,1941.08 L212.55,1941.06 L212.75,1941.04 L212.95,1941.04 L213.15,1941.04 L213.35,1941.06 L213.56,1941.08 L213.76,1941.11 L213.98,1941.15 L214.19,1941.19 L214.40,1941.25 L214.62,1941.30 L214.84,1941.37 L215.06,1941.44 L215.29,1941.51 L215.51,1941.59 L215.74,1941.67 L215.97,1941.75 L216.21,1941.84 L216.44,1941.93 L216.68,1942.03 L216.92,1942.12 L217.16,1942.22 L217.41,1942.31 L217.65,1942.41 L217.90,1942.50 L218.15,1942.60 L218.41,1942.69 L218.66,1942.79 L218.92,1942.88 L219.18,1942.97 L219.44,1943.05 L219.71,1943.13 L219.98,1943.21 L220.25,1943.29 L220.52,1943.36 L220.79,1943.42 L221.07,1943.48 L221.36,1943.54 L221.65,1943.59 L221.94,1943.64 L222.24,1943.69 L222.54,1943.73 L222.85,1943.77 L223.17,1943.80 L223.49,1943.83 L223.82,1943.86 L224.16,1943.88 L224.51,1943.90 L224.87,1943.92 L225.23,1943.93 L225.61,1943.94 L225.99,1943.94 L226.39,1943.94 L226.80,1943.94 L227.21,1943.94 L227.64,1943.93 L228.09,1943.92 L228.54,1943.90 L229.01,1943.89 L229.49,1943.87 L229.99,1943.84 L230.50,1943.82 L231.03,1943.79 L231.57,1943.75 L232.12,1943.72 L232.70,1943.68 L233.29,1943.64 L233.89,1943.60 L234.52,1943.55 L235.16,1943.50 L235.82,1943.45 L236.50,1943.40 L237.20,1943.34 L237.91,1943.28 L238.65,1943.22 L239.41,1943.16 L240.19,1943.09 L240.99,1943.02 L241.82,1942.95 L242.66,1942.88 L243.53,1942.81 L244.42,1942.73 L245.33,1942.65 L246.27,1942.57 L247.23,1942.49 L248.21,1942.40 L249.22,1942.32 L250.24,1942.23 L251.30,1942.14 L252.37,1942.04 L253.47,1941.95 L254.59,1941.85 L255.73,1941.76 L256.90,1941.66 L258.09,1941.55 L259.31,1941.45 L260.55,1941.34 L261.81,1941.24 L263.09,1941.13 L264.40,1941.02 L265.74,1940.90 L267.09,1940.79 L268.47,1940.67 L269.88,1940.55 L271.31,1940.43 L272.76,1940.31 L274.23,1940.19 L275.73,1940.06 L277.26,1939.94 L278.81,1939.81 L280.38,1939.68 L281.98,1939.55 L283.60,1939.41 L285.24,1939.28 L286.91,1939.14 L288.61,1939.01 L290.32,1938.87 L292.07,1938.73 L293.84,1938.58 L295.63,1938.44 L297.45,1938.30 L299.29,1938.15 L301.15,1938.00 L303.04,1937.85 L304.96,1937.70 L306.90,1937.55 L308.87,1937.40 L310.86,1937.24 L312.88,1937.08 L314.91,1936.93 L316.98,1936.77 L319.06,1936.61 L321.17,1936.45 L323.30,1936.29 L325.46,1936.13 L327.63,1935.97 L329.82,1935.81 L332.04,1935.64 L334.27,1935.48 L336.52,1935.32 L338.79,1935.16 L341.08,1935.00 L343.38,1934.84 L345.71,1934.68 L348.04,1934.52 L350.40,1934.37 L352.77,1934.21 L355.15,1934.05 L357.55,1933.90 L359.96,1933.75 L362.38,1933.60 L364.82,1933.45 L367.26,1933.30 L369.72,1933.16 L372.19,1933.02 L374.67,1932.88 L377.16,1932.74 L379.66,1932.60 L382.17,1932.47 L384.69,1932.34 L387.21,1932.21 L389.74,1932.09 L392.28,1931.97 L394.82,1931.85 L397.37,1931.74 L399.93,1931.63 L402.49,1931.52 L405.05,1931.42 L407.62,1931.32 L410.19,1931.23 L412.76,1931.14 L415.33,1931.05 L417.91,1930.97 L420.48,1930.89 L423.06,1930.82 L425.63,1930.75 L428.21,1930.69 L430.78,1930.63 L433.36,1930.58 L435.93,1930.53 L438.51,1930.49 L441.09,1930.45 L443.66,1930.41 L446.24,1930.38 L448.81,1930.36 L451.39,1930.34 L453.96,1930.32 L456.54,1930.31 L459.12,1930.30 L461.69,1930.29 L464.27,1930.29 L466.84,1930.29 L469.42,1930.30 L471.99,1930.31 L474.57,1930.33 L477.15,1930.34 L479.72,1930.37 L482.30,1930.39 L484.87,1930.42 L487.45,1930.46 L490.02,1930.49 L492.60,1930.53 L495.18,1930.58 L497.75,1930.62 L500.33,1930.67 L502.90,1930.73 L505.48,1930.78 L508.05,1930.84 L510.63,1930.90 L513.21,1930.97 L515.78,1931.04 L518.36,1931.11 L520.93,1931.19 L523.51,1931.26 L526.08,1931.34 L528.66,1931.43 L531.24,1931.51 L533.81,1931.60 L536.39,1931.69 L538.96,1931.79 L541.54,1931.88 L544.11,1931.98 L546.69,1932.08 L549.27,1932.18 L551.84,1932.29 L554.42,1932.40 L557.01,1932.50 L559.59,1932.61 L562.18,1932.73 L564.78,1932.84 L567.37,1932.96 L569.98,1933.07 L572.59,1933.19 L575.20,1933.31 L577.83,1933.43 L580.46,1933.55 L583.10,1933.67 L585.75,1933.79 L588.41,1933.91 L591.07,1934.03 L593.75,1934.15 L596.44,1934.27 L599.14,1934.39 L601.86,1934.51 L604.58,1934.63 L607.32,1934.75 L610.08,1934.87 L612.85,1934.99 L615.63,1935.11 L618.43,1935.23 L621.25,1935.34 L624.08,1935.46 L626.93,1935.57 L629.80,1935.68 L632.69,1935.79 L635.60,1935.90 L638.53,1936.00 L641.47,1936.11 L644.44,1936.21 L647.43,1936.31 L650.45,1936.40 L653.48,1936.50 L656.54,1936.59 L659.62,1936.68 L662.73,1936.76 L665.86,1936.84 L669.02,1936.92 L672.20,1937.00 L675.42,1937.07 L678.65,1937.14 L681.92,1937.21 L685.23,1937.27 L688.57,1937.32 L691.95,1937.37 L695.37,1937.41 L698.84,1937.44 L702.35,1937.47 L705.92,1937.48 L709.54,1937.49 L713.21,1937.48 L716.95,1937.47 L720.75,1937.44 L724.61,1937.40 L728.54,1937.35 L732.55,1937.28 L736.62,1937.20 L740.78,1937.11 L745.01,1937.00 L749.33,1936.87 L753.73,1936.73 L758.22,1936.57 L762.81,1936.39 L767.48,1936.19 L772.26,1935.97 L777.13,1935.73 L782.11,1935.47 L787.19,1935.19 L792.39,1934.89 L797.69,1934.56 L803.11,1934.22 L808.65,1933.84 L814.30,1933.44 L820.08,1933.02 L825.99,1932.57 L832.02,1932.09 L838.19,1931.59 L844.49,1931.05 L850.93,1930.49 L857.51,1929.90 L864.24,1929.28 L871.11,1928.63 L878.13,1927.94 L885.30,1927.23 L892.62,1926.48 L900.11,1925.70 L907.75,1924.88" fill="none" stroke="#000" stroke-width="3.50" stroke-linejoin="round"/>
<circle cx="183.66" cy="1964.13" r="6.7" fill="#fff" stroke="#000" stroke-width="1.8"/>
<circle cx="188.73" cy="1944.41" r="6.7" fill="#fff" stroke="#000" stroke-width="1.8"/>
<circle cx="193.79" cy="1963.18" r="6.7" fill="#fff" stroke="#000" stroke-width="1.8"/>
<circle cx="198.85" cy="1930.82" r="6.7" fill="#fff" stroke="#000" stroke-width="1.8"/>
<circle cx="203.92" cy="1966.41" r="6.7" fill="#fff" stroke="#000" stroke-width="1.8"/>
<circle cx="208.98" cy="1936.43" r="6.7" fill="#fff" stroke="#000" stroke-width="1.8"/>
<circle cx="219.11" cy="1944.79" r="6.7" fill="#fff" stroke="#000" stroke-width="1.8"/>
<circle cx="234.30" cy="1943.65" r="6.7" fill="#fff" stroke="#000" stroke-width="1.8"/>
<circle cx="300.13" cy="1937.85" r="6.7" fill="#fff" stroke="#000" stroke-width="1.8"/>
<circle cx="421.65" cy="1929.06" r="6.7" fill="#fff" stroke="#000" stroke-width="1.8"/>
<circle cx="543.18" cy="1931.06" r="6.7" fill="#fff" stroke="#000" stroke-width="1.8"/>
<circle cx="664.70" cy="1938.37" r="6.7" fill="#fff" stroke="#000" stroke-width="1.8"/>
<circle cx="786.23" cy="1937.99" r="6.7" fill="#fff" stroke="#000" stroke-width="1.8"/>
<circle cx="907.75" cy="1924.88" r="6.7" fill="#fff" stroke="#000" stroke-width="1.8"/>
<path d="M183.66,2424.04 L183.98,2423.33 L184.29,2422.65 L184.60,2422.01 L184.90,2421.42 L185.19,2420.86 L185.48,2420.33 L185.76,2419.84 L186.03,2419.39 L186.30,2418.97 L186.56,2418.58 L186.82,2418.22 L187.07,2417.89 L187.32,2417.59 L187.56,2417.32 L187.79,2417.08 L188.02,2416.86 L188.25,2416.66 L188.47,2416.49 L188.69,2416.35 L188.90,2416.22 L189.11,2416.12 L189.31,2416.03 L189.51,2415.97 L189.70,2415.92 L189.89,2415.88 L190.08,2415.87 L190.26,2415.86 L190.44,2415.87 L190.62,2415.89 L190.79,2415.93 L190.96,2415.97 L191.13,2416.02 L191.29,2416.08 L191.46,2416.15 L191.61,2416.23 L191.77,2416.30 L191.92,2416.39 L192.07,2416.47 L192.22,2416.56 L192.37,2416.64 L192.51,2416.73 L192.66,2416.82 L192.80,2416.90 L192.94,2416.98 L193.07,2417.05 L193.21,2417.12 L193.34,2417.18 L193.48,2417.24 L193.61,2417.28 L193.74,2417.32 L193.87,2417.35 L194.00,2417.38 L194.13,2417.40 L194.26,2417.41 L194.38,2417.41 L194.51,2417.41 L194.63,2417.40 L194.76,2417.38 L194.88,2417.36 L195.00,2417.34 L195.12,2417.30 L195.24,2417.27 L195.36,2417.22 L195.48,2417.18 L195.60,2417.12 L195.72,2417.07 L195.84,2417.01 L195.95,2416.94 L196.07,2416.87 L196.18,2416.80 L196.30,2416.72 L196.41,2416.64 L196.52,2416.56 L196.63,2416.48 L196.75,2416.39 L196.86,2416.30 L196.97,2416.20 L197.08,2416.11 L197.19,2416.01 L197.30,2415.91 L197.41,2415.81 L197.52,2415.71 L197.63,2415.60 L197.74,2415.50 L197.85,2415.39 L197.95,2415.29 L198.06,2415.18 L198.17,2415.07 L198.28,2414.96 L198.39,2414.86 L198.49,2414.75 L198.60,2414.64 L198.71,2414.54 L198.82,2414.43 L198.92,2414.33 L199.03,2414.23 L199.14,2414.13 L199.24,2414.03 L199.35,2413.93 L199.46,2413.83 L199.57,2413.73 L199.67,2413.63 L199.78,2413.53 L199.89,2413.44 L200.00,2413.34 L200.10,2413.24 L200.21,2413.15 L200.32,2413.05 L200.43,2412.96 L200.53,2412.86 L200.64,2412.76 L200.75,2412.67 L200.85,2412.57 L200.96,2412.47 L201.07,2412.37 L201.18,2412.27 L201.28,2412.18 L201.39,2412.07 L201.50,2411.97 L201.61,2411.87 L201.71,2411.77 L201.82,2411.66 L201.93,2411.56 L202.03,2411.45 L202.14,2411.34 L202.25,2411.23 L202.36,2411.12 L202.46,2411.01 L202.57,2410.89 L202.68,2410.77 L202.79,2410.65 L202.89,2410.53 L203.00,2410.41 L203.11,2410.28 L203.22,2410.16 L203.32,2410.03 L203.43,2409.89 L203.54,2409.76 L203.64,2409.62 L203.75,2409.48 L203.86,2409.34 L203.97,2409.19 L204.07,2409.04 L204.18,2408.89 L204.29,2408.73 L204.40,2408.57 L204.50,2408.41 L204.61,2408.25 L204.72,2408.08 L204.83,2407.90 L204.94,2407.73 L205.05,2407.55 L205.16,2407.36 L205.27,2407.17 L205.38,2406.98 L205.49,2406.79 L205.61,2406.58 L205.72,2406.38 L205.83,2406.17 L205.95,2405.96 L206.06,2405.74 L206.18,2405.52 L206.30,2405.29 L206.42,2405.06 L206.54,2404.82 L206.66,2404.58 L206.78,2404.33 L206.91,2404.08 L207.03,2403.82 L207.16,2403.56 L207.28,2403.29 L207.41,2403.01 L207.54,2402.74 L207.68,2402.45 L207.81,2402.16 L207.94,2401.86 L208.08,2401.56 L208.22,2401.25 L208.36,2400.94 L208.50,2400.62 L208.65,2400.29 L208.79,2399.96 L208.94,2399.62 L209.09,2399.27 L209.24,2398.92 L209.39,2398.56 L209.55,2398.19 L209.71,2397.82 L209.87,2397.44 L210.03,2397.05 L210.20,2396.66 L210.36,2396.26 L210.53,2395.85 L210.71,2395.44 L210.88,2395.02 L211.06,2394.60 L211.23,2394.17 L211.42,2393.74 L211.60,2393.30 L211.78,2392.86 L211.97,2392.41 L212.16,2391.96 L212.35,2391.51 L212.55,2391.05 L212.75,2390.59 L212.95,2390.13 L213.15,2389.66 L213.35,2389.19 L213.56,2388.73 L213.76,2388.25 L213.98,2387.78 L214.19,2387.31 L214.40,2386.83 L214.62,2386.36 L214.84,2385.88 L215.06,2385.40 L215.29,2384.93 L215.51,2384.45 L215.74,2383.98 L215.97,2383.50 L216.21,2383.03 L216.44,2382.56 L216.68,2382.09 L216.92,2381.62 L217.16,2381.15 L217.41,2380.69 L217.65,2380.23 L217.90,2379.77 L218.15,2379.31 L218.41,2378.86 L218.66,2378.41 L218.92,2377.97 L219.18,2377.53 L219.44,2377.09 L219.71,2376.66 L219.98,2376.24 L220.25,2375.82 L220.52,2375.40 L220.79,2374.99 L221.07,2374.58 L221.36,2374.18 L221.65,2373.77 L221.94,2373.37 L222.24,2372.97 L222.54,2372.57 L222.85,2372.17 L223.17,2371.77 L223.49,2371.37 L223.82,2370.97 L224.16,2370.57 L224.51,2370.16 L224.87,2369.75 L225.23,2369.34 L225.61,2368.92 L225.99,2368.50 L226.39,2368.07 L226.80,2367.64 L227.21,2367.20 L227.64,2366.75 L228.09,2366.29 L228.54,2365.83 L229.01,2365.36 L229.49,2364.88 L229.99,2364.39 L230.50,2363.89 L231.03,2363.37 L231.57,2362.85 L232.12,2362.31 L232.70,2361.76 L233.29,2361.20 L233.89,2360.63 L234.52,2360.04 L235.16,2359.43 L235.82,2358.81 L236.50,2358.18 L237.20,2357.52 L237.91,2356.85 L238.65,2356.17 L239.41,2355.46 L240.19,2354.74 L240.99,2353.99 L241.82,2353.23 L242.66,2352.45 L243.53,2351.64 L244.42,2350.82 L245.33,2349.97 L246.27,2349.10 L247.23,2348.22 L248.21,2347.32 L249.22,2346.40 L250.24,2345.46 L251.30,2344.50 L252.37,2343.53 L253.47,2342.54 L254.59,2341.53 L255.73,2340.51 L256.90,2339.47 L258.09,2338.42 L259.31,2337.35 L260.55,2336.27 L261.81,2335.18 L263.09,2334.07 L264.40,2332.96 L265.74,2331.83 L267.09,2330.68 L268.47,2329.53 L269.88,2328.37 L271.31,2327.20 L272.76,2326.01 L274.23,2324.82 L275.73,2323.62 L277.26,2322.41 L278.81,2321.19 L280.38,2319.97 L281.98,2318.74 L283.60,2317.50 L285.24,2316.26 L286.91,2315.01 L288.61,2313.76 L290.32,2312.50 L292.07,2311.23 L293.84,2309.97 L295.63,2308.70 L297.45,2307.43 L299.29,2306.15 L301.15,2304.88 L303.04,2303.60 L304.96,2302.32 L306.90,2301.04 L308.87,2299.76 L310.86,2298.48 L312.88,2297.20 L314.91,2295.93 L316.98,2294.65 L319.06,2293.37 L321.17,2292.10 L323.30,2290.83 L325.46,2289.56 L327.63,2288.30 L329.82,2287.03 L332.04,2285.77 L334.27,2284.52 L336.52,2283.26 L338.79,2282.01 L341.08,2280.77 L343.38,2279.52 L345.71,2278.29 L348.04,2277.05 L350.40,2275.83 L352.77,2274.60 L355.15,2273.39 L357.55,2272.18 L359.96,2270.97 L362.38,2269.77 L364.82,2268.58 L367.26,2267.40 L369.72,2266.22 L372.19,2265.05 L374.67,2263.88 L377.16,2262.73 L379.66,2261.58 L382.17,2260.44 L384.69,2259.31 L387.21,2258.18 L389.74,2257.07 L392.28,2255.97 L394.82,2254.87 L397.37,2253.79 L399.93,2252.71 L402.49,2251.65 L405.05,2250.59 L407.62,2249.55 L410.19,2248.52 L412.76,2247.49 L415.33,2246.48 L417.91,2245.49 L420.48,2244.50 L423.06,2243.53 L425.63,2242.56 L428.21,2241.62 L430.78,2240.68 L433.36,2239.75 L435.93,2238.84 L438.51,2237.94 L441.09,2237.04 L443.66,2236.16 L446.24,2235.29 L448.81,2234.44 L451.39,2233.59 L453.96,2232.75 L456.54,2231.92 L459.12,2231.11 L461.69,2230.30 L464.27,2229.50 L466.84,2228.72 L469.42,2227.94 L471.99,2227.17 L474.57,2226.41 L477.15,2225.66 L479.72,2224.92 L482.30,2224.19 L484.87,2223.46 L487.45,2222.75 L490.02,2222.04 L492.60,2221.34 L495.18,2220.65 L497.75,2219.96 L500.33,2219.29 L502.90,2218.62 L505.48,2217.96 L508.05,2217.30 L510.63,2216.66 L513.21,2216.01 L515.78,2215.38 L518.36,2214.75 L520.93,2214.13 L523.51,2213.52 L526.08,2212.91 L528.66,2212.30 L531.24,2211.70 L533.81,2211.11 L536.39,2210.53 L538.96,2209.94 L541.54,2209.37 L544.11,2208.79 L546.69,2208.23 L549.27,2207.66 L551.84,2207.10 L554.42,2206.55 L557.01,2206.00 L559.59,2205.45 L562.18,2204.91 L564.78,2204.37 L567.37,2203.83 L569.98,2203.30 L572.59,2202.77 L575.20,2202.24 L577.83,2201.72 L580.46,2201.20 L583.10,2200.68 L585.75,2200.16 L588.41,2199.65 L591.07,2199.14 L593.75,2198.63 L596.44,2198.12 L599.14,2197.61 L601.86,2197.10 L604.58,2196.60 L607.32,2196.09 L610.08,2195.59 L612.85,2195.09 L615.63,2194.58 L618.43,2194.08 L621.25,2193.58 L624.08,2193.08 L626.93,2192.58 L629.80,2192.07 L632.69,2191.57 L635.60,2191.07 L638.53,2190.56 L641.47,2190.06 L644.44,2189.55 L647.43,2189.05 L650.45,2188.54 L653.48,2188.03 L656.54,2187.52 L659.62,2187.00 L662.73,2186.49 L665.86,2185.97 L669.02,2185.45 L672.20,2184.93 L675.42,2184.40 L678.65,2183.87 L681.92,2183.34 L685.23,2182.81 L688.57,2182.28 L691.95,2181.75 L695.37,2181.21 L698.84,2180.68 L702.35,2180.15 L705.92,2179.62 L709.54,2179.10 L713.21,2178.57 L716.95,2178.06 L720.75,2177.54 L724.61,2177.03 L728.54,2176.53 L732.55,2176.03 L736.62,2175.54 L740.78,2175.06 L745.01,2174.58 L749.33,2174.12 L753.73,2173.66 L758.22,2173.21 L762.81,2172.77 L767.48,2172.35 L772.26,2171.93 L777.13,2171.53 L782.11,2171.14 L787.19,2170.76 L792.39,2170.40 L797.69,2170.05 L803.11,2169.71 L808.65,2169.40 L814.30,2169.09 L820.08,2168.81 L825.99,2168.54 L832.02,2168.29 L838.19,2168.06 L844.49,2167.85 L850.93,2167.66 L857.51,2167.49 L864.24,2167.34 L871.11,2167.21 L878.13,2167.10 L885.30,2167.02 L892.62,2166.95 L900.11,2166.92 L907.75,2166.91" fill="none" stroke="#000" stroke-width="3.50" stroke-linejoin="round"/>
<path d="M183.66,2415.27L191.26,2428.43L176.06,2428.43Z" fill="#fff" stroke="#000" stroke-width="1.8"/>
<path d="M188.73,2403.67L196.33,2416.84L181.13,2416.84Z" fill="#fff" stroke="#000" stroke-width="1.8"/>
<path d="M193.79,2411.37L201.39,2424.53L186.19,2424.53Z" fill="#fff" stroke="#000" stroke-width="1.8"/>
<path d="M198.85,2405.19L206.45,2418.36L191.25,2418.36Z" fill="#fff" stroke="#000" stroke-width="1.8"/>
<path d="M203.92,2401.58L211.52,2414.75L196.32,2414.75Z" fill="#fff" stroke="#000" stroke-width="1.8"/>
<path d="M208.98,2391.36L216.58,2404.53L201.38,2404.53Z" fill="#fff" stroke="#000" stroke-width="1.8"/>
<path d="M219.11,2365.56L226.71,2378.72L211.51,2378.72Z" fill="#fff" stroke="#000" stroke-width="1.8"/>
<path d="M234.30,2351.40L241.90,2364.56L226.70,2364.56Z" fill="#fff" stroke="#000" stroke-width="1.8"/>
<path d="M300.13,2290.43L307.73,2303.59L292.53,2303.59Z" fill="#fff" stroke="#000" stroke-width="1.8"/>
<path d="M421.65,2230.69L429.25,2243.86L414.05,2243.86Z" fill="#fff" stroke="#000" stroke-width="1.8"/>
<path d="M543.18,2198.48L550.78,2211.64L535.58,2211.64Z" fill="#fff" stroke="#000" stroke-width="1.8"/>
<path d="M664.70,2176.76L672.30,2189.92L657.10,2189.92Z" fill="#fff" stroke="#000" stroke-width="1.8"/>
<path d="M786.23,2158.13L793.83,2171.29L778.63,2171.29Z" fill="#fff" stroke="#000" stroke-width="1.8"/>
<path d="M907.75,2158.13L915.35,2171.29L900.15,2171.29Z" fill="#fff" stroke="#000" stroke-width="1.8"/>
</g>
<g stroke="#000" fill="none" stroke-linecap="butt">
<path d="M177.10,1844.90H939.34" stroke-width="3.0"/>
<path d="M177.10,2510.20H939.34" stroke-width="3.0"/>
<path d="M178.60,1843.40V2511.70" stroke-width="3.0"/>
<path d="M938.14,1843.40V2511.70" stroke-width="2.4"/>
<path d="M166.60,2510.20H178.60" stroke-width="3.0"/>
<path d="M172.10,2462.68H178.60" stroke-width="2.6"/>
<path d="M166.60,2415.16H178.60" stroke-width="3.0"/>
<path d="M172.10,2367.64H178.60" stroke-width="2.6"/>
<path d="M166.60,2320.11H178.60" stroke-width="3.0"/>
<path d="M172.10,2272.59H178.60" stroke-width="2.6"/>
<path d="M166.60,2225.07H178.60" stroke-width="3.0"/>
<path d="M172.10,2177.55H178.60" stroke-width="2.6"/>
<path d="M166.60,2130.03H178.60" stroke-width="3.0"/>
<path d="M172.10,2082.51H178.60" stroke-width="2.6"/>
<path d="M166.60,2034.99H178.60" stroke-width="3.0"/>
<path d="M172.10,1987.46H178.60" stroke-width="2.6"/>
<path d="M166.60,1939.94H178.60" stroke-width="3.0"/>
<path d="M172.10,1892.42H178.60" stroke-width="2.6"/>
<path d="M166.60,1844.90H178.60" stroke-width="3.0"/>
<path d="M178.60,2510.20V2522.20" stroke-width="3.0"/>
<path d="M229.24,2510.20V2516.70" stroke-width="2.6"/>
<path d="M279.87,2510.20V2522.20" stroke-width="3.0"/>
<path d="M330.51,2510.20V2516.70" stroke-width="2.6"/>
<path d="M381.14,2510.20V2522.20" stroke-width="3.0"/>
<path d="M431.78,2510.20V2516.70" stroke-width="2.6"/>
<path d="M482.41,2510.20V2522.20" stroke-width="3.0"/>
<path d="M533.05,2510.20V2516.70" stroke-width="2.6"/>
<path d="M583.69,2510.20V2522.20" stroke-width="3.0"/>
<path d="M634.32,2510.20V2516.70" stroke-width="2.6"/>
<path d="M684.96,2510.20V2522.20" stroke-width="3.0"/>
<path d="M735.59,2510.20V2516.70" stroke-width="2.6"/>
<path d="M786.23,2510.20V2522.20" stroke-width="3.0"/>
<path d="M836.86,2510.20V2516.70" stroke-width="2.6"/>
<path d="M887.50,2510.20V2522.20" stroke-width="3.0"/>
<path d="M938.14,2510.20V2516.70" stroke-width="2.6"/>
</g>
<text x="159.80" y="2516.60" font-family="Liberation Sans, Arial, sans-serif" font-size="23.00" font-weight="normal" text-anchor="end">0</text>
<text x="159.80" y="2421.56" font-family="Liberation Sans, Arial, sans-serif" font-size="23.00" font-weight="normal" text-anchor="end">20</text>
<text x="159.80" y="2326.51" font-family="Liberation Sans, Arial, sans-serif" font-size="23.00" font-weight="normal" text-anchor="end">40</text>
<text x="159.80" y="2231.47" font-family="Liberation Sans, Arial, sans-serif" font-size="23.00" font-weight="normal" text-anchor="end">60</text>
<text x="159.80" y="2136.43" font-family="Liberation Sans, Arial, sans-serif" font-size="23.00" font-weight="normal" text-anchor="end">80</text>
<text x="159.80" y="2041.39" font-family="Liberation Sans, Arial, sans-serif" font-size="23.00" font-weight="normal" text-anchor="end">100</text>
<text x="159.80" y="1946.34" font-family="Liberation Sans, Arial, sans-serif" font-size="23.00" font-weight="normal" text-anchor="end">120</text>
<text x="159.80" y="1851.30" font-family="Liberation Sans, Arial, sans-serif" font-size="23.00" font-weight="normal" text-anchor="end">140</text>
<text x="178.60" y="2548.10" font-family="Liberation Sans, Arial, sans-serif" font-size="23.00" font-weight="normal" text-anchor="middle">0</text>
<text x="279.87" y="2548.10" font-family="Liberation Sans, Arial, sans-serif" font-size="23.00" font-weight="normal" text-anchor="middle">20</text>
<text x="381.14" y="2548.10" font-family="Liberation Sans, Arial, sans-serif" font-size="23.00" font-weight="normal" text-anchor="middle">40</text>
<text x="482.41" y="2548.10" font-family="Liberation Sans, Arial, sans-serif" font-size="23.00" font-weight="normal" text-anchor="middle">60</text>
<text x="583.69" y="2548.10" font-family="Liberation Sans, Arial, sans-serif" font-size="23.00" font-weight="normal" text-anchor="middle">80</text>
<text x="684.96" y="2548.10" font-family="Liberation Sans, Arial, sans-serif" font-size="23.00" font-weight="normal" text-anchor="middle">100</text>
<text x="786.23" y="2548.10" font-family="Liberation Sans, Arial, sans-serif" font-size="23.00" font-weight="normal" text-anchor="middle">120</text>
<text x="887.50" y="2548.10" font-family="Liberation Sans, Arial, sans-serif" font-size="23.00" font-weight="normal" text-anchor="middle">140</text>
<text transform="translate(102.10,2196.90) rotate(-90)" x="0" y="0" font-family="Liberation Sans, Arial, sans-serif" font-size="31" font-weight="bold" text-anchor="middle" textLength="427.6" lengthAdjust="spacingAndGlyphs">Static contact angle(degrees)</text>
<text x="506.70" y="2594.60" font-family="Liberation Sans, Arial, sans-serif" font-size="31" font-weight="bold" textLength="105.6" lengthAdjust="spacingAndGlyphs">Time(h)</text>
<text x="487.50" y="2681.80" font-family="Liberation Serif, Times New Roman, serif" font-size="44">(<tspan font-weight="bold">c</tspan>)</text>
<path d="M659.90,2291.90H723.50" stroke="#808080" stroke-width="3.0" stroke-linecap="round"/>
<g transform="translate(691.50,2291.90) scale(1.00) translate(-691.50,-2291.90)"><path d="M691.50,2282.90L700.50,2291.90L691.50,2300.90L682.50,2291.90Z" fill="#000"/></g>
<text x="731.60" y="2301.10" font-family="Liberation Sans, Arial, sans-serif" font-size="30.60" font-weight="normal" text-anchor="start">Zinc oxide</text>
<path d="M659.90,2328.90H723.50" stroke="#808080" stroke-width="3.0" stroke-linecap="round"/>
<g transform="translate(691.50,2328.90) scale(1.00) translate(-691.50,-2328.90)"><rect x="684.70" y="2322.10" width="13.60" height="13.60" fill="#000"/></g>
<text x="731.60" y="2338.10" font-family="Liberation Sans, Arial, sans-serif" font-size="30.60" font-weight="normal" text-anchor="start">Silica</text>
<path d="M659.90,2365.90H723.50" stroke="#000" stroke-width="3.0" stroke-linecap="round"/>
<g transform="translate(691.50,2365.90) scale(1.00) translate(-691.50,-2365.90)"><circle cx="691.50" cy="2365.90" r="6.7" fill="#fff" stroke="#000" stroke-width="1.8"/></g>
<text x="731.60" y="2375.10" font-family="Liberation Sans, Arial, sans-serif" font-size="30.60" font-weight="normal" text-anchor="start">Kieselguhr</text>
<path d="M659.90,2402.90H723.50" stroke="#000" stroke-width="3.0" stroke-linecap="round"/>
<g transform="translate(691.50,2402.90) scale(1.05) translate(-691.50,-2402.90)"><path d="M691.50,2394.12L699.10,2407.29L683.90,2407.29Z" fill="#fff" stroke="#000" stroke-width="1.8"/></g>
<text x="731.60" y="2412.10" font-family="Liberation Sans, Arial, sans-serif" font-size="30.60" font-weight="normal" text-anchor="start">Kaolin</text>
</svg>
</body></html>
